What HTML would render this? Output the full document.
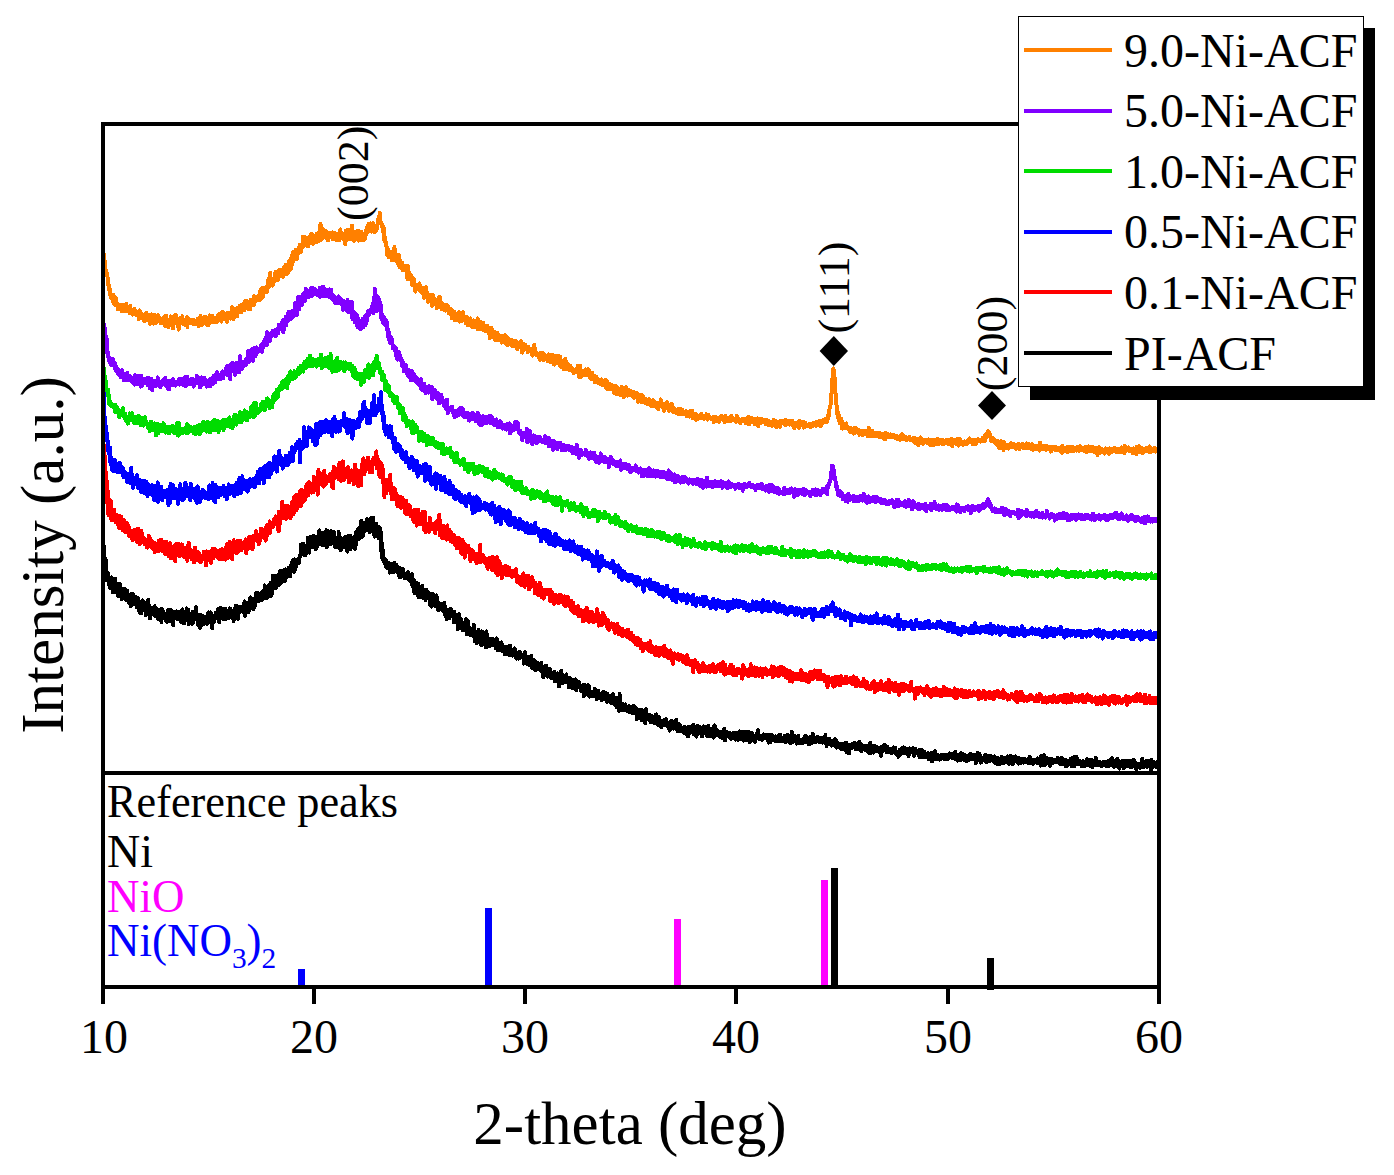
<!DOCTYPE html>
<html><head><meta charset="utf-8"><style>
html,body{margin:0;padding:0;background:#fff;}
svg{display:block;}
text{font-family:"Liberation Serif", serif;}
</style></head><body>
<svg width="1394" height="1175" viewBox="0 0 1394 1175">
<rect x="0" y="0" width="1394" height="1175" fill="#fff"/>
<g clip-path="url(#clip)">
<polyline fill="none" stroke="#FF8000" stroke-width="4.0" stroke-linejoin="round" shape-rendering="crispEdges" points="103.00,250.5 103.42,253.4 103.84,255.0 104.26,260.4 104.68,260.8 105.10,264.2 105.52,268.8 105.94,271.3 106.36,272.9 106.78,272.9 107.20,274.8 107.62,277.3 108.04,281.6 108.46,285.4 108.88,285.5 109.30,287.7 109.72,294.2 110.14,289.4 110.56,295.4 110.98,298.0 111.40,294.7 111.82,295.0 112.24,296.7 112.66,301.3 113.08,299.6 113.50,295.1 113.92,299.7 114.34,304.3 114.76,304.7 115.18,304.2 115.60,302.1 116.02,298.0 116.44,304.2 116.86,303.6 117.28,304.8 117.70,309.4 118.12,305.9 118.54,306.5 118.96,307.8 119.38,305.7 119.80,304.8 120.22,304.9 120.64,309.5 121.06,309.1 121.48,306.5 121.90,311.4 122.32,308.9 122.74,304.7 123.16,310.5 123.58,308.6 124.00,305.4 124.42,310.8 124.84,308.5 125.26,308.5 125.68,311.5 126.10,303.8 126.52,306.5 126.94,309.1 127.36,311.1 127.78,308.7 128.20,307.9 128.62,307.9 129.04,310.7 129.46,313.1 129.88,307.3 130.30,305.7 130.72,310.8 131.14,310.8 131.56,309.4 131.98,313.9 132.40,314.6 132.82,310.9 133.24,311.6 133.66,314.3 134.08,311.7 134.50,309.1 134.92,313.0 135.34,310.8 135.76,314.4 136.18,312.2 136.60,313.2 137.02,315.4 137.44,313.7 137.86,312.4 138.28,311.5 138.70,319.3 139.12,317.7 139.54,310.5 139.96,311.9 140.38,316.6 140.80,313.5 141.22,315.3 141.64,317.7 142.06,315.9 142.48,315.3 142.90,314.5 143.32,315.7 143.74,317.2 144.16,321.1 144.58,319.3 145.00,316.0 145.42,319.2 145.84,317.1 146.26,312.8 146.68,316.8 147.10,320.0 147.52,315.7 147.94,320.1 148.36,316.8 148.78,317.8 149.20,314.6 149.62,323.8 150.04,319.4 150.46,321.1 150.88,317.2 151.30,314.5 151.72,322.0 152.14,316.8 152.56,323.5 152.98,318.6 153.40,323.7 153.82,317.3 154.24,314.6 154.66,321.5 155.08,319.5 155.50,319.8 155.92,322.8 156.34,317.6 156.76,316.5 157.18,317.0 157.60,315.7 158.02,315.4 158.44,317.0 158.86,318.0 159.28,319.5 159.70,317.5 160.12,320.6 160.54,323.1 160.96,320.5 161.38,322.4 161.80,318.8 162.22,322.2 162.64,322.8 163.06,319.8 163.48,317.4 163.90,321.2 164.32,321.8 164.74,325.8 165.16,320.8 165.58,326.5 166.00,315.5 166.42,321.3 166.84,320.9 167.26,321.2 167.68,320.9 168.10,322.3 168.52,326.9 168.94,322.1 169.36,325.8 169.78,322.4 170.20,323.0 170.62,316.3 171.04,323.0 171.46,324.4 171.88,319.7 172.30,321.1 172.72,320.4 173.14,328.5 173.56,320.1 173.98,320.7 174.40,315.3 174.82,318.4 175.24,323.1 175.66,319.1 176.08,315.0 176.50,321.7 176.92,322.7 177.34,323.0 177.76,323.3 178.18,320.6 178.60,329.7 179.02,320.6 179.44,323.2 179.86,318.5 180.28,320.2 180.70,317.7 181.12,322.4 181.54,320.6 181.96,319.0 182.38,316.2 182.80,323.1 183.22,323.7 183.64,323.8 184.06,321.2 184.48,323.3 184.90,323.9 185.32,322.8 185.74,325.3 186.16,320.9 186.58,321.9 187.00,317.3 187.42,327.1 187.84,319.4 188.26,322.3 188.68,323.2 189.10,319.3 189.52,321.4 189.94,323.4 190.36,321.2 190.78,320.7 191.20,320.7 191.62,319.6 192.04,321.1 192.46,322.5 192.88,322.8 193.30,324.5 193.72,321.7 194.14,320.2 194.56,323.9 194.98,322.5 195.40,324.3 195.82,322.1 196.24,323.1 196.66,322.7 197.08,323.6 197.50,319.0 197.92,321.3 198.34,322.1 198.76,326.3 199.18,321.4 199.60,322.9 200.02,321.2 200.44,316.0 200.86,325.0 201.28,323.5 201.70,325.0 202.12,317.9 202.54,322.4 202.96,322.1 203.38,317.3 203.80,322.8 204.22,319.9 204.64,322.8 205.06,316.9 205.48,319.0 205.90,319.4 206.32,317.2 206.74,321.4 207.16,324.7 207.58,321.1 208.00,322.8 208.42,325.0 208.84,322.4 209.26,319.8 209.68,315.5 210.10,321.6 210.52,319.7 210.94,319.3 211.36,322.4 211.78,321.8 212.20,316.0 212.62,320.8 213.04,319.2 213.46,322.3 213.88,319.8 214.30,322.3 214.72,317.9 215.14,318.5 215.56,318.0 215.98,318.9 216.40,318.7 216.82,322.5 217.24,316.4 217.66,319.2 218.08,315.6 218.50,314.7 218.92,316.9 219.34,314.2 219.76,318.6 220.18,316.0 220.60,316.3 221.02,318.8 221.44,321.7 221.86,315.7 222.28,311.6 222.70,315.7 223.12,316.5 223.54,319.5 223.96,316.0 224.38,313.5 224.80,318.3 225.22,318.5 225.64,314.8 226.06,315.9 226.48,315.9 226.90,321.8 227.32,312.8 227.74,313.1 228.16,313.8 228.58,315.8 229.00,312.8 229.42,314.9 229.84,315.7 230.26,318.6 230.68,312.4 231.10,311.8 231.52,311.6 231.94,307.2 232.36,308.9 232.78,312.4 233.20,312.2 233.62,318.9 234.04,314.9 234.46,313.4 234.88,315.2 235.30,309.1 235.72,309.2 236.14,308.5 236.56,310.0 236.98,316.3 237.40,309.3 237.82,308.1 238.24,309.8 238.66,311.9 239.08,310.7 239.50,311.6 239.92,305.6 240.34,306.3 240.76,307.9 241.18,308.7 241.60,312.1 242.02,304.4 242.44,309.6 242.86,307.0 243.28,309.1 243.70,305.3 244.12,303.0 244.54,310.1 244.96,307.3 245.38,300.8 245.80,308.0 246.22,302.9 246.64,305.3 247.06,305.3 247.48,301.2 247.90,308.0 248.32,303.1 248.74,308.9 249.16,305.4 249.58,305.2 250.00,304.3 250.42,308.9 250.84,300.0 251.26,300.4 251.68,300.5 252.10,305.4 252.52,304.8 252.94,301.8 253.36,302.0 253.78,296.2 254.20,304.9 254.62,299.7 255.04,300.3 255.46,298.8 255.88,301.2 256.30,298.4 256.72,299.0 257.14,298.6 257.56,296.5 257.98,295.9 258.40,298.4 258.82,298.0 259.24,298.7 259.66,300.4 260.08,292.2 260.50,290.0 260.92,293.7 261.34,298.2 261.76,293.9 262.18,288.2 262.60,297.7 263.02,294.0 263.44,287.6 263.86,289.1 264.28,291.3 264.70,288.8 265.12,289.5 265.54,290.9 265.96,288.8 266.38,292.4 266.80,287.1 267.22,291.6 267.64,284.9 268.06,282.5 268.48,279.2 268.90,282.3 269.32,284.7 269.74,286.7 270.16,273.0 270.58,282.6 271.00,279.3 271.42,283.8 271.84,279.6 272.26,281.6 272.68,285.7 273.10,280.1 273.52,278.8 273.94,281.8 274.36,279.2 274.78,277.3 275.20,272.5 275.62,275.9 276.04,271.4 276.46,276.7 276.88,277.4 277.30,275.4 277.72,280.4 278.14,270.9 278.56,275.2 278.98,273.7 279.40,269.6 279.82,274.4 280.24,275.1 280.66,275.7 281.08,271.5 281.50,273.7 281.92,269.5 282.34,275.9 282.76,276.7 283.18,271.4 283.60,271.4 284.02,267.2 284.44,270.3 284.86,268.9 285.28,270.4 285.70,265.1 286.12,274.6 286.54,269.4 286.96,271.7 287.38,269.4 287.80,266.5 288.22,272.8 288.64,269.7 289.06,260.9 289.48,264.8 289.90,263.5 290.32,261.0 290.74,269.6 291.16,258.2 291.58,266.2 292.00,255.3 292.42,264.3 292.84,257.7 293.26,251.6 293.68,258.9 294.10,259.0 294.52,253.9 294.94,259.6 295.36,250.1 295.78,258.4 296.20,256.0 296.62,259.2 297.04,251.6 297.46,255.0 297.88,249.7 298.30,253.6 298.72,251.2 299.14,252.4 299.56,245.1 299.98,250.3 300.40,249.3 300.82,252.4 301.24,245.8 301.66,245.8 302.08,247.9 302.50,247.0 302.92,236.5 303.34,243.3 303.76,246.6 304.18,242.2 304.60,236.8 305.02,241.4 305.44,242.1 305.86,238.7 306.28,241.9 306.70,237.8 307.12,240.5 307.54,241.1 307.96,246.5 308.38,241.6 308.80,244.4 309.22,240.8 309.64,236.1 310.06,235.9 310.48,242.1 310.90,234.1 311.32,233.9 311.74,241.9 312.16,236.1 312.58,234.8 313.00,243.9 313.42,235.4 313.84,240.1 314.26,237.8 314.68,238.2 315.10,237.8 315.52,240.8 315.94,242.2 316.36,234.1 316.78,242.1 317.20,236.1 317.62,236.1 318.04,238.7 318.46,234.5 318.88,233.0 319.30,240.8 319.72,233.6 320.14,228.2 320.56,223.9 320.98,235.6 321.40,233.7 321.82,239.6 322.24,229.7 322.66,229.2 323.08,233.1 323.50,237.3 323.92,237.4 324.34,232.7 324.76,230.4 325.18,233.1 325.60,237.7 326.02,232.5 326.44,231.5 326.86,234.6 327.28,234.0 327.70,233.9 328.12,240.6 328.54,236.2 328.96,234.6 329.38,233.3 329.80,233.7 330.22,236.5 330.64,237.4 331.06,233.0 331.48,233.5 331.90,234.5 332.32,232.4 332.74,239.2 333.16,232.7 333.58,236.3 334.00,239.2 334.42,232.8 334.84,233.3 335.26,235.8 335.68,238.0 336.10,237.0 336.52,236.6 336.94,240.6 337.36,234.6 337.78,234.2 338.20,238.6 338.62,236.8 339.04,239.5 339.46,239.9 339.88,232.7 340.30,229.4 340.72,238.0 341.14,236.0 341.56,237.0 341.98,233.0 342.40,238.6 342.82,235.1 343.24,237.6 343.66,238.8 344.08,236.1 344.50,235.3 344.92,233.3 345.34,244.4 345.76,230.8 346.18,237.6 346.60,230.2 347.02,232.3 347.44,239.6 347.86,232.4 348.28,238.3 348.70,233.4 349.12,237.5 349.54,229.9 349.96,230.8 350.38,239.4 350.80,235.7 351.22,231.3 351.64,233.2 352.06,225.8 352.48,234.2 352.90,231.1 353.32,232.5 353.74,240.9 354.16,234.3 354.58,234.3 355.00,232.9 355.42,238.9 355.84,238.7 356.26,234.1 356.68,231.4 357.10,236.2 357.52,237.3 357.94,230.4 358.36,240.7 358.78,233.9 359.20,237.2 359.62,234.3 360.04,234.4 360.46,239.9 360.88,237.2 361.30,231.9 361.72,238.0 362.14,239.6 362.56,236.3 362.98,240.4 363.40,233.7 363.82,239.5 364.24,236.5 364.66,235.6 365.08,238.7 365.50,235.5 365.92,231.0 366.34,232.7 366.76,227.7 367.18,230.6 367.60,232.4 368.02,231.3 368.44,224.1 368.86,225.3 369.28,228.0 369.70,227.8 370.12,223.4 370.54,226.8 370.96,227.6 371.38,231.7 371.80,227.7 372.22,226.9 372.64,223.9 373.06,223.2 373.48,231.3 373.90,228.7 374.32,227.2 374.74,232.1 375.16,230.5 375.58,228.6 376.00,231.1 376.42,226.7 376.84,229.5 377.26,227.1 377.68,222.8 378.10,221.2 378.52,218.0 378.94,221.4 379.36,215.9 379.78,212.6 380.20,220.4 380.62,221.7 381.04,222.0 381.46,224.4 381.88,223.9 382.30,224.6 382.72,231.3 383.14,226.8 383.56,227.9 383.98,231.1 384.40,240.9 384.82,237.0 385.24,241.8 385.66,242.2 386.08,242.6 386.50,246.5 386.92,247.6 387.34,255.1 387.76,248.5 388.18,251.1 388.60,257.4 389.02,256.1 389.44,254.1 389.86,255.5 390.28,253.0 390.70,256.2 391.12,254.9 391.54,251.8 391.96,260.4 392.38,255.3 392.80,257.5 393.22,254.5 393.64,252.7 394.06,251.4 394.48,247.0 394.90,259.8 395.32,252.9 395.74,257.3 396.16,259.5 396.58,255.4 397.00,259.0 397.42,262.4 397.84,261.1 398.26,264.2 398.68,254.7 399.10,265.4 399.52,266.8 399.94,260.5 400.36,267.6 400.78,264.5 401.20,265.4 401.62,268.3 402.04,262.4 402.46,270.0 402.88,265.5 403.30,270.5 403.72,268.2 404.14,269.6 404.56,266.5 404.98,269.3 405.40,266.1 405.82,267.9 406.24,266.1 406.66,270.6 407.08,268.2 407.50,279.0 407.92,269.6 408.34,266.2 408.76,277.0 409.18,273.3 409.60,276.8 410.02,276.4 410.44,274.8 410.86,276.4 411.28,275.9 411.70,284.4 412.12,283.0 412.54,277.9 412.96,285.6 413.38,285.1 413.80,279.0 414.22,281.9 414.64,286.0 415.06,286.0 415.48,291.7 415.90,285.9 416.32,289.0 416.74,285.0 417.16,286.4 417.58,287.1 418.00,287.1 418.42,288.2 418.84,288.1 419.26,283.4 419.68,290.6 420.10,285.5 420.52,291.7 420.94,291.6 421.36,292.2 421.78,288.8 422.20,291.9 422.62,293.6 423.04,290.4 423.46,288.1 423.88,297.9 424.30,292.6 424.72,292.3 425.14,291.3 425.56,291.0 425.98,287.1 426.40,292.1 426.82,292.4 427.24,293.3 427.66,301.8 428.08,296.0 428.50,295.4 428.92,297.0 429.34,294.7 429.76,301.0 430.18,301.0 430.60,295.4 431.02,300.7 431.44,300.2 431.86,305.9 432.28,302.0 432.70,294.5 433.12,297.6 433.54,301.3 433.96,300.9 434.38,303.1 434.80,299.3 435.22,300.7 435.64,304.5 436.06,302.2 436.48,300.7 436.90,308.0 437.32,301.1 437.74,302.1 438.16,299.5 438.58,303.1 439.00,297.6 439.42,307.4 439.84,296.9 440.26,306.1 440.68,301.5 441.10,305.3 441.52,308.9 441.94,304.9 442.36,306.7 442.78,303.7 443.20,305.0 443.62,309.7 444.04,304.5 444.46,309.4 444.88,307.8 445.30,306.5 445.72,310.7 446.14,305.6 446.56,309.6 446.98,305.2 447.40,308.5 447.82,305.9 448.24,310.4 448.66,312.8 449.08,313.4 449.50,312.0 449.92,311.8 450.34,310.2 450.76,310.7 451.18,309.4 451.60,318.2 452.02,312.5 452.44,312.7 452.86,313.8 453.28,311.4 453.70,318.6 454.12,313.1 454.54,312.0 454.96,320.0 455.38,318.7 455.80,317.5 456.22,314.7 456.64,320.4 457.06,316.7 457.48,317.7 457.90,320.4 458.32,318.0 458.74,316.5 459.16,312.1 459.58,321.5 460.00,312.4 460.42,316.7 460.84,316.5 461.26,317.7 461.68,318.3 462.10,320.9 462.52,318.8 462.94,312.2 463.36,320.0 463.78,316.9 464.20,319.2 464.62,317.0 465.04,320.3 465.46,320.0 465.88,323.1 466.30,322.3 466.72,323.8 467.14,317.3 467.56,325.2 467.98,320.2 468.40,322.9 468.82,323.7 469.24,324.0 469.66,321.7 470.08,318.4 470.50,324.6 470.92,326.0 471.34,325.9 471.76,325.9 472.18,327.3 472.60,325.6 473.02,322.1 473.44,325.3 473.86,320.4 474.28,323.4 474.70,323.9 475.12,326.8 475.54,323.1 475.96,323.4 476.38,322.7 476.80,325.6 477.22,319.8 477.64,318.5 478.06,329.3 478.48,328.2 478.90,326.8 479.32,326.2 479.74,323.8 480.16,321.6 480.58,327.0 481.00,323.0 481.42,328.8 481.84,327.2 482.26,322.9 482.68,327.6 483.10,322.5 483.52,325.5 483.94,330.2 484.36,326.0 484.78,327.4 485.20,326.7 485.62,327.2 486.04,331.5 486.46,330.4 486.88,330.8 487.30,325.6 487.72,329.3 488.14,328.3 488.56,330.9 488.98,328.1 489.40,333.7 489.82,338.5 490.24,332.0 490.66,330.4 491.08,334.2 491.50,328.1 491.92,331.2 492.34,335.2 492.76,332.1 493.18,333.3 493.60,337.2 494.02,334.5 494.44,335.6 494.86,331.8 495.28,340.2 495.70,333.9 496.12,336.3 496.54,335.6 496.96,335.5 497.38,332.7 497.80,335.5 498.22,336.7 498.64,340.3 499.06,337.4 499.48,336.1 499.90,338.0 500.32,338.2 500.74,337.7 501.16,338.9 501.58,342.7 502.00,338.7 502.42,335.6 502.84,337.8 503.26,338.6 503.68,337.8 504.10,340.2 504.52,342.5 504.94,335.2 505.36,337.6 505.78,339.4 506.20,342.4 506.62,336.3 507.04,343.6 507.46,345.1 507.88,344.4 508.30,342.2 508.72,338.4 509.14,340.5 509.56,340.3 509.98,342.3 510.40,344.5 510.82,343.8 511.24,340.2 511.66,345.0 512.08,345.7 512.50,340.3 512.92,340.4 513.34,341.8 513.76,344.0 514.18,340.7 514.60,346.3 515.02,343.9 515.44,345.6 515.86,342.2 516.28,341.5 516.70,344.9 517.12,349.2 517.54,346.2 517.96,347.8 518.38,343.4 518.80,343.1 519.22,344.7 519.64,346.4 520.06,345.1 520.48,342.1 520.90,341.3 521.32,346.1 521.74,345.2 522.16,352.6 522.58,344.5 523.00,343.7 523.42,348.1 523.84,345.7 524.26,346.8 524.68,349.5 525.10,344.7 525.52,346.3 525.94,346.0 526.36,346.2 526.78,346.5 527.20,347.7 527.62,352.1 528.04,348.6 528.46,346.8 528.88,349.2 529.30,348.1 529.72,350.3 530.14,350.3 530.56,348.7 530.98,350.2 531.40,352.7 531.82,354.8 532.24,351.6 532.66,355.5 533.08,354.9 533.50,349.3 533.92,351.5 534.34,345.0 534.76,350.6 535.18,352.8 535.60,351.4 536.02,353.9 536.44,353.1 536.86,355.0 537.28,353.1 537.70,355.5 538.12,355.0 538.54,355.4 538.96,357.3 539.38,353.3 539.80,359.8 540.22,355.6 540.64,356.6 541.06,355.5 541.48,355.1 541.90,352.9 542.32,355.2 542.74,353.0 543.16,353.5 543.58,360.5 544.00,356.9 544.42,356.3 544.84,354.7 545.26,357.2 545.68,357.4 546.10,359.0 546.52,357.3 546.94,358.2 547.36,360.8 547.78,359.3 548.20,360.8 548.62,354.3 549.04,357.8 549.46,361.5 549.88,359.2 550.30,362.4 550.72,358.4 551.14,362.1 551.56,354.9 551.98,357.7 552.40,360.1 552.82,357.0 553.24,355.1 553.66,362.2 554.08,364.6 554.50,361.2 554.92,357.4 555.34,360.7 555.76,357.7 556.18,356.0 556.60,362.6 557.02,362.7 557.44,361.7 557.86,358.5 558.28,355.6 558.70,363.4 559.12,361.9 559.54,364.8 559.96,358.5 560.38,356.8 560.80,365.0 561.22,366.7 561.64,365.6 562.06,364.8 562.48,363.8 562.90,365.2 563.32,362.3 563.74,369.2 564.16,368.0 564.58,360.0 565.00,367.5 565.42,359.1 565.84,365.6 566.26,364.3 566.68,368.9 567.10,365.8 567.52,365.3 567.94,369.0 568.36,364.4 568.78,364.6 569.20,370.1 569.62,368.2 570.04,367.6 570.46,366.1 570.88,367.5 571.30,367.1 571.72,369.1 572.14,369.0 572.56,368.5 572.98,368.9 573.40,372.9 573.82,371.1 574.24,370.8 574.66,369.8 575.08,371.0 575.50,370.5 575.92,371.3 576.34,372.0 576.76,369.7 577.18,369.8 577.60,365.9 578.02,369.1 578.44,372.2 578.86,377.0 579.28,377.3 579.70,372.0 580.12,365.7 580.54,373.5 580.96,373.9 581.38,376.6 581.80,371.5 582.22,372.8 582.64,373.1 583.06,373.9 583.48,371.1 583.90,375.0 584.32,372.6 584.74,374.6 585.16,374.3 585.58,369.4 586.00,375.2 586.42,372.0 586.84,372.5 587.26,372.8 587.68,372.0 588.10,374.7 588.52,369.2 588.94,374.0 589.36,376.0 589.78,376.7 590.20,378.5 590.62,378.7 591.04,378.7 591.46,376.1 591.88,374.9 592.30,372.9 592.72,375.7 593.14,377.4 593.56,376.5 593.98,375.5 594.40,379.9 594.82,382.4 595.24,377.7 595.66,381.7 596.08,380.2 596.50,377.0 596.92,379.7 597.34,378.3 597.76,382.8 598.18,383.1 598.60,381.7 599.02,380.1 599.44,382.2 599.86,382.1 600.28,384.4 600.70,384.4 601.12,383.8 601.54,379.4 601.96,383.9 602.38,385.1 602.80,382.0 603.22,381.0 603.64,385.0 604.06,380.8 604.48,382.5 604.90,383.2 605.32,381.9 605.74,379.9 606.16,388.4 606.58,383.9 607.00,381.8 607.42,389.0 607.84,385.7 608.26,388.6 608.68,389.2 609.10,383.9 609.52,387.7 609.94,388.0 610.36,384.6 610.78,384.6 611.20,389.3 611.62,387.5 612.04,384.8 612.46,385.6 612.88,387.5 613.30,386.1 613.72,392.1 614.14,392.9 614.56,390.1 614.98,387.4 615.40,386.1 615.82,387.5 616.24,394.2 616.66,392.2 617.08,387.4 617.50,388.6 617.92,391.9 618.34,388.9 618.76,389.0 619.18,391.1 619.60,392.0 620.02,390.4 620.44,395.3 620.86,390.8 621.28,390.0 621.70,386.7 622.12,388.4 622.54,390.6 622.96,390.5 623.38,388.1 623.80,397.2 624.22,392.5 624.64,392.1 625.06,391.2 625.48,391.2 625.90,387.3 626.32,392.0 626.74,389.7 627.16,389.2 627.58,395.8 628.00,392.5 628.42,393.3 628.84,392.5 629.26,391.8 629.68,390.4 630.10,394.9 630.52,391.2 630.94,391.0 631.36,391.2 631.78,394.8 632.20,395.2 632.62,395.9 633.04,394.3 633.46,394.5 633.88,397.9 634.30,392.2 634.72,396.9 635.14,396.1 635.56,394.9 635.98,394.3 636.40,393.1 636.82,393.5 637.24,394.4 637.66,396.3 638.08,401.7 638.50,396.1 638.92,397.4 639.34,397.0 639.76,395.2 640.18,396.4 640.60,401.8 641.02,398.9 641.44,395.9 641.86,394.9 642.28,402.2 642.70,398.9 643.12,396.9 643.54,401.5 643.96,399.5 644.38,398.8 644.80,400.2 645.22,403.3 645.64,398.6 646.06,402.3 646.48,401.1 646.90,399.9 647.32,404.3 647.74,400.5 648.16,401.7 648.58,400.5 649.00,398.9 649.42,402.4 649.84,399.6 650.26,405.6 650.68,405.3 651.10,401.0 651.52,401.1 651.94,400.7 652.36,406.1 652.78,400.2 653.20,400.4 653.62,400.9 654.04,401.1 654.46,406.1 654.88,402.4 655.30,403.7 655.72,403.1 656.14,403.2 656.56,407.8 656.98,407.5 657.40,405.0 657.82,402.7 658.24,409.0 658.66,404.6 659.08,402.6 659.50,403.0 659.92,404.9 660.34,406.4 660.76,399.4 661.18,406.0 661.60,405.2 662.02,406.6 662.44,403.9 662.86,407.8 663.28,405.0 663.70,408.4 664.12,411.0 664.54,407.0 664.96,407.3 665.38,407.4 665.80,403.5 666.22,408.0 666.64,404.2 667.06,402.3 667.48,407.4 667.90,409.0 668.32,406.1 668.74,404.6 669.16,410.8 669.58,405.0 670.00,410.5 670.42,408.0 670.84,406.4 671.26,409.4 671.68,404.0 672.10,407.6 672.52,409.1 672.94,409.2 673.36,412.2 673.78,407.5 674.20,410.8 674.62,409.5 675.04,411.5 675.46,410.9 675.88,412.5 676.30,410.2 676.72,413.3 677.14,410.7 677.56,409.4 677.98,411.1 678.40,411.4 678.82,414.2 679.24,409.1 679.66,411.5 680.08,409.1 680.50,413.6 680.92,413.6 681.34,413.3 681.76,409.4 682.18,410.1 682.60,412.2 683.02,413.2 683.44,414.0 683.86,411.8 684.28,413.1 684.70,412.2 685.12,412.1 685.54,412.5 685.96,411.2 686.38,415.2 686.80,416.2 687.22,414.7 687.64,412.8 688.06,416.6 688.48,412.0 688.90,416.2 689.32,415.9 689.74,416.5 690.16,410.9 690.58,415.0 691.00,413.5 691.42,416.0 691.84,415.0 692.26,410.6 692.68,416.1 693.10,418.4 693.52,415.9 693.94,416.5 694.36,415.5 694.78,416.3 695.20,414.3 695.62,418.6 696.04,420.0 696.46,414.3 696.88,416.7 697.30,415.1 697.72,419.0 698.14,416.5 698.56,417.7 698.98,415.8 699.40,418.4 699.82,417.9 700.24,417.1 700.66,417.6 701.08,413.8 701.50,418.3 701.92,414.8 702.34,415.7 702.76,417.0 703.18,418.3 703.60,418.7 704.02,417.6 704.44,417.6 704.86,418.6 705.28,415.7 705.70,417.5 706.12,416.2 706.54,414.2 706.96,415.4 707.38,419.7 707.80,416.6 708.22,414.6 708.64,417.9 709.06,416.7 709.48,417.0 709.90,417.3 710.32,418.6 710.74,418.5 711.16,417.9 711.58,418.6 712.00,418.1 712.42,419.0 712.84,419.7 713.26,418.3 713.68,422.2 714.10,416.7 714.52,417.7 714.94,418.3 715.36,421.2 715.78,420.6 716.20,419.5 716.62,417.4 717.04,419.7 717.46,418.9 717.88,418.4 718.30,421.3 718.72,421.9 719.14,419.7 719.56,417.9 719.98,419.6 720.40,417.3 720.82,416.3 721.24,415.7 721.66,418.6 722.08,418.4 722.50,417.6 722.92,418.0 723.34,418.4 723.76,417.0 724.18,419.7 724.60,421.9 725.02,418.6 725.44,415.8 725.86,418.9 726.28,419.4 726.70,420.2 727.12,421.1 727.54,420.6 727.96,421.2 728.38,419.1 728.80,419.9 729.22,418.0 729.64,418.4 730.06,420.7 730.48,418.9 730.90,416.6 731.32,415.7 731.74,420.7 732.16,418.7 732.58,418.4 733.00,417.9 733.42,420.1 733.84,419.2 734.26,418.9 734.68,418.9 735.10,419.1 735.52,421.1 735.94,419.8 736.36,421.9 736.78,416.0 737.20,418.2 737.62,421.1 738.04,418.2 738.46,419.3 738.88,418.9 739.30,419.8 739.72,420.2 740.14,423.3 740.56,421.5 740.98,420.1 741.40,420.7 741.82,420.7 742.24,419.8 742.66,418.7 743.08,420.7 743.50,421.1 743.92,418.7 744.34,419.7 744.76,420.7 745.18,420.7 745.60,423.1 746.02,419.6 746.44,418.8 746.86,421.0 747.28,418.3 747.70,419.8 748.12,416.8 748.54,421.1 748.96,424.5 749.38,419.6 749.80,419.8 750.22,421.5 750.64,422.3 751.06,417.6 751.48,420.1 751.90,420.8 752.32,420.7 752.74,421.2 753.16,420.4 753.58,420.3 754.00,418.8 754.42,424.0 754.84,421.0 755.26,423.1 755.68,420.9 756.10,421.3 756.52,420.9 756.94,422.2 757.36,421.3 757.78,418.5 758.20,426.1 758.62,421.8 759.04,420.1 759.46,418.7 759.88,420.1 760.30,421.1 760.72,419.9 761.14,422.7 761.56,419.0 761.98,422.0 762.40,422.3 762.82,420.0 763.24,420.0 763.66,420.4 764.08,422.2 764.50,421.4 764.92,421.4 765.34,422.6 765.76,424.3 766.18,421.2 766.60,420.2 767.02,422.1 767.44,422.2 767.86,424.7 768.28,424.1 768.70,422.9 769.12,421.4 769.54,425.1 769.96,421.8 770.38,423.7 770.80,423.9 771.22,424.7 771.64,421.9 772.06,426.0 772.48,425.0 772.90,422.7 773.32,422.9 773.74,419.9 774.16,423.7 774.58,424.2 775.00,421.6 775.42,423.1 775.84,421.1 776.26,427.5 776.68,421.9 777.10,423.0 777.52,423.7 777.94,422.1 778.36,423.5 778.78,424.3 779.20,426.3 779.62,424.7 780.04,426.7 780.46,420.6 780.88,421.3 781.30,420.7 781.72,422.6 782.14,421.8 782.56,421.9 782.98,422.9 783.40,423.3 783.82,421.3 784.24,423.1 784.66,422.9 785.08,422.7 785.50,425.3 785.92,420.0 786.34,422.3 786.76,422.3 787.18,422.5 787.60,422.6 788.02,422.1 788.44,422.5 788.86,424.6 789.28,424.6 789.70,421.5 790.12,420.5 790.54,422.7 790.96,420.9 791.38,424.4 791.80,424.5 792.22,420.8 792.64,425.1 793.06,424.0 793.48,422.3 793.90,426.2 794.32,428.3 794.74,424.2 795.16,424.9 795.58,422.7 796.00,425.4 796.42,423.9 796.84,425.8 797.26,424.4 797.68,425.3 798.10,423.8 798.52,422.2 798.94,425.5 799.36,427.9 799.78,420.6 800.20,425.3 800.62,423.1 801.04,422.4 801.46,425.3 801.88,424.7 802.30,425.2 802.72,425.6 803.14,421.6 803.56,427.6 803.98,427.3 804.40,423.8 804.82,424.9 805.24,422.7 805.66,425.3 806.08,425.0 806.50,425.3 806.92,424.5 807.34,425.8 807.76,425.0 808.18,424.5 808.60,425.3 809.02,425.9 809.44,426.0 809.86,425.5 810.28,427.2 810.70,424.1 811.12,427.0 811.54,423.9 811.96,424.0 812.38,423.9 812.80,426.1 813.22,423.7 813.64,422.6 814.06,425.1 814.48,422.9 814.90,423.8 815.32,424.1 815.74,424.2 816.16,425.8 816.58,423.6 817.00,421.5 817.42,425.1 817.84,422.2 818.26,421.5 818.68,422.7 819.10,424.6 819.52,420.8 819.94,421.7 820.36,424.7 820.78,425.9 821.20,422.8 821.62,424.1 822.04,422.8 822.46,422.2 822.88,420.3 823.30,422.1 823.72,420.7 824.14,421.0 824.56,421.3 824.98,421.4 825.40,418.9 825.82,419.2 826.24,421.0 826.66,422.2 827.08,418.8 827.50,419.3 827.92,418.4 828.34,415.1 828.76,416.1 829.18,411.7 829.60,408.5 830.02,407.5 830.44,406.3 830.86,400.0 831.28,398.5 831.70,389.5 832.12,385.6 832.54,377.3 832.96,375.1 833.38,368.4 833.80,369.9 834.22,374.2 834.64,378.7 835.06,388.7 835.48,392.4 835.90,398.0 836.32,403.6 836.74,407.2 837.16,413.6 837.58,412.5 838.00,417.8 838.42,412.8 838.84,419.5 839.26,419.0 839.68,423.5 840.10,419.1 840.52,421.7 840.94,422.5 841.36,418.6 841.78,423.1 842.20,428.6 842.62,424.2 843.04,425.9 843.46,424.6 843.88,427.7 844.30,424.1 844.72,424.0 845.14,427.3 845.56,424.1 845.98,426.7 846.40,423.5 846.82,428.3 847.24,426.8 847.66,428.1 848.08,428.5 848.50,429.1 848.92,428.3 849.34,428.4 849.76,431.1 850.18,432.0 850.60,427.7 851.02,429.3 851.44,430.0 851.86,429.8 852.28,432.7 852.70,431.1 853.12,430.7 853.54,431.9 853.96,433.6 854.38,428.1 854.80,432.4 855.22,431.3 855.64,431.1 856.06,431.6 856.48,428.5 856.90,431.7 857.32,432.5 857.74,431.3 858.16,429.9 858.58,430.9 859.00,433.4 859.42,434.9 859.84,432.2 860.26,433.4 860.68,434.4 861.10,432.9 861.52,430.9 861.94,432.9 862.36,435.3 862.78,431.4 863.20,431.8 863.62,430.6 864.04,432.8 864.46,431.0 864.88,434.0 865.30,434.1 865.72,431.8 866.14,432.3 866.56,432.9 866.98,431.1 867.40,432.0 867.82,436.0 868.24,433.1 868.66,427.9 869.08,435.4 869.50,433.3 869.92,433.3 870.34,435.8 870.76,435.7 871.18,435.4 871.60,435.8 872.02,430.8 872.44,435.2 872.86,432.7 873.28,433.7 873.70,435.7 874.12,435.6 874.54,434.7 874.96,433.3 875.38,436.1 875.80,433.7 876.22,434.7 876.64,434.9 877.06,435.3 877.48,433.0 877.90,435.8 878.32,435.6 878.74,433.9 879.16,435.5 879.58,437.0 880.00,433.0 880.42,434.8 880.84,433.7 881.26,434.3 881.68,436.6 882.10,434.7 882.52,434.2 882.94,437.2 883.36,436.2 883.78,436.8 884.20,439.3 884.62,435.1 885.04,432.8 885.46,439.0 885.88,435.7 886.30,436.1 886.72,437.1 887.14,436.8 887.56,433.9 887.98,434.3 888.40,434.3 888.82,434.8 889.24,436.1 889.66,437.0 890.08,437.1 890.50,434.5 890.92,436.0 891.34,435.0 891.76,435.5 892.18,437.4 892.60,436.5 893.02,434.8 893.44,437.2 893.86,437.2 894.28,437.2 894.70,436.5 895.12,436.7 895.54,438.3 895.96,436.3 896.38,437.4 896.80,435.8 897.22,438.1 897.64,439.2 898.06,436.8 898.48,437.4 898.90,437.5 899.32,437.0 899.74,439.8 900.16,437.6 900.58,435.4 901.00,439.0 901.42,436.6 901.84,439.1 902.26,434.3 902.68,439.5 903.10,436.2 903.52,437.3 903.94,438.2 904.36,438.8 904.78,436.3 905.20,439.1 905.62,439.4 906.04,438.2 906.46,438.4 906.88,440.2 907.30,437.6 907.72,439.4 908.14,438.9 908.56,438.6 908.98,437.7 909.40,437.0 909.82,439.7 910.24,439.9 910.66,440.3 911.08,438.9 911.50,439.5 911.92,439.4 912.34,440.0 912.76,439.2 913.18,441.5 913.60,438.9 914.02,437.7 914.44,439.7 914.86,439.4 915.28,443.1 915.70,439.2 916.12,438.6 916.54,442.1 916.96,443.3 917.38,443.8 917.80,439.6 918.22,439.4 918.64,445.0 919.06,440.5 919.48,439.0 919.90,442.0 920.32,437.5 920.74,438.0 921.16,440.6 921.58,442.0 922.00,441.1 922.42,441.8 922.84,443.0 923.26,443.9 923.68,440.1 924.10,440.3 924.52,441.9 924.94,440.7 925.36,440.2 925.78,441.1 926.20,439.7 926.62,441.6 927.04,442.6 927.46,441.2 927.88,440.5 928.30,439.4 928.72,440.1 929.14,440.0 929.56,443.9 929.98,444.6 930.40,440.9 930.82,441.9 931.24,444.8 931.66,440.1 932.08,444.9 932.50,440.8 932.92,440.2 933.34,445.0 933.76,440.8 934.18,442.1 934.60,443.0 935.02,441.6 935.44,440.0 935.86,440.9 936.28,442.8 936.70,443.9 937.12,442.6 937.54,439.1 937.96,442.4 938.38,440.7 938.80,443.7 939.22,443.0 939.64,440.7 940.06,440.0 940.48,440.6 940.90,441.8 941.32,442.6 941.74,440.2 942.16,441.5 942.58,443.9 943.00,443.8 943.42,440.5 943.84,444.2 944.26,443.4 944.68,442.2 945.10,443.0 945.52,440.3 945.94,442.0 946.36,442.3 946.78,442.7 947.20,440.3 947.62,443.6 948.04,441.8 948.46,440.1 948.88,444.4 949.30,444.0 949.72,441.9 950.14,440.9 950.56,442.4 950.98,440.0 951.40,438.7 951.82,444.8 952.24,446.3 952.66,443.0 953.08,442.5 953.50,440.9 953.92,440.1 954.34,440.4 954.76,443.2 955.18,442.0 955.60,442.1 956.02,443.5 956.44,441.9 956.86,444.0 957.28,438.5 957.70,442.5 958.12,444.3 958.54,445.6 958.96,443.9 959.38,444.4 959.80,439.0 960.22,443.7 960.64,443.0 961.06,441.2 961.48,442.9 961.90,442.9 962.32,442.2 962.74,443.7 963.16,445.0 963.58,443.8 964.00,443.7 964.42,441.3 964.84,443.3 965.26,442.9 965.68,443.2 966.10,444.3 966.52,442.8 966.94,441.0 967.36,443.5 967.78,441.4 968.20,441.9 968.62,441.8 969.04,442.2 969.46,438.3 969.88,440.7 970.30,442.0 970.72,442.0 971.14,441.6 971.56,442.1 971.98,442.4 972.40,440.3 972.82,444.1 973.24,441.5 973.66,441.9 974.08,441.4 974.50,439.6 974.92,439.6 975.34,441.3 975.76,444.0 976.18,439.9 976.60,441.9 977.02,439.7 977.44,441.5 977.86,439.7 978.28,439.3 978.70,439.4 979.12,439.9 979.54,440.9 979.96,440.4 980.38,439.6 980.80,441.6 981.22,441.4 981.64,440.3 982.06,441.4 982.48,440.0 982.90,438.0 983.32,441.4 983.74,438.7 984.16,438.1 984.58,441.5 985.00,435.2 985.42,435.4 985.84,434.8 986.26,437.1 986.68,435.8 987.10,434.9 987.52,432.0 987.94,431.9 988.36,431.3 988.78,435.0 989.20,432.9 989.62,434.4 990.04,433.8 990.46,438.1 990.88,437.6 991.30,441.4 991.72,440.4 992.14,438.7 992.56,438.0 992.98,438.8 993.40,441.5 993.82,441.1 994.24,441.3 994.66,442.5 995.08,440.1 995.50,440.4 995.92,441.9 996.34,442.2 996.76,441.0 997.18,445.4 997.60,442.9 998.02,441.1 998.44,444.2 998.86,445.4 999.28,448.0 999.70,443.6 1000.12,444.7 1000.54,443.0 1000.96,443.3 1001.38,441.1 1001.80,444.3 1002.22,445.3 1002.64,442.5 1003.06,446.5 1003.48,450.0 1003.90,442.2 1004.32,445.6 1004.74,444.6 1005.16,445.3 1005.58,445.2 1006.00,448.3 1006.42,446.2 1006.84,446.3 1007.26,448.2 1007.68,445.6 1008.10,448.6 1008.52,444.6 1008.94,444.8 1009.36,446.4 1009.78,445.7 1010.20,445.9 1010.62,445.5 1011.04,443.2 1011.46,447.0 1011.88,445.6 1012.30,446.6 1012.72,445.6 1013.14,446.6 1013.56,443.6 1013.98,445.2 1014.40,445.4 1014.82,446.2 1015.24,448.0 1015.66,447.2 1016.08,448.8 1016.50,448.8 1016.92,446.2 1017.34,448.3 1017.76,447.4 1018.18,443.7 1018.60,446.2 1019.02,448.8 1019.44,449.4 1019.86,446.2 1020.28,445.5 1020.70,447.4 1021.12,446.6 1021.54,446.2 1021.96,447.1 1022.38,444.1 1022.80,447.7 1023.22,448.4 1023.64,446.5 1024.06,445.4 1024.48,447.1 1024.90,447.7 1025.32,446.2 1025.74,447.3 1026.16,445.0 1026.58,443.5 1027.00,447.9 1027.42,447.1 1027.84,447.4 1028.26,443.6 1028.68,445.9 1029.10,447.9 1029.52,444.5 1029.94,446.0 1030.36,444.7 1030.78,448.0 1031.20,447.3 1031.62,448.8 1032.04,444.1 1032.46,446.7 1032.88,445.8 1033.30,449.9 1033.72,447.3 1034.14,446.9 1034.56,446.6 1034.98,445.7 1035.40,445.6 1035.82,446.5 1036.24,447.7 1036.66,445.8 1037.08,449.4 1037.50,447.7 1037.92,447.4 1038.34,448.6 1038.76,447.4 1039.18,445.7 1039.60,450.8 1040.02,442.8 1040.44,447.4 1040.86,448.5 1041.28,447.9 1041.70,445.8 1042.12,446.8 1042.54,446.7 1042.96,447.3 1043.38,447.1 1043.80,448.9 1044.22,447.2 1044.64,446.2 1045.06,448.5 1045.48,448.7 1045.90,450.0 1046.32,445.8 1046.74,447.1 1047.16,446.3 1047.58,447.9 1048.00,446.8 1048.42,449.3 1048.84,448.0 1049.26,447.2 1049.68,449.0 1050.10,448.2 1050.52,449.1 1050.94,451.6 1051.36,447.1 1051.78,447.3 1052.20,446.6 1052.62,449.4 1053.04,449.0 1053.46,448.5 1053.88,449.1 1054.30,447.0 1054.72,449.7 1055.14,448.0 1055.56,449.5 1055.98,447.6 1056.40,448.8 1056.82,447.4 1057.24,449.7 1057.66,449.3 1058.08,448.6 1058.50,449.2 1058.92,448.1 1059.34,447.6 1059.76,450.8 1060.18,450.2 1060.60,450.0 1061.02,449.0 1061.44,450.0 1061.86,452.8 1062.28,445.5 1062.70,449.8 1063.12,450.4 1063.54,448.1 1063.96,448.9 1064.38,449.1 1064.80,451.3 1065.22,448.3 1065.64,448.7 1066.06,451.0 1066.48,449.3 1066.90,447.6 1067.32,447.1 1067.74,452.1 1068.16,449.6 1068.58,450.2 1069.00,449.0 1069.42,449.3 1069.84,446.8 1070.26,450.9 1070.68,447.0 1071.10,447.0 1071.52,447.5 1071.94,450.0 1072.36,448.4 1072.78,451.4 1073.20,447.1 1073.62,450.8 1074.04,448.7 1074.46,447.8 1074.88,449.1 1075.30,450.0 1075.72,448.4 1076.14,450.6 1076.56,449.5 1076.98,449.5 1077.40,447.2 1077.82,448.1 1078.24,447.0 1078.66,448.4 1079.08,450.0 1079.50,450.8 1079.92,446.9 1080.34,446.2 1080.76,449.5 1081.18,448.6 1081.60,447.3 1082.02,450.2 1082.44,447.9 1082.86,447.9 1083.28,448.5 1083.70,448.6 1084.12,451.2 1084.54,449.2 1084.96,450.0 1085.38,448.0 1085.80,446.9 1086.22,451.4 1086.64,451.9 1087.06,448.3 1087.48,447.0 1087.90,446.7 1088.32,448.0 1088.74,446.3 1089.16,451.5 1089.58,446.6 1090.00,450.1 1090.42,449.0 1090.84,447.2 1091.26,448.8 1091.68,450.8 1092.10,448.1 1092.52,449.9 1092.94,447.2 1093.36,448.7 1093.78,448.8 1094.20,449.2 1094.62,452.2 1095.04,448.6 1095.46,448.5 1095.88,449.1 1096.30,448.4 1096.72,450.2 1097.14,452.0 1097.56,455.1 1097.98,451.5 1098.40,449.0 1098.82,452.6 1099.24,447.2 1099.66,453.5 1100.08,448.6 1100.50,449.3 1100.92,449.0 1101.34,451.0 1101.76,448.9 1102.18,450.6 1102.60,450.9 1103.02,449.8 1103.44,450.7 1103.86,449.7 1104.28,453.6 1104.70,451.8 1105.12,450.9 1105.54,448.3 1105.96,451.0 1106.38,448.7 1106.80,449.2 1107.22,452.6 1107.64,450.5 1108.06,448.7 1108.48,452.1 1108.90,453.8 1109.32,448.3 1109.74,449.7 1110.16,450.2 1110.58,451.4 1111.00,449.8 1111.42,449.5 1111.84,449.3 1112.26,451.8 1112.68,449.5 1113.10,451.4 1113.52,449.0 1113.94,450.4 1114.36,448.1 1114.78,449.0 1115.20,450.5 1115.62,450.4 1116.04,449.7 1116.46,452.4 1116.88,452.5 1117.30,450.1 1117.72,448.6 1118.14,449.0 1118.56,449.3 1118.98,450.3 1119.40,450.9 1119.82,451.9 1120.24,451.2 1120.66,452.4 1121.08,449.8 1121.50,447.5 1121.92,449.3 1122.34,450.9 1122.76,452.3 1123.18,450.0 1123.60,451.4 1124.02,450.4 1124.44,453.1 1124.86,445.7 1125.28,448.6 1125.70,449.4 1126.12,450.9 1126.54,449.6 1126.96,448.7 1127.38,449.5 1127.80,450.2 1128.22,449.2 1128.64,447.4 1129.06,448.8 1129.48,448.3 1129.90,451.0 1130.32,448.6 1130.74,450.1 1131.16,450.1 1131.58,449.0 1132.00,450.2 1132.42,450.3 1132.84,453.2 1133.26,448.4 1133.68,449.7 1134.10,451.0 1134.52,449.0 1134.94,448.8 1135.36,449.3 1135.78,451.3 1136.20,454.3 1136.62,448.4 1137.04,446.6 1137.46,450.4 1137.88,448.1 1138.30,447.4 1138.72,447.9 1139.14,446.4 1139.56,452.4 1139.98,452.2 1140.40,451.6 1140.82,451.2 1141.24,450.2 1141.66,448.8 1142.08,447.9 1142.50,450.4 1142.92,453.1 1143.34,452.7 1143.76,449.5 1144.18,451.4 1144.60,449.5 1145.02,451.5 1145.44,449.5 1145.86,448.2 1146.28,447.6 1146.70,450.4 1147.12,450.8 1147.54,449.7 1147.96,447.9 1148.38,447.9 1148.80,448.3 1149.22,452.2 1149.64,446.5 1150.06,449.4 1150.48,449.3 1150.90,449.9 1151.32,448.5 1151.74,451.6 1152.16,450.4 1152.58,449.6 1153.00,450.1 1153.42,450.1 1153.84,450.6 1154.26,449.3 1154.68,447.9 1155.10,449.5 1155.52,451.5 1155.94,449.9 1156.36,449.2 1156.78,452.7"/>
<polyline fill="none" stroke="#8000FF" stroke-width="4.0" stroke-linejoin="round" shape-rendering="crispEdges" points="103.00,320.1 103.42,326.4 103.84,328.2 104.26,325.0 104.68,328.1 105.10,329.9 105.52,336.0 105.94,336.8 106.36,342.6 106.78,338.4 107.20,352.7 107.62,351.3 108.04,356.8 108.46,356.7 108.88,357.3 109.30,360.9 109.72,362.8 110.14,360.6 110.56,361.5 110.98,364.6 111.40,360.6 111.82,359.2 112.24,365.3 112.66,362.6 113.08,359.4 113.50,363.1 113.92,364.6 114.34,363.0 114.76,362.7 115.18,367.7 115.60,370.7 116.02,368.0 116.44,367.0 116.86,370.8 117.28,372.3 117.70,369.9 118.12,372.8 118.54,374.7 118.96,371.6 119.38,370.3 119.80,374.1 120.22,374.2 120.64,377.0 121.06,370.5 121.48,372.7 121.90,372.4 122.32,370.2 122.74,375.8 123.16,377.2 123.58,373.8 124.00,380.1 124.42,378.7 124.84,378.4 125.26,378.0 125.68,379.8 126.10,373.5 126.52,379.2 126.94,379.3 127.36,372.8 127.78,378.9 128.20,377.4 128.62,380.4 129.04,377.1 129.46,378.4 129.88,379.6 130.30,376.2 130.72,380.5 131.14,378.6 131.56,380.4 131.98,377.6 132.40,382.3 132.82,381.0 133.24,378.9 133.66,381.3 134.08,383.1 134.50,384.7 134.92,375.3 135.34,382.3 135.76,381.2 136.18,379.7 136.60,377.2 137.02,383.7 137.44,376.7 137.86,381.9 138.28,384.0 138.70,375.9 139.12,379.6 139.54,376.9 139.96,381.3 140.38,385.0 140.80,386.5 141.22,375.8 141.64,379.3 142.06,383.0 142.48,385.5 142.90,382.3 143.32,379.1 143.74,382.1 144.16,381.3 144.58,380.8 145.00,379.4 145.42,382.7 145.84,382.5 146.26,381.5 146.68,381.2 147.10,378.3 147.52,380.6 147.94,385.5 148.36,381.6 148.78,378.2 149.20,386.1 149.62,383.9 150.04,388.4 150.46,382.8 150.88,381.4 151.30,378.7 151.72,386.5 152.14,390.1 152.56,380.6 152.98,381.2 153.40,384.7 153.82,380.8 154.24,382.4 154.66,382.2 155.08,383.8 155.50,386.4 155.92,383.4 156.34,385.9 156.76,382.2 157.18,384.3 157.60,377.4 158.02,379.3 158.44,385.6 158.86,381.7 159.28,385.0 159.70,384.9 160.12,387.1 160.54,385.7 160.96,386.2 161.38,383.1 161.80,381.4 162.22,381.4 162.64,382.0 163.06,380.2 163.48,381.9 163.90,383.1 164.32,384.1 164.74,382.5 165.16,378.0 165.58,383.2 166.00,384.0 166.42,386.4 166.84,385.0 167.26,381.6 167.68,381.4 168.10,389.0 168.52,385.5 168.94,388.5 169.36,389.4 169.78,381.1 170.20,384.5 170.62,384.7 171.04,385.0 171.46,384.9 171.88,384.0 172.30,383.9 172.72,379.2 173.14,382.9 173.56,381.3 173.98,383.7 174.40,382.0 174.82,385.0 175.24,385.5 175.66,384.0 176.08,383.9 176.50,383.2 176.92,381.6 177.34,382.3 177.76,381.3 178.18,383.7 178.60,382.6 179.02,384.0 179.44,378.6 179.86,384.7 180.28,380.0 180.70,380.0 181.12,381.4 181.54,380.3 181.96,382.6 182.38,380.1 182.80,378.6 183.22,379.2 183.64,385.2 184.06,381.5 184.48,378.1 184.90,381.3 185.32,376.9 185.74,386.3 186.16,376.9 186.58,382.5 187.00,382.7 187.42,377.1 187.84,382.1 188.26,384.0 188.68,382.6 189.10,382.0 189.52,384.0 189.94,381.8 190.36,382.4 190.78,381.1 191.20,383.3 191.62,378.9 192.04,383.9 192.46,380.3 192.88,378.7 193.30,382.9 193.72,386.6 194.14,384.7 194.56,380.6 194.98,384.1 195.40,380.9 195.82,381.9 196.24,382.5 196.66,375.8 197.08,382.9 197.50,379.6 197.92,380.5 198.34,378.4 198.76,378.3 199.18,380.0 199.60,385.0 200.02,387.3 200.44,382.6 200.86,385.8 201.28,382.0 201.70,377.3 202.12,383.1 202.54,383.9 202.96,381.4 203.38,383.4 203.80,384.1 204.22,380.0 204.64,378.2 205.06,381.6 205.48,381.6 205.90,381.1 206.32,384.7 206.74,386.7 207.16,380.5 207.58,383.5 208.00,384.1 208.42,383.3 208.84,384.1 209.26,379.9 209.68,382.9 210.10,386.4 210.52,382.8 210.94,378.6 211.36,381.9 211.78,383.6 212.20,380.9 212.62,378.1 213.04,383.8 213.46,375.8 213.88,380.5 214.30,378.9 214.72,375.4 215.14,382.0 215.56,379.4 215.98,374.9 216.40,379.7 216.82,376.6 217.24,372.2 217.66,375.4 218.08,377.9 218.50,378.7 218.92,377.1 219.34,376.5 219.76,377.5 220.18,375.3 220.60,378.9 221.02,375.7 221.44,375.8 221.86,376.2 222.28,371.4 222.70,372.1 223.12,378.2 223.54,374.4 223.96,372.3 224.38,373.8 224.80,371.2 225.22,373.0 225.64,370.0 226.06,372.4 226.48,366.8 226.90,374.9 227.32,369.2 227.74,365.9 228.16,369.5 228.58,368.8 229.00,370.1 229.42,366.0 229.84,370.3 230.26,379.4 230.68,364.9 231.10,369.4 231.52,367.3 231.94,368.5 232.36,362.5 232.78,364.2 233.20,368.7 233.62,367.0 234.04,371.7 234.46,364.7 234.88,367.1 235.30,374.9 235.72,363.9 236.14,363.4 236.56,365.7 236.98,365.5 237.40,367.9 237.82,365.6 238.24,362.8 238.66,365.5 239.08,372.4 239.50,368.2 239.92,356.1 240.34,363.7 240.76,361.3 241.18,365.5 241.60,362.9 242.02,368.9 242.44,365.7 242.86,365.4 243.28,363.1 243.70,362.2 244.12,363.1 244.54,365.6 244.96,363.1 245.38,360.2 245.80,364.8 246.22,361.3 246.64,360.2 247.06,357.8 247.48,358.1 247.90,357.6 248.32,350.9 248.74,361.9 249.16,360.2 249.58,357.5 250.00,361.0 250.42,358.8 250.84,358.2 251.26,349.4 251.68,355.7 252.10,357.6 252.52,360.5 252.94,360.8 253.36,359.2 253.78,351.1 254.20,347.6 254.62,355.5 255.04,353.5 255.46,355.9 255.88,352.2 256.30,352.9 256.72,347.3 257.14,352.8 257.56,349.6 257.98,351.6 258.40,351.6 258.82,349.4 259.24,350.3 259.66,348.9 260.08,350.8 260.50,349.6 260.92,345.9 261.34,345.3 261.76,351.9 262.18,345.8 262.60,348.6 263.02,346.2 263.44,342.8 263.86,341.6 264.28,343.8 264.70,343.6 265.12,344.2 265.54,337.8 265.96,339.4 266.38,340.3 266.80,345.0 267.22,332.2 267.64,340.4 268.06,336.8 268.48,339.3 268.90,335.9 269.32,338.1 269.74,341.3 270.16,337.1 270.58,336.9 271.00,336.2 271.42,332.3 271.84,335.9 272.26,333.2 272.68,330.9 273.10,333.0 273.52,332.0 273.94,334.8 274.36,332.0 274.78,330.3 275.20,336.3 275.62,334.6 276.04,335.3 276.46,333.0 276.88,330.5 277.30,329.3 277.72,329.6 278.14,333.2 278.56,330.3 278.98,325.0 279.40,329.3 279.82,324.7 280.24,329.3 280.66,324.6 281.08,323.9 281.50,327.9 281.92,326.7 282.34,321.1 282.76,328.2 283.18,332.1 283.60,319.9 284.02,329.8 284.44,321.2 284.86,321.2 285.28,321.6 285.70,316.9 286.12,325.2 286.54,322.0 286.96,317.4 287.38,318.4 287.80,313.9 288.22,317.1 288.64,320.7 289.06,311.6 289.48,315.2 289.90,316.5 290.32,318.9 290.74,319.4 291.16,312.9 291.58,311.5 292.00,314.8 292.42,311.6 292.84,311.2 293.26,315.2 293.68,316.7 294.10,311.5 294.52,309.4 294.94,311.3 295.36,302.7 295.78,308.3 296.20,304.3 296.62,315.1 297.04,309.0 297.46,306.6 297.88,304.9 298.30,296.7 298.72,306.8 299.14,309.4 299.56,301.0 299.98,305.2 300.40,304.7 300.82,296.6 301.24,304.4 301.66,305.2 302.08,300.9 302.50,299.4 302.92,301.8 303.34,293.5 303.76,298.5 304.18,301.2 304.60,293.1 305.02,300.2 305.44,295.0 305.86,289.0 306.28,295.3 306.70,292.0 307.12,296.0 307.54,290.5 307.96,297.6 308.38,291.2 308.80,294.6 309.22,291.0 309.64,291.6 310.06,296.5 310.48,293.0 310.90,290.7 311.32,287.7 311.74,295.8 312.16,294.4 312.58,290.8 313.00,292.7 313.42,288.4 313.84,288.4 314.26,289.1 314.68,293.1 315.10,292.9 315.52,289.4 315.94,294.4 316.36,294.6 316.78,292.5 317.20,295.4 317.62,290.9 318.04,291.5 318.46,293.5 318.88,291.8 319.30,294.6 319.72,287.7 320.14,296.8 320.56,289.4 320.98,291.5 321.40,287.4 321.82,294.2 322.24,296.5 322.66,295.9 323.08,295.2 323.50,287.1 323.92,289.8 324.34,291.0 324.76,289.4 325.18,296.5 325.60,293.4 326.02,292.7 326.44,294.6 326.86,289.8 327.28,290.0 327.70,290.3 328.12,295.1 328.54,294.7 328.96,295.6 329.38,297.4 329.80,289.3 330.22,292.2 330.64,294.8 331.06,289.9 331.48,292.9 331.90,298.4 332.32,299.1 332.74,299.4 333.16,296.3 333.58,295.9 334.00,300.8 334.42,296.4 334.84,299.3 335.26,303.1 335.68,298.0 336.10,297.6 336.52,300.1 336.94,302.5 337.36,302.5 337.78,301.7 338.20,303.3 338.62,296.4 339.04,299.1 339.46,302.8 339.88,299.4 340.30,298.3 340.72,298.9 341.14,300.1 341.56,302.8 341.98,300.3 342.40,304.7 342.82,309.8 343.24,303.9 343.66,308.8 344.08,305.8 344.50,301.4 344.92,304.4 345.34,302.3 345.76,308.3 346.18,302.1 346.60,310.5 347.02,308.3 347.44,299.9 347.86,309.4 348.28,312.2 348.70,304.7 349.12,310.9 349.54,302.0 349.96,309.1 350.38,303.2 350.80,310.7 351.22,303.8 351.64,301.7 352.06,312.3 352.48,319.3 352.90,310.7 353.32,316.2 353.74,314.7 354.16,314.1 354.58,318.0 355.00,322.1 355.42,313.5 355.84,320.1 356.26,320.0 356.68,314.8 357.10,325.2 357.52,326.8 357.94,318.0 358.36,327.3 358.78,322.4 359.20,322.2 359.62,328.0 360.04,324.3 360.46,325.0 360.88,329.0 361.30,328.5 361.72,327.2 362.14,319.8 362.56,319.0 362.98,327.4 363.40,320.3 363.82,323.2 364.24,318.7 364.66,320.9 365.08,316.6 365.50,325.2 365.92,315.9 366.34,317.9 366.76,316.9 367.18,320.6 367.60,311.3 368.02,315.0 368.44,313.7 368.86,315.4 369.28,314.6 369.70,311.0 370.12,312.7 370.54,310.1 370.96,312.2 371.38,309.6 371.80,307.0 372.22,308.1 372.64,308.3 373.06,313.1 373.48,301.9 373.90,301.8 374.32,302.7 374.74,288.9 375.16,290.8 375.58,295.1 376.00,301.0 376.42,311.2 376.84,305.5 377.26,308.9 377.68,304.6 378.10,297.4 378.52,298.1 378.94,309.3 379.36,306.7 379.78,302.0 380.20,311.1 380.62,304.3 381.04,315.4 381.46,318.9 381.88,314.1 382.30,314.9 382.72,322.4 383.14,316.8 383.56,323.6 383.98,317.4 384.40,324.2 384.82,322.3 385.24,321.2 385.66,320.5 386.08,325.5 386.50,320.4 386.92,327.4 387.34,328.9 387.76,334.1 388.18,329.4 388.60,339.8 389.02,334.6 389.44,333.0 389.86,341.8 390.28,343.5 390.70,338.6 391.12,337.3 391.54,340.9 391.96,339.5 392.38,341.4 392.80,348.0 393.22,345.2 393.64,345.3 394.06,346.7 394.48,346.3 394.90,350.0 395.32,350.9 395.74,348.0 396.16,350.3 396.58,358.2 397.00,353.1 397.42,352.1 397.84,359.7 398.26,354.5 398.68,352.0 399.10,358.2 399.52,354.4 399.94,356.5 400.36,359.8 400.78,359.3 401.20,358.2 401.62,359.7 402.04,360.4 402.46,366.4 402.88,361.6 403.30,362.8 403.72,371.2 404.14,364.4 404.56,371.1 404.98,371.3 405.40,367.7 405.82,364.7 406.24,370.8 406.66,372.0 407.08,373.4 407.50,371.4 407.92,375.2 408.34,376.3 408.76,369.8 409.18,377.4 409.60,374.2 410.02,372.6 410.44,373.8 410.86,380.5 411.28,378.3 411.70,370.8 412.12,376.6 412.54,376.4 412.96,376.7 413.38,376.1 413.80,373.8 414.22,380.7 414.64,376.0 415.06,378.0 415.48,377.7 415.90,377.7 416.32,382.2 416.74,381.6 417.16,379.0 417.58,378.6 418.00,380.3 418.42,384.7 418.84,382.7 419.26,383.4 419.68,382.3 420.10,382.9 420.52,384.6 420.94,379.3 421.36,389.4 421.78,383.1 422.20,384.2 422.62,389.9 423.04,387.3 423.46,387.2 423.88,385.9 424.30,383.6 424.72,388.8 425.14,392.0 425.56,386.6 425.98,393.2 426.40,386.6 426.82,388.0 427.24,391.6 427.66,390.5 428.08,392.6 428.50,388.9 428.92,388.3 429.34,386.2 429.76,388.2 430.18,388.7 430.60,387.9 431.02,392.8 431.44,390.3 431.86,386.9 432.28,399.2 432.70,390.4 433.12,389.4 433.54,396.4 433.96,396.4 434.38,390.4 434.80,389.8 435.22,391.4 435.64,397.5 436.06,393.9 436.48,392.9 436.90,395.4 437.32,399.2 437.74,392.6 438.16,395.8 438.58,393.5 439.00,403.6 439.42,403.1 439.84,401.3 440.26,398.9 440.68,401.5 441.10,394.6 441.52,401.5 441.94,397.7 442.36,398.2 442.78,400.4 443.20,401.8 443.62,404.8 444.04,405.6 444.46,404.9 444.88,402.2 445.30,406.9 445.72,405.2 446.14,409.0 446.56,403.9 446.98,399.4 447.40,405.8 447.82,413.0 448.24,408.8 448.66,407.4 449.08,410.4 449.50,409.6 449.92,409.7 450.34,407.4 450.76,409.1 451.18,409.6 451.60,407.6 452.02,406.5 452.44,409.9 452.86,412.3 453.28,411.6 453.70,411.3 454.12,411.5 454.54,417.0 454.96,411.1 455.38,413.3 455.80,415.8 456.22,411.0 456.64,411.7 457.06,413.8 457.48,415.6 457.90,412.2 458.32,412.4 458.74,411.9 459.16,408.6 459.58,414.8 460.00,411.3 460.42,407.7 460.84,411.9 461.26,407.9 461.68,409.9 462.10,412.7 462.52,410.4 462.94,415.7 463.36,409.3 463.78,413.9 464.20,414.8 464.62,417.3 465.04,416.1 465.46,414.4 465.88,414.2 466.30,414.0 466.72,417.2 467.14,412.8 467.56,416.0 467.98,414.5 468.40,415.6 468.82,414.4 469.24,420.7 469.66,413.7 470.08,416.2 470.50,416.4 470.92,417.4 471.34,417.2 471.76,417.3 472.18,418.8 472.60,412.7 473.02,416.7 473.44,413.6 473.86,417.5 474.28,414.1 474.70,414.8 475.12,417.2 475.54,421.0 475.96,419.1 476.38,418.5 476.80,421.4 477.22,415.6 477.64,412.9 478.06,417.2 478.48,417.7 478.90,421.6 479.32,424.0 479.74,415.4 480.16,425.1 480.58,422.9 481.00,421.2 481.42,420.1 481.84,425.4 482.26,419.6 482.68,418.3 483.10,419.9 483.52,416.2 483.94,420.9 484.36,419.6 484.78,420.8 485.20,420.9 485.62,417.5 486.04,423.5 486.46,417.8 486.88,422.7 487.30,416.5 487.72,421.6 488.14,418.7 488.56,420.9 488.98,419.3 489.40,415.6 489.82,418.3 490.24,421.4 490.66,422.9 491.08,417.8 491.50,416.3 491.92,419.5 492.34,421.3 492.76,420.4 493.18,420.0 493.60,424.3 494.02,424.7 494.44,424.3 494.86,420.2 495.28,422.9 495.70,422.3 496.12,419.4 496.54,425.3 496.96,423.4 497.38,422.2 497.80,427.0 498.22,425.5 498.64,425.9 499.06,426.9 499.48,425.8 499.90,421.1 500.32,423.4 500.74,427.0 501.16,422.7 501.58,424.9 502.00,425.9 502.42,428.7 502.84,428.5 503.26,427.6 503.68,425.1 504.10,428.0 504.52,427.2 504.94,425.6 505.36,429.5 505.78,427.6 506.20,424.7 506.62,429.8 507.04,426.2 507.46,428.5 507.88,423.5 508.30,427.4 508.72,425.3 509.14,425.4 509.56,423.3 509.98,433.4 510.40,428.0 510.82,429.2 511.24,431.5 511.66,428.6 512.08,430.3 512.50,425.8 512.92,429.7 513.34,428.1 513.76,430.2 514.18,429.1 514.60,424.6 515.02,422.3 515.44,422.8 515.86,425.6 516.28,424.5 516.70,425.9 517.12,422.1 517.54,422.4 517.96,428.9 518.38,430.6 518.80,430.7 519.22,433.6 519.64,432.8 520.06,430.8 520.48,431.8 520.90,434.6 521.32,434.7 521.74,434.6 522.16,440.4 522.58,434.5 523.00,435.6 523.42,433.2 523.84,434.9 524.26,437.1 524.68,437.4 525.10,435.8 525.52,437.3 525.94,436.6 526.36,432.2 526.78,429.0 527.20,442.4 527.62,439.1 528.04,437.1 528.46,433.2 528.88,434.5 529.30,440.8 529.72,431.1 530.14,437.1 530.56,440.0 530.98,438.4 531.40,440.0 531.82,438.0 532.24,444.1 532.66,436.1 533.08,435.5 533.50,439.4 533.92,442.3 534.34,438.9 534.76,441.6 535.18,438.0 535.60,436.5 536.02,442.7 536.44,443.2 536.86,443.2 537.28,438.7 537.70,437.1 538.12,437.1 538.54,439.4 538.96,441.4 539.38,441.3 539.80,436.9 540.22,440.8 540.64,440.4 541.06,440.7 541.48,440.5 541.90,440.1 542.32,442.1 542.74,441.1 543.16,441.4 543.58,439.3 544.00,441.9 544.42,440.8 544.84,436.2 545.26,442.3 545.68,440.7 546.10,443.5 546.52,441.1 546.94,441.3 547.36,442.1 547.78,441.7 548.20,440.8 548.62,437.7 549.04,446.3 549.46,438.4 549.88,441.4 550.30,443.8 550.72,443.3 551.14,443.9 551.56,444.4 551.98,445.7 552.40,443.6 552.82,449.8 553.24,440.8 553.66,443.8 554.08,442.6 554.50,442.3 554.92,444.4 555.34,447.3 555.76,442.4 556.18,442.6 556.60,446.0 557.02,445.8 557.44,449.2 557.86,447.2 558.28,445.5 558.70,444.4 559.12,445.8 559.54,445.1 559.96,442.5 560.38,445.8 560.80,445.6 561.22,445.6 561.64,445.3 562.06,450.3 562.48,448.2 562.90,448.9 563.32,445.5 563.74,444.7 564.16,446.6 564.58,447.9 565.00,446.7 565.42,447.2 565.84,450.0 566.26,448.6 566.68,445.8 567.10,447.3 567.52,446.9 567.94,448.9 568.36,446.0 568.78,448.4 569.20,450.5 569.62,449.2 570.04,447.2 570.46,448.0 570.88,449.8 571.30,450.8 571.72,451.7 572.14,449.7 572.56,447.2 572.98,453.5 573.40,451.1 573.82,451.5 574.24,451.4 574.66,448.5 575.08,450.3 575.50,451.7 575.92,453.6 576.34,451.6 576.76,444.6 577.18,451.2 577.60,452.7 578.02,454.9 578.44,453.7 578.86,457.9 579.28,455.6 579.70,455.6 580.12,454.8 580.54,449.7 580.96,454.8 581.38,454.4 581.80,452.0 582.22,454.6 582.64,454.4 583.06,452.6 583.48,453.4 583.90,453.3 584.32,454.5 584.74,453.1 585.16,455.4 585.58,450.1 586.00,453.8 586.42,450.9 586.84,453.6 587.26,456.0 587.68,455.0 588.10,454.8 588.52,455.4 588.94,458.8 589.36,453.0 589.78,457.5 590.20,452.4 590.62,454.8 591.04,456.3 591.46,454.2 591.88,456.7 592.30,458.0 592.72,453.9 593.14,456.5 593.56,456.0 593.98,452.7 594.40,456.7 594.82,455.5 595.24,460.3 595.66,455.6 596.08,461.4 596.50,456.7 596.92,462.2 597.34,459.3 597.76,459.3 598.18,460.2 598.60,460.6 599.02,461.8 599.44,462.7 599.86,458.3 600.28,456.5 600.70,453.5 601.12,458.6 601.54,461.2 601.96,460.6 602.38,460.1 602.80,459.2 603.22,458.7 603.64,459.6 604.06,461.2 604.48,456.7 604.90,462.2 605.32,457.6 605.74,460.6 606.16,459.7 606.58,460.4 607.00,459.0 607.42,458.9 607.84,461.0 608.26,459.3 608.68,467.0 609.10,461.0 609.52,460.6 609.94,461.0 610.36,460.0 610.78,457.1 611.20,462.0 611.62,463.3 612.04,459.5 612.46,462.9 612.88,460.4 613.30,463.0 613.72,464.0 614.14,464.4 614.56,464.4 614.98,462.1 615.40,465.6 615.82,462.9 616.24,464.7 616.66,465.6 617.08,463.6 617.50,461.7 617.92,465.8 618.34,462.3 618.76,462.9 619.18,462.5 619.60,466.8 620.02,464.8 620.44,460.5 620.86,466.9 621.28,469.9 621.70,469.4 622.12,464.6 622.54,466.0 622.96,467.1 623.38,468.0 623.80,466.3 624.22,464.1 624.64,468.1 625.06,467.9 625.48,464.0 625.90,466.1 626.32,467.6 626.74,467.1 627.16,468.4 627.58,469.0 628.00,468.6 628.42,467.4 628.84,464.9 629.26,469.2 629.68,470.9 630.10,472.3 630.52,468.2 630.94,468.3 631.36,471.5 631.78,471.6 632.20,469.5 632.62,470.4 633.04,467.5 633.46,470.4 633.88,467.6 634.30,469.1 634.72,469.3 635.14,468.7 635.56,465.5 635.98,468.3 636.40,470.8 636.82,470.1 637.24,469.5 637.66,471.4 638.08,472.0 638.50,472.5 638.92,469.2 639.34,471.0 639.76,470.4 640.18,469.4 640.60,468.3 641.02,471.2 641.44,469.8 641.86,476.1 642.28,471.6 642.70,471.4 643.12,471.2 643.54,475.9 643.96,470.3 644.38,472.0 644.80,470.8 645.22,472.2 645.64,472.5 646.06,474.9 646.48,469.9 646.90,472.8 647.32,476.2 647.74,472.0 648.16,472.8 648.58,471.4 649.00,468.0 649.42,473.2 649.84,475.9 650.26,472.6 650.68,469.9 651.10,474.3 651.52,474.0 651.94,475.9 652.36,475.8 652.78,473.5 653.20,474.9 653.62,470.5 654.04,476.5 654.46,474.7 654.88,476.6 655.30,476.6 655.72,474.0 656.14,474.3 656.56,473.0 656.98,470.6 657.40,474.6 657.82,475.3 658.24,472.8 658.66,476.5 659.08,475.4 659.50,476.1 659.92,473.7 660.34,471.8 660.76,477.0 661.18,476.7 661.60,475.3 662.02,474.8 662.44,475.1 662.86,475.4 663.28,474.8 663.70,471.8 664.12,477.5 664.54,473.0 664.96,475.3 665.38,475.5 665.80,476.7 666.22,473.0 666.64,478.7 667.06,477.6 667.48,477.9 667.90,479.0 668.32,474.9 668.74,470.3 669.16,477.3 669.58,479.3 670.00,479.1 670.42,475.8 670.84,476.7 671.26,477.6 671.68,473.5 672.10,475.8 672.52,476.0 672.94,480.5 673.36,476.1 673.78,480.6 674.20,477.6 674.62,474.3 675.04,482.2 675.46,476.0 675.88,479.2 676.30,481.5 676.72,477.2 677.14,475.9 677.56,480.5 677.98,478.7 678.40,476.2 678.82,476.7 679.24,478.1 679.66,480.9 680.08,478.6 680.50,480.5 680.92,482.6 681.34,482.0 681.76,482.4 682.18,482.1 682.60,476.7 683.02,482.3 683.44,480.7 683.86,479.9 684.28,478.1 684.70,477.2 685.12,478.3 685.54,480.5 685.96,478.3 686.38,479.1 686.80,479.6 687.22,482.2 687.64,480.4 688.06,480.7 688.48,483.7 688.90,480.6 689.32,482.4 689.74,479.3 690.16,482.1 690.58,481.7 691.00,481.9 691.42,480.7 691.84,479.7 692.26,481.2 692.68,481.0 693.10,484.0 693.52,483.8 693.94,479.7 694.36,483.4 694.78,481.3 695.20,483.2 695.62,481.4 696.04,479.5 696.46,484.4 696.88,483.4 697.30,480.2 697.72,479.0 698.14,481.6 698.56,480.4 698.98,482.1 699.40,484.0 699.82,485.7 700.24,482.2 700.66,485.6 701.08,485.2 701.50,482.2 701.92,479.8 702.34,484.7 702.76,484.3 703.18,487.7 703.60,485.9 704.02,484.7 704.44,486.4 704.86,481.2 705.28,483.6 705.70,482.7 706.12,486.6 706.54,484.4 706.96,477.4 707.38,486.0 707.80,481.6 708.22,484.9 708.64,482.4 709.06,483.9 709.48,484.6 709.90,483.8 710.32,481.6 710.74,486.2 711.16,484.2 711.58,483.5 712.00,484.9 712.42,482.5 712.84,487.2 713.26,484.0 713.68,484.3 714.10,484.3 714.52,481.9 714.94,481.4 715.36,484.1 715.78,484.4 716.20,486.3 716.62,484.7 717.04,481.7 717.46,484.9 717.88,485.5 718.30,485.9 718.72,484.6 719.14,481.7 719.56,486.3 719.98,482.7 720.40,485.3 720.82,481.2 721.24,485.7 721.66,482.8 722.08,486.4 722.50,487.8 722.92,486.7 723.34,482.3 723.76,482.8 724.18,482.9 724.60,485.9 725.02,485.4 725.44,485.1 725.86,485.4 726.28,486.0 726.70,486.1 727.12,488.2 727.54,484.9 727.96,485.4 728.38,481.5 728.80,482.6 729.22,483.8 729.64,482.9 730.06,485.6 730.48,487.2 730.90,484.4 731.32,484.3 731.74,484.3 732.16,485.6 732.58,484.3 733.00,486.2 733.42,485.9 733.84,486.0 734.26,486.9 734.68,485.5 735.10,485.7 735.52,488.8 735.94,485.4 736.36,487.0 736.78,485.6 737.20,484.6 737.62,484.7 738.04,484.0 738.46,485.6 738.88,484.4 739.30,484.8 739.72,487.9 740.14,485.4 740.56,487.8 740.98,486.2 741.40,487.3 741.82,484.5 742.24,486.0 742.66,490.8 743.08,487.4 743.50,487.7 743.92,486.3 744.34,487.5 744.76,483.7 745.18,484.3 745.60,486.7 746.02,487.5 746.44,485.2 746.86,485.7 747.28,485.4 747.70,485.7 748.12,483.8 748.54,483.4 748.96,486.0 749.38,482.9 749.80,484.4 750.22,485.1 750.64,484.4 751.06,486.8 751.48,485.6 751.90,486.3 752.32,484.6 752.74,485.1 753.16,487.6 753.58,487.3 754.00,485.8 754.42,487.4 754.84,487.1 755.26,487.1 755.68,489.9 756.10,486.1 756.52,487.7 756.94,487.8 757.36,486.6 757.78,484.9 758.20,488.4 758.62,487.6 759.04,487.3 759.46,487.3 759.88,487.3 760.30,485.6 760.72,487.9 761.14,484.0 761.56,487.4 761.98,484.6 762.40,486.8 762.82,488.9 763.24,487.0 763.66,486.7 764.08,488.6 764.50,487.1 764.92,486.9 765.34,487.0 765.76,490.6 766.18,489.0 766.60,488.7 767.02,485.6 767.44,489.0 767.86,485.5 768.28,488.8 768.70,485.9 769.12,491.7 769.54,484.9 769.96,490.4 770.38,489.7 770.80,484.9 771.22,487.8 771.64,491.0 772.06,490.5 772.48,485.3 772.90,487.5 773.32,486.4 773.74,486.7 774.16,487.6 774.58,492.3 775.00,489.3 775.42,488.8 775.84,488.8 776.26,490.8 776.68,491.1 777.10,488.3 777.52,492.9 777.94,488.3 778.36,490.0 778.78,491.5 779.20,493.9 779.62,490.2 780.04,491.4 780.46,493.4 780.88,492.1 781.30,493.1 781.72,493.0 782.14,491.6 782.56,492.3 782.98,492.8 783.40,491.1 783.82,494.1 784.24,487.5 784.66,489.5 785.08,493.9 785.50,492.0 785.92,490.1 786.34,492.0 786.76,493.3 787.18,490.3 787.60,492.7 788.02,491.1 788.44,491.1 788.86,491.2 789.28,493.4 789.70,489.3 790.12,490.7 790.54,492.6 790.96,489.2 791.38,488.5 791.80,492.5 792.22,491.4 792.64,491.2 793.06,491.7 793.48,489.7 793.90,496.9 794.32,489.7 794.74,490.8 795.16,489.0 795.58,490.9 796.00,494.5 796.42,491.7 796.84,492.8 797.26,490.9 797.68,495.2 798.10,492.2 798.52,489.7 798.94,493.4 799.36,491.4 799.78,493.2 800.20,492.4 800.62,492.7 801.04,492.5 801.46,490.7 801.88,489.6 802.30,494.2 802.72,492.2 803.14,493.1 803.56,491.7 803.98,488.9 804.40,490.3 804.82,495.3 805.24,491.3 805.66,492.1 806.08,490.1 806.50,491.9 806.92,492.2 807.34,492.5 807.76,492.7 808.18,491.7 808.60,491.8 809.02,492.8 809.44,493.4 809.86,492.6 810.28,496.0 810.70,493.1 811.12,493.0 811.54,491.5 811.96,494.5 812.38,490.8 812.80,489.6 813.22,490.8 813.64,493.6 814.06,490.3 814.48,494.7 814.90,492.3 815.32,489.5 815.74,491.8 816.16,495.4 816.58,490.5 817.00,489.6 817.42,492.9 817.84,494.2 818.26,493.6 818.68,491.1 819.10,491.9 819.52,492.1 819.94,493.6 820.36,495.3 820.78,491.0 821.20,493.5 821.62,490.4 822.04,492.0 822.46,489.0 822.88,489.2 823.30,491.3 823.72,488.7 824.14,491.8 824.56,489.0 824.98,489.9 825.40,489.4 825.82,488.7 826.24,489.3 826.66,490.7 827.08,494.1 827.50,485.6 827.92,487.7 828.34,486.1 828.76,483.7 829.18,484.8 829.60,481.1 830.02,480.8 830.44,481.2 830.86,472.1 831.28,473.7 831.70,471.1 832.12,465.6 832.54,467.2 832.96,466.8 833.38,466.8 833.80,472.7 834.22,470.7 834.64,478.0 835.06,479.2 835.48,480.3 835.90,484.2 836.32,485.8 836.74,489.6 837.16,486.6 837.58,490.1 838.00,490.6 838.42,495.2 838.84,491.0 839.26,495.6 839.68,491.0 840.10,495.3 840.52,494.9 840.94,496.2 841.36,494.7 841.78,492.8 842.20,493.8 842.62,499.1 843.04,497.4 843.46,495.7 843.88,499.0 844.30,496.2 844.72,496.3 845.14,495.6 845.56,499.9 845.98,501.3 846.40,496.2 846.82,498.5 847.24,499.7 847.66,501.8 848.08,493.8 848.50,498.4 848.92,499.3 849.34,495.6 849.76,498.9 850.18,498.6 850.60,499.5 851.02,497.3 851.44,499.1 851.86,497.3 852.28,499.4 852.70,498.7 853.12,497.7 853.54,495.9 853.96,501.3 854.38,500.4 854.80,500.0 855.22,497.3 855.64,497.9 856.06,501.4 856.48,499.8 856.90,497.0 857.32,498.6 857.74,498.8 858.16,498.2 858.58,496.9 859.00,500.8 859.42,499.6 859.84,498.2 860.26,495.8 860.68,497.6 861.10,498.6 861.52,500.1 861.94,498.0 862.36,500.6 862.78,498.9 863.20,497.3 863.62,493.7 864.04,496.6 864.46,496.0 864.88,498.4 865.30,499.3 865.72,501.1 866.14,498.7 866.56,496.7 866.98,502.8 867.40,499.3 867.82,498.3 868.24,498.3 868.66,496.4 869.08,500.0 869.50,499.5 869.92,501.7 870.34,500.9 870.76,500.6 871.18,501.3 871.60,498.7 872.02,498.5 872.44,499.2 872.86,497.2 873.28,499.2 873.70,499.0 874.12,500.8 874.54,499.7 874.96,496.5 875.38,500.0 875.80,502.5 876.22,496.9 876.64,498.9 877.06,500.3 877.48,498.1 877.90,499.5 878.32,500.6 878.74,498.3 879.16,501.2 879.58,501.5 880.00,498.6 880.42,501.0 880.84,502.8 881.26,500.7 881.68,501.8 882.10,502.2 882.52,500.8 882.94,502.9 883.36,502.0 883.78,499.6 884.20,502.3 884.62,502.9 885.04,502.9 885.46,500.4 885.88,502.4 886.30,504.0 886.72,502.0 887.14,503.7 887.56,504.0 887.98,501.7 888.40,503.0 888.82,501.4 889.24,503.7 889.66,501.8 890.08,501.0 890.50,502.0 890.92,501.9 891.34,502.8 891.76,503.0 892.18,500.2 892.60,501.1 893.02,502.9 893.44,503.2 893.86,502.5 894.28,507.0 894.70,504.4 895.12,502.4 895.54,503.8 895.96,504.9 896.38,503.3 896.80,499.8 897.22,503.0 897.64,503.0 898.06,506.6 898.48,499.9 898.90,505.7 899.32,502.9 899.74,504.8 900.16,502.8 900.58,503.6 901.00,505.3 901.42,503.6 901.84,505.3 902.26,503.5 902.68,503.0 903.10,503.4 903.52,502.9 903.94,503.7 904.36,506.2 904.78,502.0 905.20,501.2 905.62,504.1 906.04,507.1 906.46,506.0 906.88,506.6 907.30,506.5 907.72,503.2 908.14,504.7 908.56,500.1 908.98,503.6 909.40,505.7 909.82,502.1 910.24,501.3 910.66,502.7 911.08,505.3 911.50,506.9 911.92,509.4 912.34,507.5 912.76,502.6 913.18,501.3 913.60,505.5 914.02,507.1 914.44,502.6 914.86,504.5 915.28,504.7 915.70,505.5 916.12,505.2 916.54,506.5 916.96,507.4 917.38,505.8 917.80,507.0 918.22,509.1 918.64,504.1 919.06,504.1 919.48,506.8 919.90,509.1 920.32,506.3 920.74,507.9 921.16,505.6 921.58,507.7 922.00,505.1 922.42,507.3 922.84,506.9 923.26,506.9 923.68,508.6 924.10,508.1 924.52,505.4 924.94,507.9 925.36,503.6 925.78,508.1 926.20,511.1 926.62,507.4 927.04,507.4 927.46,506.7 927.88,508.0 928.30,505.9 928.72,507.8 929.14,506.2 929.56,506.0 929.98,506.9 930.40,506.6 930.82,503.9 931.24,510.2 931.66,507.0 932.08,504.0 932.50,508.6 932.92,506.8 933.34,507.2 933.76,508.1 934.18,505.4 934.60,502.0 935.02,506.8 935.44,507.4 935.86,508.7 936.28,505.7 936.70,506.6 937.12,507.7 937.54,506.5 937.96,506.7 938.38,507.5 938.80,505.5 939.22,509.8 939.64,505.7 940.06,507.3 940.48,506.7 940.90,506.1 941.32,508.2 941.74,509.0 942.16,509.8 942.58,508.4 943.00,506.7 943.42,508.9 943.84,505.1 944.26,507.6 944.68,508.4 945.10,508.5 945.52,505.7 945.94,505.2 946.36,510.5 946.78,506.9 947.20,505.1 947.62,505.8 948.04,507.9 948.46,509.9 948.88,507.9 949.30,510.0 949.72,508.4 950.14,508.9 950.56,509.7 950.98,507.6 951.40,508.7 951.82,507.6 952.24,507.3 952.66,509.4 953.08,507.1 953.50,508.6 953.92,507.2 954.34,508.4 954.76,507.8 955.18,510.5 955.60,509.0 956.02,509.0 956.44,511.7 956.86,504.4 957.28,507.4 957.70,504.8 958.12,509.3 958.54,510.1 958.96,510.5 959.38,509.9 959.80,508.1 960.22,512.3 960.64,510.0 961.06,509.0 961.48,507.6 961.90,510.1 962.32,508.6 962.74,508.6 963.16,509.7 963.58,509.7 964.00,508.0 964.42,511.3 964.84,507.6 965.26,507.4 965.68,509.7 966.10,509.3 966.52,509.2 966.94,508.4 967.36,509.1 967.78,508.1 968.20,506.3 968.62,510.1 969.04,507.2 969.46,508.5 969.88,510.0 970.30,508.8 970.72,513.2 971.14,506.4 971.56,507.4 971.98,508.8 972.40,510.8 972.82,508.1 973.24,506.2 973.66,510.4 974.08,506.9 974.50,508.1 974.92,509.8 975.34,507.3 975.76,507.6 976.18,509.1 976.60,507.9 977.02,508.7 977.44,506.7 977.86,508.0 978.28,506.4 978.70,505.6 979.12,511.0 979.54,508.8 979.96,509.5 980.38,506.4 980.80,507.8 981.22,507.4 981.64,505.3 982.06,508.4 982.48,506.1 982.90,506.8 983.32,504.3 983.74,508.2 984.16,507.4 984.58,506.3 985.00,503.6 985.42,503.6 985.84,505.9 986.26,502.7 986.68,503.0 987.10,502.4 987.52,500.1 987.94,504.8 988.36,499.2 988.78,503.6 989.20,503.8 989.62,502.0 990.04,506.0 990.46,507.0 990.88,506.8 991.30,505.8 991.72,508.4 992.14,509.8 992.56,508.7 992.98,511.5 993.40,510.3 993.82,510.4 994.24,511.6 994.66,508.4 995.08,508.8 995.50,510.6 995.92,510.7 996.34,512.5 996.76,512.0 997.18,510.5 997.60,510.7 998.02,510.0 998.44,509.9 998.86,509.8 999.28,512.1 999.70,510.0 1000.12,510.2 1000.54,511.1 1000.96,510.1 1001.38,510.6 1001.80,507.6 1002.22,511.7 1002.64,510.7 1003.06,511.6 1003.48,511.9 1003.90,508.4 1004.32,515.3 1004.74,511.8 1005.16,511.9 1005.58,508.8 1006.00,512.7 1006.42,512.4 1006.84,511.3 1007.26,512.3 1007.68,514.0 1008.10,511.5 1008.52,510.7 1008.94,514.3 1009.36,512.6 1009.78,512.0 1010.20,516.0 1010.62,512.6 1011.04,512.2 1011.46,512.9 1011.88,511.9 1012.30,512.9 1012.72,512.9 1013.14,511.6 1013.56,512.3 1013.98,513.3 1014.40,513.4 1014.82,513.8 1015.24,514.1 1015.66,513.3 1016.08,513.8 1016.50,512.4 1016.92,512.7 1017.34,514.8 1017.76,510.0 1018.18,513.8 1018.60,518.2 1019.02,510.3 1019.44,515.7 1019.86,510.6 1020.28,514.0 1020.70,516.0 1021.12,515.8 1021.54,512.1 1021.96,511.5 1022.38,511.3 1022.80,514.7 1023.22,513.0 1023.64,513.7 1024.06,514.1 1024.48,514.4 1024.90,514.7 1025.32,514.0 1025.74,511.4 1026.16,516.2 1026.58,509.7 1027.00,516.0 1027.42,513.1 1027.84,513.8 1028.26,513.3 1028.68,513.6 1029.10,514.2 1029.52,513.9 1029.94,512.6 1030.36,515.7 1030.78,513.5 1031.20,516.6 1031.62,514.3 1032.04,513.4 1032.46,515.3 1032.88,516.0 1033.30,513.2 1033.72,514.3 1034.14,517.0 1034.56,513.2 1034.98,513.5 1035.40,515.1 1035.82,513.0 1036.24,511.0 1036.66,512.3 1037.08,515.5 1037.50,516.0 1037.92,515.9 1038.34,515.6 1038.76,513.1 1039.18,516.1 1039.60,516.9 1040.02,514.1 1040.44,516.6 1040.86,514.6 1041.28,515.5 1041.70,515.8 1042.12,512.9 1042.54,517.6 1042.96,514.0 1043.38,515.2 1043.80,514.6 1044.22,516.1 1044.64,516.1 1045.06,515.4 1045.48,517.6 1045.90,515.9 1046.32,514.9 1046.74,511.0 1047.16,515.1 1047.58,515.1 1048.00,514.2 1048.42,514.2 1048.84,516.5 1049.26,517.2 1049.68,518.6 1050.10,517.4 1050.52,514.6 1050.94,516.1 1051.36,513.6 1051.78,516.9 1052.20,516.3 1052.62,514.8 1053.04,515.6 1053.46,515.4 1053.88,514.9 1054.30,517.9 1054.72,520.7 1055.14,517.2 1055.56,517.6 1055.98,516.2 1056.40,515.4 1056.82,519.4 1057.24,515.4 1057.66,516.6 1058.08,515.8 1058.50,517.0 1058.92,516.0 1059.34,517.0 1059.76,514.1 1060.18,516.0 1060.60,518.3 1061.02,514.6 1061.44,515.2 1061.86,518.3 1062.28,516.8 1062.70,517.9 1063.12,512.8 1063.54,516.5 1063.96,514.3 1064.38,514.2 1064.80,517.0 1065.22,518.2 1065.64,514.1 1066.06,514.7 1066.48,515.5 1066.90,516.2 1067.32,514.4 1067.74,520.0 1068.16,517.4 1068.58,516.0 1069.00,515.7 1069.42,520.2 1069.84,520.1 1070.26,515.9 1070.68,517.2 1071.10,518.6 1071.52,514.9 1071.94,515.8 1072.36,518.8 1072.78,515.7 1073.20,516.1 1073.62,514.8 1074.04,515.7 1074.46,518.0 1074.88,515.7 1075.30,514.9 1075.72,516.0 1076.14,519.7 1076.56,517.3 1076.98,516.2 1077.40,517.3 1077.82,517.8 1078.24,517.3 1078.66,514.3 1079.08,517.6 1079.50,516.8 1079.92,518.5 1080.34,515.1 1080.76,518.8 1081.18,516.4 1081.60,514.6 1082.02,519.3 1082.44,516.4 1082.86,517.8 1083.28,517.0 1083.70,518.9 1084.12,518.9 1084.54,518.9 1084.96,518.3 1085.38,514.7 1085.80,514.6 1086.22,517.5 1086.64,515.7 1087.06,517.9 1087.48,517.4 1087.90,515.0 1088.32,515.6 1088.74,515.4 1089.16,515.8 1089.58,516.9 1090.00,518.2 1090.42,519.3 1090.84,515.7 1091.26,516.3 1091.68,519.6 1092.10,518.6 1092.52,517.5 1092.94,513.6 1093.36,515.6 1093.78,517.4 1094.20,516.3 1094.62,520.3 1095.04,517.3 1095.46,517.6 1095.88,515.5 1096.30,515.6 1096.72,516.2 1097.14,516.2 1097.56,516.8 1097.98,517.8 1098.40,517.5 1098.82,518.7 1099.24,515.1 1099.66,517.5 1100.08,517.5 1100.50,519.6 1100.92,516.8 1101.34,517.6 1101.76,515.8 1102.18,517.7 1102.60,517.6 1103.02,516.0 1103.44,516.3 1103.86,516.9 1104.28,517.8 1104.70,515.1 1105.12,518.2 1105.54,516.3 1105.96,519.7 1106.38,519.0 1106.80,516.1 1107.22,515.7 1107.64,520.4 1108.06,517.6 1108.48,517.4 1108.90,515.9 1109.32,516.3 1109.74,517.7 1110.16,517.4 1110.58,515.2 1111.00,518.4 1111.42,516.9 1111.84,514.9 1112.26,517.9 1112.68,516.1 1113.10,517.6 1113.52,515.5 1113.94,517.0 1114.36,513.9 1114.78,517.0 1115.20,514.1 1115.62,516.7 1116.04,512.6 1116.46,516.4 1116.88,517.7 1117.30,517.4 1117.72,518.5 1118.14,515.0 1118.56,519.2 1118.98,519.3 1119.40,515.0 1119.82,515.6 1120.24,516.0 1120.66,516.9 1121.08,517.3 1121.50,513.3 1121.92,518.1 1122.34,516.8 1122.76,515.7 1123.18,518.8 1123.60,516.9 1124.02,519.2 1124.44,518.3 1124.86,517.1 1125.28,519.4 1125.70,518.9 1126.12,516.9 1126.54,515.3 1126.96,517.0 1127.38,518.8 1127.80,517.6 1128.22,520.7 1128.64,518.4 1129.06,518.4 1129.48,518.7 1129.90,516.8 1130.32,518.0 1130.74,517.2 1131.16,514.7 1131.58,515.6 1132.00,519.5 1132.42,517.8 1132.84,518.3 1133.26,516.3 1133.68,517.7 1134.10,519.9 1134.52,518.9 1134.94,518.0 1135.36,521.2 1135.78,518.8 1136.20,518.4 1136.62,520.7 1137.04,516.4 1137.46,519.9 1137.88,517.4 1138.30,518.0 1138.72,518.2 1139.14,519.5 1139.56,519.5 1139.98,519.8 1140.40,519.7 1140.82,521.5 1141.24,522.0 1141.66,520.5 1142.08,520.6 1142.50,518.9 1142.92,517.8 1143.34,520.4 1143.76,519.5 1144.18,520.8 1144.60,516.7 1145.02,523.5 1145.44,517.6 1145.86,519.5 1146.28,521.0 1146.70,517.4 1147.12,518.7 1147.54,516.4 1147.96,517.3 1148.38,516.6 1148.80,519.6 1149.22,519.9 1149.64,519.0 1150.06,521.4 1150.48,521.6 1150.90,519.5 1151.32,519.2 1151.74,519.1 1152.16,518.8 1152.58,521.5 1153.00,519.9 1153.42,519.0 1153.84,519.2 1154.26,520.3 1154.68,518.9 1155.10,520.0 1155.52,519.4 1155.94,521.5 1156.36,521.2 1156.78,517.4"/>
<polyline fill="none" stroke="#00DC00" stroke-width="4.0" stroke-linejoin="round" shape-rendering="crispEdges" points="103.00,358.0 103.42,366.5 103.84,370.3 104.26,374.7 104.68,381.6 105.10,376.2 105.52,381.2 105.94,381.6 106.36,387.8 106.78,393.4 107.20,392.0 107.62,395.4 108.04,389.4 108.46,397.2 108.88,395.1 109.30,404.5 109.72,402.9 110.14,404.1 110.56,402.1 110.98,405.1 111.40,406.1 111.82,403.9 112.24,404.2 112.66,406.1 113.08,405.3 113.50,405.9 113.92,407.4 114.34,406.5 114.76,411.5 115.18,404.7 115.60,412.3 116.02,408.3 116.44,408.8 116.86,406.7 117.28,410.5 117.70,410.5 118.12,412.0 118.54,410.0 118.96,412.1 119.38,417.5 119.80,413.5 120.22,410.8 120.64,415.6 121.06,412.5 121.48,414.9 121.90,415.3 122.32,412.5 122.74,408.2 123.16,413.2 123.58,416.1 124.00,413.6 124.42,416.3 124.84,418.2 125.26,413.9 125.68,419.5 126.10,420.9 126.52,419.5 126.94,420.0 127.36,420.1 127.78,423.7 128.20,417.8 128.62,417.5 129.04,419.4 129.46,415.2 129.88,413.4 130.30,415.6 130.72,419.5 131.14,419.9 131.56,414.2 131.98,413.3 132.40,418.1 132.82,418.6 133.24,419.2 133.66,421.5 134.08,423.2 134.50,420.4 134.92,421.7 135.34,416.8 135.76,416.7 136.18,421.0 136.60,422.4 137.02,422.7 137.44,422.4 137.86,423.1 138.28,423.3 138.70,416.0 139.12,419.1 139.54,422.7 139.96,423.3 140.38,417.2 140.80,425.2 141.22,420.6 141.64,421.4 142.06,423.0 142.48,424.6 142.90,418.3 143.32,425.6 143.74,423.1 144.16,420.7 144.58,422.4 145.00,417.0 145.42,421.6 145.84,424.2 146.26,421.8 146.68,423.1 147.10,423.9 147.52,424.6 147.94,427.7 148.36,424.8 148.78,424.3 149.20,426.9 149.62,431.5 150.04,424.7 150.46,427.4 150.88,421.5 151.30,430.2 151.72,428.4 152.14,430.5 152.56,426.7 152.98,424.0 153.40,429.8 153.82,429.5 154.24,425.0 154.66,423.4 155.08,429.1 155.50,427.4 155.92,435.6 156.34,426.4 156.76,426.8 157.18,428.1 157.60,423.7 158.02,426.0 158.44,433.3 158.86,428.3 159.28,427.0 159.70,425.1 160.12,430.5 160.54,430.8 160.96,429.7 161.38,427.9 161.80,430.0 162.22,430.2 162.64,427.2 163.06,431.0 163.48,423.2 163.90,425.6 164.32,428.5 164.74,429.1 165.16,426.1 165.58,430.5 166.00,432.6 166.42,430.9 166.84,430.3 167.26,432.1 167.68,430.9 168.10,426.5 168.52,429.2 168.94,433.5 169.36,426.6 169.78,430.0 170.20,428.7 170.62,427.3 171.04,427.0 171.46,430.2 171.88,430.8 172.30,430.8 172.72,425.7 173.14,429.1 173.56,430.9 173.98,432.6 174.40,431.8 174.82,432.2 175.24,433.0 175.66,432.2 176.08,427.5 176.50,430.0 176.92,427.7 177.34,422.9 177.76,424.9 178.18,435.7 178.60,426.5 179.02,423.2 179.44,428.0 179.86,434.0 180.28,429.5 180.70,430.7 181.12,428.8 181.54,429.3 181.96,433.1 182.38,431.7 182.80,429.2 183.22,432.0 183.64,432.5 184.06,428.7 184.48,430.1 184.90,430.0 185.32,427.4 185.74,432.6 186.16,428.8 186.58,427.4 187.00,424.4 187.42,425.5 187.84,433.5 188.26,425.9 188.68,430.4 189.10,428.0 189.52,430.6 189.94,430.8 190.36,426.8 190.78,428.2 191.20,429.3 191.62,429.3 192.04,428.9 192.46,428.1 192.88,430.8 193.30,432.7 193.72,430.5 194.14,426.8 194.56,430.0 194.98,429.0 195.40,430.2 195.82,434.1 196.24,428.2 196.66,428.8 197.08,426.2 197.50,427.9 197.92,427.1 198.34,433.3 198.76,429.6 199.18,427.0 199.60,434.2 200.02,424.8 200.44,431.0 200.86,431.5 201.28,430.2 201.70,427.7 202.12,428.0 202.54,427.4 202.96,430.6 203.38,421.5 203.80,426.7 204.22,428.5 204.64,426.3 205.06,422.6 205.48,427.1 205.90,425.5 206.32,429.9 206.74,431.5 207.16,427.5 207.58,421.6 208.00,426.5 208.42,424.3 208.84,428.8 209.26,431.6 209.68,427.5 210.10,432.3 210.52,430.7 210.94,428.2 211.36,423.5 211.78,426.5 212.20,421.9 212.62,429.0 213.04,426.2 213.46,429.8 213.88,426.5 214.30,420.0 214.72,427.4 215.14,428.2 215.56,430.2 215.98,422.5 216.40,422.5 216.82,425.3 217.24,422.0 217.66,421.0 218.08,421.7 218.50,432.4 218.92,422.9 219.34,421.7 219.76,423.3 220.18,424.5 220.60,428.2 221.02,427.2 221.44,426.7 221.86,424.4 222.28,424.7 222.70,422.3 223.12,419.8 223.54,430.0 223.96,422.7 224.38,426.9 224.80,423.0 225.22,423.6 225.64,423.3 226.06,419.7 226.48,423.4 226.90,424.7 227.32,425.9 227.74,424.9 228.16,426.4 228.58,424.2 229.00,423.2 229.42,417.4 229.84,421.5 230.26,427.5 230.68,423.2 231.10,425.1 231.52,422.0 231.94,420.5 232.36,428.4 232.78,423.3 233.20,426.5 233.62,423.5 234.04,421.0 234.46,415.1 234.88,421.8 235.30,416.8 235.72,414.7 236.14,424.7 236.56,423.0 236.98,422.6 237.40,420.6 237.82,420.2 238.24,421.4 238.66,420.4 239.08,420.0 239.50,421.7 239.92,412.1 240.34,421.8 240.76,417.1 241.18,421.3 241.60,422.0 242.02,415.9 242.44,420.5 242.86,420.3 243.28,415.6 243.70,415.9 244.12,417.6 244.54,410.5 244.96,415.5 245.38,417.2 245.80,415.1 246.22,411.5 246.64,414.8 247.06,420.3 247.48,419.5 247.90,415.0 248.32,412.8 248.74,414.9 249.16,414.8 249.58,412.5 250.00,413.3 250.42,415.9 250.84,416.6 251.26,406.3 251.68,416.3 252.10,413.5 252.52,416.3 252.94,412.6 253.36,413.7 253.78,417.1 254.20,403.0 254.62,416.4 255.04,412.0 255.46,405.7 255.88,402.9 256.30,411.6 256.72,407.3 257.14,413.2 257.56,410.6 257.98,409.3 258.40,412.4 258.82,409.7 259.24,411.1 259.66,411.1 260.08,409.3 260.50,410.5 260.92,410.3 261.34,403.5 261.76,406.6 262.18,406.8 262.60,405.7 263.02,401.8 263.44,404.7 263.86,407.2 264.28,406.5 264.70,410.3 265.12,403.6 265.54,403.8 265.96,403.1 266.38,403.6 266.80,402.5 267.22,398.4 267.64,404.8 268.06,406.5 268.48,406.6 268.90,399.6 269.32,402.0 269.74,407.9 270.16,401.6 270.58,402.7 271.00,400.8 271.42,404.0 271.84,403.5 272.26,407.3 272.68,401.3 273.10,400.7 273.52,395.1 273.94,397.2 274.36,395.7 274.78,396.3 275.20,392.6 275.62,399.7 276.04,391.9 276.46,395.3 276.88,389.7 277.30,393.9 277.72,397.3 278.14,388.8 278.56,391.7 278.98,389.7 279.40,390.1 279.82,390.0 280.24,386.1 280.66,387.0 281.08,385.2 281.50,384.0 281.92,382.2 282.34,388.7 282.76,382.9 283.18,386.9 283.60,386.1 284.02,380.8 284.44,386.9 284.86,380.4 285.28,384.7 285.70,387.0 286.12,379.7 286.54,378.6 286.96,378.2 287.38,388.2 287.80,379.3 288.22,376.1 288.64,382.4 289.06,378.9 289.48,379.0 289.90,375.6 290.32,371.3 290.74,375.8 291.16,374.5 291.58,372.3 292.00,373.7 292.42,373.8 292.84,379.1 293.26,378.5 293.68,377.5 294.10,373.8 294.52,371.2 294.94,375.9 295.36,376.1 295.78,377.5 296.20,373.9 296.62,373.2 297.04,374.3 297.46,369.9 297.88,370.0 298.30,374.3 298.72,367.7 299.14,371.2 299.56,373.5 299.98,371.2 300.40,371.3 300.82,365.6 301.24,368.2 301.66,367.1 302.08,369.3 302.50,368.0 302.92,366.1 303.34,371.7 303.76,366.6 304.18,363.4 304.60,361.9 305.02,363.4 305.44,361.4 305.86,368.5 306.28,364.8 306.70,361.7 307.12,360.4 307.54,358.9 307.96,361.4 308.38,366.5 308.80,364.8 309.22,361.7 309.64,362.3 310.06,355.5 310.48,364.2 310.90,360.8 311.32,366.1 311.74,360.8 312.16,359.8 312.58,362.0 313.00,359.1 313.42,365.6 313.84,362.1 314.26,362.3 314.68,362.1 315.10,359.8 315.52,362.5 315.94,361.5 316.36,366.7 316.78,361.0 317.20,362.0 317.62,359.3 318.04,359.5 318.46,359.8 318.88,365.1 319.30,361.1 319.72,364.1 320.14,360.1 320.56,359.8 320.98,354.7 321.40,363.9 321.82,368.1 322.24,360.5 322.66,366.1 323.08,364.2 323.50,359.2 323.92,364.1 324.34,358.6 324.76,360.6 325.18,365.7 325.60,362.2 326.02,357.9 326.44,366.5 326.86,358.2 327.28,361.3 327.70,360.7 328.12,361.4 328.54,359.1 328.96,356.5 329.38,368.2 329.80,358.9 330.22,359.2 330.64,354.1 331.06,362.5 331.48,366.6 331.90,367.1 332.32,371.8 332.74,367.8 333.16,364.4 333.58,363.4 334.00,368.3 334.42,363.7 334.84,364.8 335.26,361.2 335.68,365.0 336.10,371.4 336.52,364.9 336.94,366.6 337.36,357.5 337.78,370.0 338.20,366.9 338.62,370.4 339.04,366.6 339.46,363.1 339.88,361.5 340.30,367.7 340.72,366.0 341.14,362.9 341.56,365.9 341.98,364.1 342.40,368.6 342.82,365.0 343.24,362.4 343.66,366.2 344.08,364.7 344.50,371.5 344.92,365.2 345.34,362.5 345.76,366.8 346.18,366.3 346.60,368.1 347.02,368.1 347.44,364.1 347.86,367.5 348.28,367.5 348.70,364.1 349.12,366.3 349.54,369.1 349.96,363.4 350.38,365.3 350.80,367.6 351.22,369.1 351.64,371.5 352.06,365.8 352.48,371.6 352.90,373.1 353.32,376.6 353.74,370.7 354.16,369.6 354.58,368.1 355.00,375.3 355.42,378.1 355.84,372.1 356.26,376.2 356.68,377.9 357.10,378.6 357.52,374.6 357.94,378.3 358.36,376.5 358.78,374.0 359.20,378.2 359.62,378.9 360.04,374.9 360.46,379.6 360.88,384.8 361.30,373.7 361.72,380.8 362.14,381.4 362.56,378.6 362.98,379.3 363.40,377.1 363.82,382.0 364.24,374.3 364.66,376.5 365.08,370.2 365.50,377.1 365.92,376.8 366.34,369.6 366.76,371.7 367.18,375.5 367.60,371.9 368.02,369.0 368.44,364.3 368.86,373.1 369.28,377.8 369.70,369.5 370.12,371.9 370.54,371.3 370.96,369.1 371.38,369.0 371.80,368.5 372.22,364.6 372.64,375.0 373.06,375.1 373.48,366.5 373.90,370.8 374.32,361.6 374.74,363.1 375.16,367.1 375.58,359.2 376.00,358.4 376.42,363.7 376.84,355.9 377.26,368.2 377.68,365.4 378.10,364.4 378.52,366.8 378.94,362.7 379.36,363.9 379.78,371.1 380.20,372.9 380.62,371.8 381.04,372.6 381.46,372.4 381.88,379.9 382.30,371.7 382.72,374.8 383.14,376.9 383.56,374.9 383.98,376.6 384.40,378.7 384.82,386.3 385.24,389.9 385.66,386.3 386.08,381.1 386.50,385.3 386.92,387.8 387.34,388.3 387.76,388.8 388.18,392.4 388.60,385.4 389.02,390.3 389.44,393.4 389.86,395.6 390.28,394.8 390.70,394.6 391.12,394.6 391.54,393.5 391.96,396.3 392.38,395.9 392.80,394.9 393.22,401.3 393.64,401.7 394.06,397.4 394.48,401.0 394.90,403.4 395.32,401.1 395.74,401.3 396.16,403.0 396.58,397.0 397.00,398.3 397.42,404.9 397.84,404.8 398.26,408.7 398.68,403.7 399.10,409.2 399.52,409.7 399.94,413.1 400.36,405.4 400.78,407.4 401.20,410.0 401.62,410.7 402.04,407.7 402.46,409.8 402.88,408.4 403.30,420.1 403.72,413.9 404.14,414.9 404.56,414.0 404.98,416.8 405.40,419.9 405.82,417.4 406.24,419.0 406.66,426.3 407.08,423.3 407.50,421.9 407.92,420.5 408.34,422.2 408.76,420.6 409.18,424.0 409.60,421.7 410.02,421.9 410.44,423.2 410.86,421.7 411.28,425.7 411.70,432.8 412.12,424.1 412.54,421.5 412.96,429.4 413.38,426.8 413.80,433.2 414.22,429.0 414.64,431.1 415.06,426.7 415.48,424.9 415.90,429.4 416.32,432.4 416.74,428.5 417.16,427.0 417.58,430.4 418.00,431.3 418.42,432.2 418.84,433.5 419.26,440.8 419.68,434.6 420.10,433.5 420.52,432.2 420.94,437.9 421.36,431.5 421.78,440.4 422.20,436.6 422.62,432.7 423.04,437.7 423.46,437.2 423.88,441.2 424.30,433.9 424.72,438.9 425.14,438.6 425.56,441.4 425.98,435.9 426.40,437.2 426.82,445.1 427.24,441.4 427.66,436.0 428.08,441.2 428.50,438.3 428.92,438.8 429.34,437.5 429.76,443.8 430.18,439.8 430.60,442.1 431.02,441.9 431.44,437.7 431.86,440.0 432.28,444.4 432.70,438.1 433.12,443.4 433.54,442.6 433.96,444.9 434.38,445.2 434.80,445.8 435.22,443.9 435.64,444.7 436.06,442.3 436.48,443.0 436.90,447.2 437.32,443.3 437.74,448.0 438.16,448.2 438.58,443.5 439.00,447.5 439.42,444.0 439.84,447.4 440.26,444.6 440.68,447.9 441.10,447.7 441.52,444.6 441.94,453.3 442.36,450.6 442.78,443.9 443.20,449.4 443.62,447.6 444.04,454.6 444.46,449.1 444.88,450.7 445.30,449.4 445.72,451.8 446.14,449.0 446.56,448.3 446.98,449.6 447.40,450.1 447.82,453.2 448.24,452.1 448.66,450.9 449.08,451.3 449.50,450.3 449.92,453.4 450.34,447.9 450.76,453.1 451.18,457.2 451.60,453.4 452.02,453.0 452.44,455.2 452.86,453.0 453.28,453.8 453.70,458.1 454.12,454.9 454.54,462.2 454.96,458.8 455.38,457.5 455.80,456.5 456.22,457.9 456.64,452.9 457.06,459.9 457.48,462.0 457.90,461.5 458.32,459.3 458.74,462.4 459.16,462.8 459.58,461.1 460.00,462.7 460.42,464.8 460.84,463.6 461.26,461.7 461.68,463.0 462.10,463.6 462.52,459.3 462.94,464.0 463.36,463.6 463.78,458.5 464.20,459.8 464.62,469.2 465.04,464.9 465.46,468.4 465.88,464.1 466.30,469.2 466.72,466.8 467.14,463.8 467.56,466.4 467.98,469.9 468.40,472.2 468.82,467.5 469.24,465.1 469.66,464.2 470.08,468.4 470.50,469.5 470.92,467.2 471.34,466.7 471.76,469.2 472.18,468.5 472.60,468.4 473.02,463.6 473.44,466.8 473.86,472.7 474.28,467.9 474.70,474.3 475.12,469.2 475.54,467.6 475.96,469.2 476.38,470.1 476.80,466.9 477.22,469.5 477.64,467.9 478.06,472.9 478.48,468.1 478.90,469.8 479.32,465.7 479.74,466.2 480.16,469.7 480.58,467.7 481.00,469.4 481.42,470.9 481.84,471.9 482.26,467.0 482.68,470.3 483.10,472.6 483.52,469.3 483.94,467.8 484.36,469.5 484.78,475.6 485.20,471.6 485.62,475.7 486.04,471.1 486.46,475.1 486.88,468.5 487.30,471.7 487.72,472.7 488.14,477.1 488.56,474.0 488.98,475.8 489.40,472.0 489.82,472.1 490.24,476.6 490.66,477.1 491.08,476.8 491.50,476.9 491.92,472.6 492.34,479.6 492.76,474.7 493.18,477.7 493.60,476.5 494.02,470.3 494.44,470.0 494.86,471.0 495.28,475.1 495.70,478.2 496.12,474.9 496.54,477.8 496.96,472.7 497.38,474.4 497.80,473.9 498.22,476.4 498.64,473.6 499.06,476.4 499.48,478.3 499.90,475.8 500.32,474.9 500.74,476.1 501.16,474.4 501.58,475.0 502.00,479.8 502.42,478.8 502.84,474.5 503.26,477.6 503.68,479.6 504.10,480.7 504.52,480.5 504.94,481.5 505.36,479.1 505.78,479.4 506.20,479.0 506.62,482.6 507.04,482.2 507.46,484.7 507.88,483.3 508.30,478.7 508.72,477.3 509.14,477.7 509.56,479.2 509.98,483.2 510.40,478.5 510.82,477.2 511.24,482.0 511.66,484.7 512.08,484.9 512.50,487.4 512.92,483.5 513.34,482.4 513.76,483.3 514.18,481.1 514.60,483.0 515.02,488.1 515.44,490.3 515.86,488.6 516.28,486.5 516.70,485.4 517.12,486.9 517.54,481.9 517.96,488.2 518.38,488.9 518.80,486.9 519.22,487.5 519.64,483.6 520.06,489.8 520.48,490.1 520.90,481.6 521.32,487.1 521.74,489.6 522.16,492.9 522.58,487.0 523.00,489.2 523.42,493.0 523.84,490.7 524.26,489.2 524.68,488.8 525.10,490.1 525.52,488.3 525.94,492.8 526.36,488.4 526.78,492.0 527.20,493.1 527.62,493.9 528.04,491.5 528.46,491.4 528.88,492.3 529.30,491.9 529.72,494.5 530.14,491.7 530.56,496.8 530.98,499.0 531.40,490.9 531.82,493.5 532.24,489.9 532.66,494.6 533.08,493.9 533.50,492.6 533.92,490.7 534.34,493.4 534.76,498.3 535.18,497.5 535.60,494.7 536.02,492.5 536.44,494.0 536.86,492.3 537.28,491.1 537.70,492.2 538.12,496.1 538.54,495.5 538.96,495.3 539.38,492.4 539.80,491.9 540.22,497.7 540.64,494.6 541.06,498.5 541.48,494.0 541.90,498.3 542.32,496.7 542.74,495.2 543.16,495.4 543.58,501.1 544.00,498.9 544.42,496.2 544.84,497.4 545.26,493.5 545.68,501.3 546.10,500.7 546.52,496.6 546.94,498.8 547.36,491.3 547.78,500.3 548.20,499.2 548.62,498.9 549.04,500.3 549.46,499.2 549.88,496.4 550.30,497.2 550.72,498.5 551.14,501.1 551.56,499.2 551.98,497.7 552.40,500.2 552.82,496.6 553.24,504.5 553.66,500.5 554.08,497.6 554.50,500.4 554.92,502.6 555.34,501.5 555.76,505.1 556.18,497.2 556.60,504.3 557.02,500.7 557.44,502.9 557.86,505.0 558.28,498.3 558.70,497.9 559.12,500.4 559.54,497.6 559.96,496.9 560.38,501.9 560.80,504.5 561.22,500.9 561.64,503.3 562.06,510.7 562.48,503.1 562.90,501.8 563.32,502.3 563.74,503.8 564.16,502.3 564.58,504.7 565.00,503.7 565.42,505.5 565.84,503.9 566.26,503.5 566.68,501.7 567.10,500.8 567.52,503.5 567.94,503.4 568.36,505.1 568.78,504.5 569.20,503.9 569.62,510.1 570.04,505.9 570.46,508.1 570.88,503.2 571.30,508.0 571.72,508.5 572.14,507.0 572.56,504.2 572.98,509.2 573.40,504.9 573.82,503.2 574.24,503.2 574.66,507.2 575.08,506.1 575.50,509.2 575.92,509.1 576.34,510.9 576.76,508.7 577.18,508.4 577.60,508.3 578.02,506.7 578.44,506.7 578.86,507.1 579.28,509.5 579.70,507.2 580.12,509.1 580.54,511.9 580.96,504.3 581.38,507.9 581.80,507.8 582.22,510.2 582.64,507.1 583.06,509.1 583.48,515.9 583.90,507.9 584.32,511.0 584.74,511.8 585.16,510.9 585.58,509.1 586.00,514.2 586.42,507.9 586.84,510.2 587.26,512.0 587.68,511.3 588.10,515.4 588.52,512.3 588.94,517.3 589.36,513.3 589.78,516.8 590.20,514.5 590.62,513.1 591.04,513.2 591.46,516.2 591.88,512.8 592.30,514.1 592.72,512.5 593.14,509.8 593.56,515.6 593.98,515.9 594.40,511.9 594.82,515.6 595.24,514.1 595.66,510.5 596.08,512.6 596.50,516.2 596.92,517.0 597.34,515.7 597.76,521.0 598.18,515.7 598.60,513.3 599.02,511.8 599.44,518.3 599.86,514.1 600.28,514.4 600.70,513.5 601.12,513.5 601.54,514.6 601.96,516.5 602.38,516.8 602.80,516.5 603.22,517.9 603.64,514.8 604.06,513.8 604.48,516.0 604.90,511.7 605.32,518.2 605.74,517.6 606.16,517.7 606.58,514.3 607.00,515.7 607.42,517.0 607.84,514.9 608.26,514.8 608.68,516.8 609.10,517.8 609.52,516.1 609.94,519.9 610.36,522.6 610.78,519.2 611.20,517.7 611.62,517.6 612.04,521.9 612.46,519.2 612.88,520.0 613.30,519.3 613.72,517.8 614.14,522.4 614.56,518.8 614.98,519.8 615.40,515.0 615.82,524.5 616.24,521.6 616.66,520.0 617.08,518.7 617.50,519.3 617.92,517.2 618.34,522.1 618.76,519.4 619.18,522.4 619.60,522.7 620.02,526.1 620.44,522.7 620.86,523.1 621.28,523.8 621.70,521.7 622.12,522.7 622.54,524.2 622.96,526.2 623.38,525.6 623.80,523.7 624.22,527.1 624.64,524.0 625.06,521.8 625.48,528.5 625.90,525.5 626.32,524.8 626.74,523.4 627.16,525.2 627.58,529.9 628.00,526.4 628.42,531.4 628.84,527.0 629.26,529.4 629.68,527.3 630.10,526.4 630.52,526.7 630.94,527.1 631.36,525.3 631.78,525.4 632.20,528.9 632.62,530.8 633.04,528.7 633.46,528.6 633.88,526.8 634.30,531.1 634.72,531.1 635.14,526.6 635.56,529.3 635.98,528.6 636.40,526.3 636.82,532.8 637.24,532.1 637.66,530.4 638.08,532.8 638.50,528.9 638.92,530.7 639.34,533.0 639.76,529.7 640.18,531.1 640.60,528.6 641.02,532.0 641.44,533.1 641.86,528.9 642.28,529.4 642.70,530.9 643.12,534.0 643.54,530.3 643.96,529.7 644.38,531.3 644.80,533.9 645.22,528.6 645.64,531.5 646.06,534.6 646.48,531.9 646.90,531.5 647.32,533.9 647.74,529.9 648.16,536.5 648.58,533.5 649.00,531.8 649.42,532.9 649.84,532.6 650.26,532.3 650.68,530.5 651.10,532.6 651.52,529.7 651.94,536.0 652.36,531.1 652.78,531.9 653.20,531.9 653.62,535.1 654.04,533.3 654.46,536.7 654.88,533.0 655.30,534.3 655.72,534.0 656.14,533.6 656.56,536.6 656.98,536.9 657.40,537.2 657.82,531.9 658.24,535.5 658.66,532.7 659.08,532.7 659.50,531.6 659.92,533.4 660.34,536.6 660.76,538.3 661.18,539.1 661.60,534.0 662.02,534.7 662.44,536.5 662.86,536.5 663.28,536.7 663.70,533.0 664.12,536.2 664.54,537.9 664.96,537.4 665.38,536.8 665.80,535.7 666.22,537.1 666.64,540.5 667.06,538.5 667.48,539.7 667.90,541.0 668.32,535.8 668.74,539.4 669.16,539.1 669.58,540.9 670.00,538.0 670.42,538.1 670.84,537.4 671.26,539.1 671.68,538.3 672.10,538.7 672.52,539.8 672.94,538.5 673.36,537.5 673.78,538.7 674.20,538.5 674.62,540.5 675.04,542.2 675.46,539.2 675.88,535.3 676.30,541.2 676.72,540.1 677.14,538.5 677.56,539.9 677.98,544.1 678.40,537.8 678.82,538.5 679.24,540.7 679.66,535.0 680.08,540.2 680.50,543.0 680.92,542.3 681.34,542.1 681.76,540.8 682.18,541.2 682.60,546.9 683.02,542.2 683.44,544.4 683.86,539.6 684.28,542.5 684.70,542.8 685.12,542.5 685.54,538.2 685.96,541.6 686.38,545.3 686.80,543.7 687.22,541.2 687.64,544.5 688.06,539.3 688.48,544.1 688.90,543.8 689.32,542.0 689.74,541.4 690.16,540.3 690.58,543.1 691.00,546.9 691.42,545.3 691.84,544.6 692.26,545.7 692.68,542.9 693.10,545.1 693.52,538.7 693.94,543.4 694.36,543.5 694.78,544.3 695.20,544.2 695.62,545.8 696.04,543.6 696.46,546.5 696.88,544.4 697.30,546.6 697.72,545.3 698.14,546.7 698.56,546.0 698.98,544.1 699.40,545.6 699.82,542.9 700.24,545.5 700.66,546.1 701.08,544.9 701.50,545.2 701.92,547.4 702.34,547.8 702.76,548.2 703.18,544.5 703.60,544.8 704.02,547.1 704.44,547.3 704.86,542.3 705.28,549.4 705.70,547.9 706.12,543.4 706.54,547.9 706.96,545.0 707.38,545.6 707.80,544.0 708.22,544.3 708.64,545.1 709.06,546.0 709.48,543.8 709.90,545.8 710.32,544.6 710.74,545.0 711.16,544.3 711.58,544.8 712.00,549.0 712.42,543.0 712.84,543.6 713.26,545.9 713.68,545.1 714.10,544.1 714.52,546.9 714.94,544.0 715.36,546.2 715.78,548.0 716.20,547.3 716.62,545.7 717.04,546.4 717.46,546.7 717.88,547.6 718.30,544.8 718.72,549.0 719.14,548.1 719.56,550.3 719.98,548.5 720.40,549.0 720.82,541.7 721.24,546.5 721.66,550.9 722.08,548.2 722.50,546.8 722.92,549.1 723.34,548.1 723.76,548.7 724.18,546.8 724.60,549.2 725.02,551.1 725.44,548.9 725.86,549.4 726.28,547.4 726.70,549.6 727.12,548.1 727.54,546.4 727.96,548.2 728.38,548.6 728.80,550.1 729.22,550.8 729.64,548.7 730.06,548.4 730.48,550.3 730.90,547.4 731.32,548.5 731.74,548.6 732.16,548.8 732.58,547.9 733.00,552.0 733.42,550.8 733.84,548.7 734.26,546.3 734.68,548.0 735.10,550.0 735.52,545.3 735.94,553.4 736.36,548.7 736.78,548.7 737.20,549.9 737.62,546.1 738.04,548.8 738.46,548.7 738.88,550.0 739.30,546.8 739.72,549.7 740.14,550.8 740.56,549.1 740.98,547.5 741.40,546.9 741.82,545.2 742.24,547.4 742.66,549.4 743.08,551.2 743.50,550.3 743.92,550.6 744.34,547.5 744.76,547.6 745.18,545.6 745.60,547.2 746.02,546.4 746.44,548.0 746.86,549.7 747.28,548.3 747.70,547.9 748.12,549.8 748.54,551.4 748.96,550.6 749.38,545.6 749.80,551.9 750.22,548.0 750.64,546.2 751.06,548.2 751.48,550.8 751.90,544.1 752.32,551.5 752.74,549.5 753.16,550.2 753.58,546.7 754.00,548.3 754.42,547.2 754.84,551.5 755.26,548.0 755.68,550.2 756.10,548.3 756.52,546.5 756.94,551.2 757.36,551.8 757.78,552.5 758.20,548.7 758.62,549.9 759.04,551.1 759.46,550.4 759.88,550.3 760.30,554.2 760.72,549.1 761.14,551.6 761.56,549.0 761.98,552.6 762.40,549.5 762.82,548.2 763.24,551.4 763.66,550.2 764.08,549.4 764.50,549.7 764.92,549.0 765.34,551.1 765.76,550.8 766.18,553.2 766.60,548.9 767.02,552.8 767.44,551.2 767.86,547.7 768.28,553.0 768.70,547.0 769.12,551.2 769.54,546.9 769.96,550.8 770.38,549.7 770.80,549.9 771.22,546.9 771.64,549.0 772.06,552.6 772.48,551.6 772.90,550.4 773.32,550.3 773.74,549.4 774.16,553.3 774.58,550.6 775.00,552.7 775.42,548.0 775.84,548.0 776.26,553.3 776.68,549.3 777.10,550.5 777.52,551.8 777.94,552.7 778.36,552.2 778.78,552.1 779.20,554.1 779.62,551.6 780.04,552.8 780.46,551.3 780.88,551.6 781.30,554.8 781.72,550.9 782.14,546.8 782.56,551.7 782.98,551.9 783.40,555.0 783.82,551.0 784.24,549.7 784.66,552.1 785.08,555.3 785.50,551.4 785.92,554.4 786.34,553.1 786.76,553.4 787.18,550.8 787.60,552.5 788.02,551.0 788.44,552.5 788.86,551.3 789.28,554.6 789.70,551.7 790.12,552.3 790.54,548.8 790.96,551.1 791.38,557.3 791.80,552.2 792.22,550.1 792.64,553.0 793.06,552.7 793.48,552.2 793.90,552.6 794.32,552.4 794.74,554.9 795.16,551.1 795.58,553.7 796.00,554.8 796.42,551.7 796.84,557.4 797.26,553.5 797.68,553.2 798.10,552.4 798.52,554.9 798.94,550.6 799.36,554.5 799.78,557.5 800.20,554.2 800.62,555.1 801.04,552.0 801.46,555.1 801.88,552.3 802.30,552.9 802.72,553.7 803.14,557.2 803.56,552.7 803.98,550.3 804.40,554.0 804.82,555.2 805.24,555.0 805.66,554.3 806.08,556.4 806.50,555.5 806.92,555.5 807.34,553.2 807.76,551.4 808.18,556.9 808.60,552.5 809.02,556.4 809.44,556.2 809.86,552.0 810.28,553.0 810.70,554.9 811.12,555.9 811.54,552.5 811.96,553.7 812.38,552.4 812.80,552.1 813.22,554.5 813.64,553.4 814.06,550.7 814.48,555.1 814.90,553.6 815.32,553.6 815.74,552.0 816.16,555.7 816.58,554.9 817.00,555.0 817.42,554.3 817.84,555.1 818.26,557.3 818.68,554.8 819.10,554.9 819.52,553.7 819.94,555.7 820.36,554.2 820.78,553.3 821.20,556.7 821.62,554.4 822.04,553.1 822.46,553.4 822.88,553.8 823.30,552.8 823.72,557.4 824.14,555.9 824.56,552.4 824.98,557.0 825.40,554.3 825.82,555.4 826.24,554.3 826.66,555.8 827.08,555.7 827.50,556.4 827.92,556.6 828.34,550.6 828.76,554.3 829.18,555.1 829.60,554.8 830.02,552.7 830.44,554.6 830.86,555.0 831.28,551.7 831.70,553.8 832.12,556.7 832.54,554.1 832.96,555.2 833.38,555.5 833.80,556.5 834.22,556.9 834.64,557.5 835.06,555.9 835.48,556.2 835.90,555.6 836.32,556.3 836.74,555.8 837.16,557.4 837.58,557.3 838.00,553.7 838.42,552.2 838.84,557.0 839.26,555.4 839.68,553.6 840.10,558.1 840.52,559.1 840.94,554.5 841.36,554.9 841.78,555.4 842.20,555.3 842.62,556.5 843.04,554.8 843.46,556.8 843.88,556.2 844.30,558.8 844.72,556.9 845.14,558.7 845.56,559.8 845.98,558.1 846.40,558.4 846.82,556.5 847.24,557.4 847.66,561.5 848.08,559.9 848.50,557.7 848.92,557.0 849.34,557.5 849.76,559.7 850.18,554.3 850.60,558.4 851.02,555.7 851.44,560.5 851.86,555.6 852.28,559.8 852.70,557.7 853.12,558.3 853.54,561.2 853.96,558.4 854.38,559.7 854.80,559.3 855.22,556.7 855.64,558.7 856.06,560.5 856.48,559.5 856.90,559.3 857.32,557.8 857.74,561.8 858.16,558.2 858.58,562.4 859.00,559.7 859.42,560.7 859.84,557.1 860.26,559.8 860.68,558.0 861.10,559.9 861.52,561.9 861.94,560.5 862.36,560.4 862.78,561.7 863.20,558.0 863.62,560.3 864.04,559.1 864.46,562.1 864.88,559.1 865.30,563.1 865.72,563.9 866.14,556.8 866.56,560.2 866.98,557.8 867.40,562.7 867.82,559.1 868.24,561.7 868.66,561.2 869.08,559.1 869.50,558.1 869.92,562.6 870.34,559.7 870.76,561.2 871.18,563.2 871.60,560.7 872.02,560.3 872.44,559.1 872.86,561.6 873.28,559.4 873.70,558.0 874.12,559.9 874.54,559.8 874.96,558.1 875.38,560.5 875.80,562.3 876.22,561.9 876.64,564.4 877.06,562.9 877.48,561.5 877.90,557.5 878.32,561.4 878.74,563.2 879.16,560.6 879.58,563.6 880.00,559.6 880.42,561.6 880.84,562.6 881.26,564.2 881.68,561.2 882.10,564.7 882.52,560.7 882.94,558.3 883.36,561.2 883.78,563.8 884.20,560.9 884.62,564.3 885.04,561.2 885.46,564.8 885.88,557.8 886.30,565.6 886.72,558.1 887.14,561.6 887.56,559.7 887.98,562.3 888.40,561.5 888.82,561.4 889.24,563.0 889.66,563.6 890.08,561.4 890.50,564.2 890.92,559.1 891.34,560.3 891.76,559.8 892.18,563.1 892.60,563.9 893.02,561.6 893.44,561.3 893.86,560.4 894.28,563.7 894.70,564.5 895.12,561.6 895.54,562.4 895.96,562.0 896.38,562.7 896.80,563.6 897.22,559.1 897.64,562.1 898.06,564.5 898.48,561.6 898.90,565.4 899.32,565.8 899.74,561.8 900.16,562.2 900.58,565.9 901.00,560.9 901.42,562.0 901.84,561.1 902.26,564.0 902.68,564.7 903.10,565.0 903.52,564.8 903.94,562.0 904.36,566.5 904.78,564.5 905.20,564.0 905.62,567.7 906.04,565.1 906.46,565.6 906.88,566.5 907.30,568.6 907.72,565.2 908.14,566.5 908.56,561.4 908.98,563.8 909.40,569.0 909.82,568.9 910.24,565.3 910.66,564.1 911.08,563.4 911.50,563.7 911.92,564.8 912.34,562.9 912.76,565.7 913.18,565.7 913.60,564.0 914.02,563.9 914.44,564.2 914.86,565.4 915.28,565.9 915.70,567.3 916.12,563.4 916.54,565.8 916.96,566.5 917.38,567.0 917.80,568.0 918.22,565.9 918.64,568.7 919.06,570.5 919.48,567.5 919.90,569.4 920.32,568.5 920.74,567.6 921.16,566.5 921.58,567.4 922.00,570.4 922.42,567.1 922.84,565.7 923.26,566.2 923.68,568.3 924.10,566.0 924.52,568.6 924.94,568.3 925.36,567.4 925.78,569.8 926.20,564.9 926.62,566.1 927.04,566.8 927.46,567.7 927.88,564.8 928.30,566.1 928.72,569.2 929.14,566.4 929.56,568.6 929.98,566.6 930.40,565.8 930.82,567.9 931.24,569.2 931.66,566.9 932.08,564.8 932.50,565.7 932.92,566.2 933.34,566.5 933.76,565.4 934.18,568.1 934.60,565.2 935.02,568.6 935.44,565.2 935.86,565.3 936.28,568.8 936.70,568.2 937.12,566.4 937.54,566.0 937.96,566.6 938.38,567.0 938.80,567.4 939.22,568.7 939.64,565.6 940.06,567.0 940.48,567.1 940.90,564.8 941.32,569.1 941.74,570.0 942.16,567.3 942.58,564.5 943.00,566.1 943.42,569.1 943.84,564.3 944.26,564.5 944.68,567.0 945.10,568.8 945.52,569.5 945.94,569.9 946.36,564.5 946.78,567.5 947.20,567.0 947.62,567.1 948.04,570.1 948.46,569.7 948.88,567.9 949.30,569.6 949.72,569.6 950.14,571.5 950.56,568.6 950.98,570.6 951.40,568.5 951.82,570.4 952.24,569.7 952.66,570.2 953.08,569.8 953.50,572.3 953.92,568.8 954.34,568.4 954.76,569.0 955.18,570.6 955.60,570.9 956.02,569.7 956.44,568.6 956.86,569.0 957.28,568.5 957.70,570.3 958.12,569.5 958.54,569.8 958.96,569.5 959.38,569.5 959.80,571.2 960.22,568.6 960.64,570.0 961.06,570.1 961.48,568.2 961.90,571.9 962.32,569.7 962.74,567.6 963.16,570.9 963.58,570.2 964.00,570.4 964.42,569.0 964.84,568.8 965.26,569.6 965.68,567.2 966.10,569.6 966.52,569.4 966.94,570.7 967.36,569.0 967.78,570.3 968.20,567.1 968.62,568.1 969.04,570.5 969.46,571.6 969.88,570.7 970.30,567.0 970.72,567.7 971.14,568.3 971.56,571.2 971.98,568.4 972.40,569.7 972.82,570.0 973.24,570.0 973.66,569.1 974.08,569.8 974.50,570.6 974.92,569.6 975.34,569.2 975.76,570.5 976.18,571.7 976.60,573.2 977.02,567.6 977.44,569.8 977.86,569.5 978.28,567.6 978.70,568.9 979.12,568.3 979.54,567.9 979.96,568.5 980.38,570.4 980.80,567.8 981.22,568.6 981.64,569.2 982.06,567.9 982.48,567.6 982.90,567.0 983.32,568.4 983.74,571.7 984.16,566.9 984.58,570.9 985.00,568.2 985.42,568.2 985.84,570.8 986.26,570.5 986.68,570.7 987.10,569.7 987.52,571.1 987.94,568.8 988.36,570.3 988.78,571.3 989.20,569.8 989.62,568.6 990.04,572.5 990.46,569.6 990.88,568.5 991.30,571.0 991.72,572.0 992.14,570.9 992.56,568.3 992.98,570.2 993.40,570.7 993.82,571.2 994.24,568.1 994.66,568.3 995.08,570.7 995.50,570.4 995.92,571.1 996.34,572.3 996.76,568.4 997.18,568.8 997.60,569.7 998.02,573.0 998.44,570.4 998.86,572.3 999.28,567.1 999.70,571.2 1000.12,572.3 1000.54,573.1 1000.96,569.9 1001.38,574.2 1001.80,569.9 1002.22,573.5 1002.64,573.9 1003.06,571.2 1003.48,569.3 1003.90,574.8 1004.32,572.1 1004.74,569.7 1005.16,572.3 1005.58,570.0 1006.00,571.9 1006.42,570.0 1006.84,568.2 1007.26,572.8 1007.68,570.7 1008.10,571.6 1008.52,572.1 1008.94,571.7 1009.36,570.9 1009.78,572.6 1010.20,573.0 1010.62,572.5 1011.04,571.7 1011.46,572.3 1011.88,574.7 1012.30,574.3 1012.72,572.1 1013.14,573.5 1013.56,573.5 1013.98,573.6 1014.40,572.8 1014.82,573.6 1015.24,572.4 1015.66,574.0 1016.08,573.8 1016.50,574.0 1016.92,574.1 1017.34,573.9 1017.76,571.9 1018.18,571.4 1018.60,573.4 1019.02,572.6 1019.44,574.3 1019.86,572.2 1020.28,572.5 1020.70,571.2 1021.12,573.0 1021.54,572.6 1021.96,575.0 1022.38,573.3 1022.80,575.3 1023.22,572.1 1023.64,570.8 1024.06,574.9 1024.48,574.0 1024.90,575.6 1025.32,572.2 1025.74,570.6 1026.16,575.6 1026.58,573.7 1027.00,572.4 1027.42,576.6 1027.84,573.4 1028.26,572.1 1028.68,573.9 1029.10,572.6 1029.52,572.1 1029.94,574.0 1030.36,573.4 1030.78,573.1 1031.20,573.2 1031.62,571.3 1032.04,574.4 1032.46,576.3 1032.88,573.8 1033.30,575.3 1033.72,576.4 1034.14,573.0 1034.56,572.3 1034.98,571.9 1035.40,572.6 1035.82,574.5 1036.24,573.1 1036.66,575.2 1037.08,572.4 1037.50,575.9 1037.92,572.9 1038.34,573.2 1038.76,573.5 1039.18,573.0 1039.60,573.2 1040.02,574.2 1040.44,573.2 1040.86,574.0 1041.28,572.1 1041.70,572.1 1042.12,571.2 1042.54,574.4 1042.96,572.0 1043.38,574.0 1043.80,573.5 1044.22,573.5 1044.64,573.0 1045.06,574.2 1045.48,574.1 1045.90,575.8 1046.32,573.0 1046.74,572.8 1047.16,571.5 1047.58,576.6 1048.00,572.3 1048.42,574.6 1048.84,574.5 1049.26,571.5 1049.68,572.4 1050.10,574.4 1050.52,573.3 1050.94,571.4 1051.36,573.5 1051.78,575.6 1052.20,573.8 1052.62,574.1 1053.04,575.2 1053.46,576.6 1053.88,573.4 1054.30,572.4 1054.72,573.2 1055.14,572.6 1055.56,571.3 1055.98,573.1 1056.40,571.9 1056.82,575.3 1057.24,573.2 1057.66,569.5 1058.08,571.9 1058.50,574.0 1058.92,572.6 1059.34,572.2 1059.76,572.6 1060.18,572.2 1060.60,574.4 1061.02,572.8 1061.44,572.1 1061.86,574.8 1062.28,571.8 1062.70,573.9 1063.12,572.1 1063.54,573.0 1063.96,572.9 1064.38,572.0 1064.80,572.8 1065.22,575.9 1065.64,572.1 1066.06,576.8 1066.48,575.0 1066.90,576.2 1067.32,573.1 1067.74,575.5 1068.16,574.2 1068.58,577.0 1069.00,573.3 1069.42,575.8 1069.84,573.1 1070.26,576.1 1070.68,573.5 1071.10,572.4 1071.52,572.0 1071.94,573.2 1072.36,576.5 1072.78,572.1 1073.20,573.0 1073.62,574.0 1074.04,574.3 1074.46,574.6 1074.88,576.7 1075.30,574.0 1075.72,572.1 1076.14,575.5 1076.56,573.7 1076.98,574.0 1077.40,574.6 1077.82,576.8 1078.24,576.3 1078.66,574.5 1079.08,574.0 1079.50,575.2 1079.92,573.4 1080.34,571.8 1080.76,573.5 1081.18,576.0 1081.60,573.5 1082.02,573.8 1082.44,576.8 1082.86,576.8 1083.28,576.8 1083.70,573.4 1084.12,575.3 1084.54,576.6 1084.96,576.1 1085.38,574.0 1085.80,574.3 1086.22,573.5 1086.64,573.8 1087.06,575.1 1087.48,575.1 1087.90,573.3 1088.32,575.6 1088.74,574.9 1089.16,576.5 1089.58,573.8 1090.00,574.9 1090.42,571.2 1090.84,575.8 1091.26,575.5 1091.68,575.9 1092.10,574.7 1092.52,574.7 1092.94,574.5 1093.36,576.5 1093.78,573.2 1094.20,574.5 1094.62,575.5 1095.04,574.1 1095.46,573.2 1095.88,574.2 1096.30,575.1 1096.72,577.0 1097.14,573.8 1097.56,571.4 1097.98,576.2 1098.40,574.6 1098.82,575.5 1099.24,574.5 1099.66,574.6 1100.08,571.7 1100.50,575.5 1100.92,572.9 1101.34,575.6 1101.76,571.7 1102.18,576.4 1102.60,574.3 1103.02,571.1 1103.44,574.7 1103.86,574.7 1104.28,574.7 1104.70,572.9 1105.12,577.9 1105.54,573.8 1105.96,576.0 1106.38,570.8 1106.80,575.5 1107.22,575.3 1107.64,574.5 1108.06,576.4 1108.48,573.6 1108.90,575.2 1109.32,574.4 1109.74,574.9 1110.16,573.1 1110.58,575.5 1111.00,575.4 1111.42,575.0 1111.84,575.0 1112.26,574.0 1112.68,573.6 1113.10,574.2 1113.52,575.1 1113.94,572.7 1114.36,574.4 1114.78,577.0 1115.20,575.7 1115.62,573.3 1116.04,576.6 1116.46,572.2 1116.88,574.5 1117.30,576.5 1117.72,575.9 1118.14,575.5 1118.56,573.5 1118.98,572.7 1119.40,576.0 1119.82,575.7 1120.24,577.8 1120.66,574.5 1121.08,573.8 1121.50,574.7 1121.92,572.8 1122.34,575.0 1122.76,575.6 1123.18,575.4 1123.60,578.4 1124.02,578.6 1124.44,575.4 1124.86,575.1 1125.28,577.8 1125.70,577.6 1126.12,574.2 1126.54,575.0 1126.96,574.9 1127.38,574.2 1127.80,575.3 1128.22,574.3 1128.64,577.3 1129.06,576.9 1129.48,573.6 1129.90,575.2 1130.32,575.3 1130.74,578.2 1131.16,575.2 1131.58,577.4 1132.00,578.6 1132.42,574.8 1132.84,577.0 1133.26,576.3 1133.68,577.5 1134.10,574.1 1134.52,575.6 1134.94,573.7 1135.36,577.3 1135.78,573.3 1136.20,576.3 1136.62,573.8 1137.04,575.1 1137.46,575.0 1137.88,576.3 1138.30,577.0 1138.72,577.9 1139.14,578.3 1139.56,576.3 1139.98,574.6 1140.40,578.0 1140.82,574.4 1141.24,576.2 1141.66,575.2 1142.08,575.3 1142.50,576.5 1142.92,574.5 1143.34,576.1 1143.76,576.1 1144.18,577.8 1144.60,577.9 1145.02,577.4 1145.44,576.3 1145.86,578.8 1146.28,577.7 1146.70,574.3 1147.12,576.7 1147.54,576.9 1147.96,575.0 1148.38,576.6 1148.80,575.8 1149.22,574.9 1149.64,576.3 1150.06,575.3 1150.48,574.4 1150.90,576.3 1151.32,573.5 1151.74,577.9 1152.16,575.7 1152.58,576.4 1153.00,577.7 1153.42,577.7 1153.84,575.8 1154.26,576.7 1154.68,577.7 1155.10,578.4 1155.52,575.1 1155.94,576.7 1156.36,574.6 1156.78,574.9"/>
<polyline fill="none" stroke="#0000FF" stroke-width="4.0" stroke-linejoin="round" shape-rendering="crispEdges" points="103.00,404.9 103.42,385.9 103.84,409.8 104.26,410.1 104.68,420.3 105.10,420.1 105.52,430.8 105.94,426.5 106.36,428.0 106.78,437.1 107.20,440.5 107.62,440.7 108.04,444.5 108.46,451.4 108.88,453.4 109.30,450.0 109.72,452.3 110.14,447.7 110.56,464.3 110.98,457.5 111.40,465.6 111.82,462.9 112.24,470.5 112.66,469.8 113.08,465.4 113.50,471.1 113.92,461.4 114.34,471.3 114.76,460.0 115.18,468.1 115.60,471.4 116.02,468.1 116.44,465.8 116.86,464.2 117.28,466.3 117.70,472.4 118.12,471.8 118.54,467.1 118.96,463.1 119.38,471.4 119.80,462.6 120.22,466.7 120.64,466.0 121.06,472.4 121.48,470.5 121.90,471.8 122.32,471.3 122.74,467.7 123.16,473.2 123.58,477.2 124.00,471.6 124.42,474.9 124.84,472.2 125.26,477.5 125.68,476.4 126.10,477.8 126.52,476.1 126.94,481.9 127.36,474.0 127.78,474.6 128.20,473.9 128.62,479.3 129.04,474.5 129.46,474.8 129.88,480.8 130.30,482.9 130.72,480.8 131.14,467.7 131.56,475.2 131.98,475.0 132.40,474.8 132.82,478.4 133.24,487.8 133.66,479.4 134.08,477.9 134.50,484.1 134.92,481.8 135.34,482.3 135.76,479.3 136.18,482.4 136.60,484.4 137.02,475.1 137.44,476.6 137.86,487.9 138.28,487.1 138.70,481.9 139.12,480.0 139.54,483.7 139.96,479.8 140.38,483.5 140.80,491.8 141.22,485.9 141.64,490.3 142.06,484.9 142.48,487.5 142.90,491.8 143.32,481.0 143.74,485.1 144.16,486.1 144.58,488.1 145.00,493.4 145.42,490.0 145.84,481.4 146.26,486.5 146.68,484.2 147.10,484.3 147.52,496.3 147.94,484.0 148.36,489.4 148.78,485.8 149.20,492.3 149.62,490.4 150.04,489.6 150.46,489.0 150.88,494.0 151.30,485.8 151.72,486.8 152.14,485.4 152.56,495.3 152.98,488.9 153.40,486.1 153.82,488.7 154.24,500.5 154.66,490.2 155.08,494.1 155.50,492.7 155.92,490.9 156.34,488.3 156.76,489.8 157.18,489.8 157.60,482.5 158.02,501.8 158.44,495.2 158.86,492.1 159.28,490.9 159.70,488.6 160.12,495.7 160.54,491.2 160.96,494.0 161.38,486.6 161.80,493.7 162.22,500.3 162.64,491.3 163.06,495.7 163.48,492.7 163.90,497.1 164.32,497.0 164.74,493.1 165.16,490.7 165.58,494.1 166.00,493.2 166.42,490.6 166.84,495.0 167.26,494.9 167.68,489.7 168.10,492.9 168.52,505.0 168.94,496.7 169.36,493.8 169.78,503.5 170.20,491.7 170.62,483.7 171.04,486.0 171.46,487.6 171.88,494.6 172.30,497.5 172.72,485.0 173.14,498.0 173.56,488.7 173.98,494.6 174.40,495.4 174.82,495.3 175.24,493.6 175.66,494.2 176.08,489.0 176.50,494.6 176.92,497.3 177.34,497.1 177.76,503.8 178.18,497.6 178.60,496.2 179.02,499.9 179.44,494.2 179.86,488.1 180.28,484.3 180.70,498.2 181.12,495.4 181.54,496.5 181.96,491.8 182.38,494.4 182.80,500.5 183.22,494.3 183.64,488.5 184.06,491.2 184.48,498.5 184.90,488.6 185.32,482.7 185.74,483.8 186.16,487.6 186.58,496.1 187.00,493.3 187.42,489.9 187.84,487.8 188.26,492.5 188.68,492.4 189.10,490.9 189.52,492.2 189.94,490.2 190.36,500.5 190.78,484.0 191.20,494.0 191.62,489.6 192.04,496.6 192.46,492.9 192.88,495.5 193.30,496.2 193.72,495.1 194.14,498.3 194.56,489.0 194.98,498.4 195.40,493.9 195.82,496.4 196.24,501.1 196.66,499.5 197.08,503.0 197.50,486.4 197.92,491.6 198.34,499.3 198.76,491.1 199.18,494.9 199.60,502.4 200.02,499.2 200.44,492.0 200.86,497.6 201.28,498.3 201.70,496.1 202.12,495.4 202.54,496.3 202.96,489.8 203.38,496.2 203.80,491.8 204.22,497.2 204.64,497.3 205.06,492.0 205.48,497.9 205.90,496.8 206.32,495.2 206.74,498.1 207.16,493.9 207.58,494.0 208.00,495.3 208.42,494.7 208.84,499.4 209.26,485.4 209.68,493.5 210.10,486.6 210.52,492.4 210.94,495.4 211.36,494.3 211.78,498.0 212.20,495.3 212.62,483.1 213.04,489.4 213.46,500.0 213.88,499.9 214.30,494.0 214.72,487.4 215.14,502.1 215.56,485.1 215.98,494.6 216.40,493.1 216.82,494.2 217.24,488.5 217.66,491.5 218.08,497.3 218.50,491.1 218.92,487.5 219.34,492.8 219.76,493.2 220.18,492.3 220.60,489.6 221.02,494.9 221.44,492.2 221.86,488.0 222.28,493.5 222.70,492.5 223.12,493.2 223.54,485.8 223.96,489.4 224.38,494.3 224.80,496.2 225.22,493.8 225.64,493.0 226.06,495.3 226.48,496.3 226.90,499.4 227.32,494.2 227.74,490.0 228.16,494.1 228.58,484.4 229.00,492.4 229.42,490.3 229.84,492.0 230.26,493.9 230.68,492.1 231.10,486.0 231.52,490.3 231.94,488.4 232.36,491.4 232.78,492.8 233.20,487.4 233.62,494.0 234.04,496.2 234.46,489.7 234.88,493.5 235.30,484.5 235.72,488.1 236.14,493.9 236.56,482.8 236.98,487.6 237.40,485.9 237.82,493.9 238.24,493.6 238.66,486.3 239.08,489.1 239.50,477.9 239.92,491.6 240.34,489.3 240.76,493.0 241.18,477.8 241.60,488.6 242.02,485.6 242.44,476.2 242.86,483.7 243.28,486.0 243.70,489.3 244.12,486.7 244.54,483.6 244.96,487.2 245.38,484.8 245.80,482.4 246.22,480.6 246.64,485.2 247.06,485.0 247.48,491.6 247.90,482.1 248.32,490.2 248.74,484.9 249.16,488.0 249.58,479.3 250.00,479.2 250.42,481.3 250.84,485.9 251.26,482.8 251.68,484.9 252.10,482.8 252.52,485.5 252.94,481.9 253.36,478.6 253.78,482.7 254.20,480.7 254.62,487.2 255.04,479.1 255.46,479.9 255.88,478.0 256.30,483.7 256.72,482.3 257.14,481.1 257.56,473.0 257.98,471.6 258.40,478.6 258.82,480.2 259.24,483.1 259.66,469.2 260.08,475.6 260.50,469.0 260.92,471.7 261.34,474.4 261.76,479.0 262.18,472.4 262.60,471.3 263.02,472.6 263.44,478.7 263.86,483.2 264.28,466.3 264.70,471.2 265.12,470.1 265.54,476.4 265.96,473.0 266.38,477.2 266.80,466.1 267.22,470.0 267.64,467.6 268.06,464.5 268.48,468.1 268.90,463.4 269.32,477.2 269.74,469.4 270.16,463.0 270.58,464.3 271.00,473.9 271.42,464.2 271.84,468.8 272.26,468.0 272.68,469.9 273.10,467.6 273.52,463.8 273.94,461.8 274.36,456.5 274.78,463.6 275.20,464.1 275.62,461.7 276.04,462.3 276.46,457.5 276.88,471.7 277.30,460.0 277.72,457.5 278.14,459.1 278.56,460.7 278.98,464.5 279.40,450.7 279.82,463.2 280.24,458.3 280.66,460.1 281.08,465.2 281.50,464.0 281.92,457.8 282.34,460.3 282.76,468.7 283.18,466.5 283.60,464.3 284.02,460.6 284.44,464.6 284.86,462.2 285.28,458.1 285.70,456.0 286.12,462.5 286.54,461.8 286.96,465.2 287.38,457.6 287.80,465.4 288.22,457.4 288.64,463.9 289.06,460.3 289.48,454.8 289.90,452.6 290.32,455.6 290.74,454.3 291.16,458.9 291.58,451.2 292.00,447.2 292.42,453.0 292.84,461.0 293.26,459.2 293.68,448.9 294.10,449.9 294.52,452.0 294.94,447.2 295.36,448.6 295.78,448.0 296.20,444.1 296.62,445.5 297.04,445.6 297.46,448.3 297.88,441.6 298.30,446.8 298.72,441.6 299.14,441.9 299.56,440.0 299.98,462.4 300.40,449.7 300.82,449.7 301.24,446.9 301.66,441.8 302.08,442.7 302.50,443.3 302.92,443.6 303.34,443.9 303.76,447.6 304.18,427.2 304.60,437.5 305.02,442.7 305.44,437.6 305.86,438.2 306.28,445.2 306.70,439.0 307.12,445.8 307.54,437.2 307.96,438.1 308.38,431.8 308.80,427.3 309.22,434.0 309.64,435.9 310.06,433.7 310.48,428.8 310.90,437.6 311.32,434.7 311.74,434.1 312.16,430.3 312.58,441.1 313.00,440.1 313.42,434.5 313.84,432.4 314.26,433.8 314.68,440.2 315.10,445.1 315.52,432.2 315.94,430.0 316.36,423.5 316.78,444.3 317.20,426.3 317.62,435.2 318.04,433.3 318.46,436.9 318.88,426.7 319.30,423.0 319.72,430.9 320.14,432.0 320.56,435.2 320.98,422.0 321.40,427.5 321.82,428.2 322.24,423.1 322.66,428.3 323.08,432.6 323.50,428.6 323.92,422.0 324.34,430.0 324.76,432.2 325.18,430.5 325.60,431.5 326.02,420.1 326.44,429.5 326.86,430.0 327.28,425.2 327.70,426.5 328.12,423.0 328.54,432.0 328.96,424.8 329.38,421.6 329.80,426.7 330.22,426.3 330.64,428.8 331.06,421.8 331.48,422.5 331.90,427.4 332.32,436.0 332.74,427.8 333.16,419.4 333.58,426.4 334.00,422.1 334.42,417.1 334.84,422.5 335.26,423.0 335.68,427.6 336.10,431.7 336.52,430.9 336.94,429.4 337.36,423.6 337.78,426.3 338.20,425.3 338.62,431.7 339.04,421.9 339.46,422.0 339.88,431.1 340.30,426.4 340.72,421.2 341.14,423.6 341.56,423.1 341.98,423.0 342.40,425.5 342.82,423.2 343.24,420.4 343.66,418.8 344.08,413.2 344.50,419.3 344.92,426.9 345.34,422.9 345.76,419.1 346.18,421.4 346.60,419.0 347.02,424.7 347.44,433.1 347.86,432.6 348.28,430.1 348.70,428.5 349.12,424.1 349.54,419.6 349.96,425.5 350.38,423.4 350.80,429.3 351.22,426.2 351.64,422.7 352.06,427.4 352.48,438.8 352.90,421.0 353.32,430.4 353.74,427.8 354.16,424.6 354.58,421.4 355.00,424.9 355.42,425.7 355.84,428.1 356.26,427.7 356.68,425.8 357.10,421.0 357.52,425.3 357.94,421.5 358.36,418.6 358.78,427.2 359.20,419.5 359.62,416.5 360.04,421.8 360.46,411.6 360.88,419.1 361.30,419.9 361.72,413.6 362.14,413.5 362.56,418.0 362.98,409.3 363.40,403.3 363.82,402.6 364.24,401.6 364.66,407.8 365.08,410.2 365.50,413.6 365.92,415.1 366.34,411.3 366.76,422.9 367.18,410.4 367.60,416.9 368.02,419.9 368.44,414.6 368.86,411.4 369.28,414.5 369.70,423.3 370.12,416.9 370.54,412.3 370.96,416.1 371.38,411.9 371.80,403.4 372.22,412.5 372.64,414.9 373.06,413.1 373.48,404.1 373.90,395.1 374.32,408.5 374.74,405.0 375.16,411.7 375.58,415.0 376.00,412.0 376.42,410.5 376.84,407.8 377.26,408.6 377.68,410.5 378.10,407.6 378.52,410.8 378.94,398.8 379.36,401.8 379.78,404.3 380.20,398.3 380.62,396.2 381.04,392.2 381.46,403.6 381.88,413.0 382.30,405.5 382.72,420.5 383.14,412.5 383.56,423.5 383.98,416.5 384.40,429.9 384.82,428.5 385.24,429.5 385.66,434.7 386.08,432.1 386.50,429.4 386.92,425.9 387.34,430.1 387.76,426.8 388.18,428.2 388.60,437.1 389.02,434.7 389.44,432.5 389.86,434.7 390.28,426.1 390.70,434.1 391.12,426.9 391.54,432.6 391.96,438.4 392.38,439.6 392.80,442.1 393.22,440.8 393.64,441.4 394.06,442.2 394.48,449.3 394.90,449.7 395.32,438.2 395.74,446.0 396.16,451.9 396.58,445.8 397.00,448.6 397.42,445.7 397.84,443.8 398.26,450.3 398.68,448.6 399.10,450.3 399.52,445.3 399.94,447.1 400.36,452.2 400.78,451.4 401.20,456.2 401.62,449.7 402.04,457.9 402.46,457.8 402.88,456.2 403.30,459.0 403.72,456.4 404.14,456.3 404.56,457.5 404.98,452.6 405.40,458.2 405.82,462.2 406.24,452.2 406.66,462.4 407.08,457.0 407.50,458.5 407.92,460.6 408.34,461.5 408.76,466.5 409.18,460.2 409.60,468.3 410.02,461.3 410.44,463.3 410.86,464.3 411.28,458.7 411.70,456.9 412.12,462.3 412.54,465.0 412.96,465.9 413.38,460.9 413.80,470.2 414.22,462.4 414.64,460.4 415.06,468.7 415.48,469.4 415.90,460.7 416.32,468.8 416.74,460.5 417.16,466.6 417.58,476.6 418.00,473.0 418.42,471.2 418.84,471.5 419.26,465.8 419.68,471.1 420.10,472.0 420.52,466.2 420.94,471.7 421.36,473.4 421.78,472.3 422.20,473.5 422.62,471.0 423.04,467.6 423.46,472.6 423.88,464.7 424.30,470.0 424.72,477.8 425.14,480.9 425.56,475.4 425.98,463.9 426.40,479.8 426.82,476.7 427.24,474.0 427.66,478.1 428.08,477.5 428.50,470.6 428.92,470.4 429.34,480.4 429.76,466.9 430.18,479.1 430.60,478.2 431.02,481.2 431.44,484.6 431.86,483.2 432.28,484.4 432.70,481.7 433.12,480.6 433.54,483.2 433.96,479.1 434.38,475.7 434.80,479.4 435.22,473.4 435.64,478.0 436.06,489.0 436.48,482.9 436.90,480.4 437.32,478.9 437.74,474.4 438.16,479.8 438.58,479.1 439.00,482.5 439.42,483.1 439.84,482.8 440.26,475.6 440.68,489.6 441.10,485.8 441.52,484.3 441.94,483.2 442.36,486.6 442.78,490.2 443.20,487.9 443.62,481.0 444.04,480.9 444.46,476.8 444.88,487.1 445.30,489.7 445.72,492.0 446.14,488.0 446.56,491.0 446.98,484.3 447.40,490.4 447.82,488.1 448.24,486.2 448.66,482.4 449.08,494.1 449.50,480.7 449.92,492.5 450.34,487.1 450.76,493.1 451.18,488.7 451.60,494.3 452.02,490.7 452.44,487.8 452.86,490.2 453.28,486.2 453.70,494.0 454.12,497.4 454.54,495.2 454.96,494.3 455.38,499.3 455.80,489.9 456.22,497.1 456.64,495.2 457.06,493.6 457.48,498.0 457.90,491.6 458.32,495.9 458.74,498.0 459.16,492.4 459.58,496.4 460.00,499.6 460.42,501.6 460.84,494.4 461.26,501.9 461.68,497.4 462.10,499.2 462.52,496.9 462.94,502.3 463.36,496.7 463.78,500.8 464.20,501.3 464.62,503.0 465.04,496.1 465.46,503.4 465.88,500.6 466.30,506.3 466.72,499.5 467.14,498.8 467.56,500.9 467.98,500.0 468.40,500.7 468.82,496.6 469.24,493.6 469.66,496.1 470.08,499.6 470.50,503.7 470.92,501.0 471.34,498.6 471.76,501.8 472.18,502.8 472.60,513.4 473.02,507.8 473.44,503.7 473.86,497.4 474.28,502.5 474.70,502.2 475.12,505.6 475.54,511.8 475.96,503.5 476.38,496.3 476.80,503.6 477.22,497.7 477.64,507.6 478.06,508.8 478.48,506.0 478.90,499.1 479.32,504.4 479.74,509.9 480.16,501.5 480.58,503.3 481.00,506.7 481.42,507.9 481.84,506.4 482.26,507.6 482.68,507.3 483.10,504.5 483.52,506.6 483.94,508.2 484.36,503.1 484.78,508.2 485.20,508.1 485.62,509.6 486.04,509.4 486.46,504.3 486.88,503.7 487.30,509.6 487.72,508.3 488.14,509.5 488.56,507.1 488.98,504.6 489.40,510.7 489.82,509.4 490.24,512.4 490.66,514.4 491.08,514.6 491.50,514.4 491.92,507.2 492.34,503.0 492.76,508.9 493.18,506.8 493.60,506.6 494.02,514.2 494.44,505.8 494.86,515.5 495.28,516.4 495.70,522.5 496.12,516.6 496.54,520.7 496.96,510.6 497.38,510.6 497.80,517.1 498.22,508.6 498.64,518.0 499.06,512.9 499.48,506.7 499.90,521.2 500.32,510.3 500.74,524.0 501.16,509.3 501.58,511.9 502.00,516.0 502.42,515.5 502.84,509.7 503.26,516.2 503.68,516.7 504.10,517.9 504.52,510.4 504.94,514.3 505.36,516.4 505.78,520.0 506.20,517.8 506.62,516.1 507.04,516.0 507.46,523.2 507.88,515.0 508.30,519.4 508.72,510.4 509.14,525.0 509.56,520.6 509.98,512.7 510.40,521.6 510.82,524.8 511.24,522.9 511.66,520.4 512.08,523.5 512.50,517.9 512.92,519.9 513.34,519.8 513.76,521.6 514.18,517.8 514.60,526.9 515.02,521.6 515.44,518.4 515.86,521.8 516.28,524.2 516.70,523.2 517.12,527.3 517.54,522.2 517.96,521.0 518.38,525.8 518.80,528.9 519.22,520.9 519.64,518.9 520.06,522.5 520.48,524.8 520.90,521.5 521.32,526.1 521.74,522.5 522.16,529.1 522.58,521.7 523.00,522.9 523.42,526.7 523.84,529.0 524.26,530.1 524.68,524.4 525.10,527.1 525.52,529.2 525.94,532.5 526.36,524.3 526.78,523.2 527.20,529.6 527.62,527.1 528.04,533.0 528.46,528.4 528.88,529.7 529.30,525.8 529.72,529.8 530.14,533.4 530.56,528.2 530.98,525.0 531.40,532.6 531.82,528.5 532.24,530.0 532.66,527.4 533.08,533.5 533.50,527.6 533.92,528.7 534.34,530.6 534.76,530.1 535.18,522.9 535.60,532.8 536.02,527.2 536.44,532.4 536.86,530.3 537.28,531.5 537.70,529.5 538.12,528.5 538.54,533.0 538.96,533.5 539.38,536.5 539.80,535.1 540.22,530.9 540.64,537.7 541.06,541.6 541.48,536.5 541.90,533.6 542.32,531.0 542.74,535.0 543.16,529.8 543.58,537.9 544.00,534.0 544.42,533.5 544.84,536.7 545.26,531.6 545.68,530.1 546.10,534.9 546.52,540.9 546.94,533.9 547.36,540.1 547.78,530.8 548.20,537.2 548.62,539.4 549.04,544.1 549.46,531.9 549.88,538.0 550.30,535.3 550.72,539.7 551.14,536.9 551.56,539.3 551.98,536.5 552.40,537.4 552.82,540.9 553.24,544.8 553.66,540.6 554.08,540.4 554.50,538.6 554.92,545.8 555.34,533.8 555.76,533.8 556.18,538.1 556.60,542.5 557.02,544.4 557.44,543.2 557.86,544.0 558.28,542.2 558.70,540.1 559.12,538.3 559.54,543.6 559.96,539.0 560.38,543.8 560.80,545.1 561.22,540.6 561.64,541.4 562.06,541.2 562.48,545.6 562.90,543.9 563.32,541.3 563.74,544.7 564.16,549.1 564.58,545.1 565.00,544.7 565.42,543.1 565.84,541.5 566.26,544.9 566.68,545.3 567.10,544.2 567.52,549.5 567.94,544.9 568.36,545.4 568.78,546.8 569.20,548.1 569.62,540.5 570.04,547.6 570.46,551.2 570.88,543.4 571.30,548.7 571.72,545.9 572.14,544.5 572.56,548.9 572.98,547.9 573.40,541.5 573.82,546.7 574.24,551.6 574.66,547.1 575.08,546.8 575.50,548.3 575.92,548.3 576.34,552.4 576.76,547.3 577.18,546.5 577.60,552.0 578.02,554.1 578.44,553.3 578.86,554.0 579.28,549.3 579.70,546.8 580.12,549.6 580.54,552.0 580.96,546.7 581.38,551.5 581.80,554.7 582.22,550.7 582.64,559.7 583.06,555.9 583.48,549.7 583.90,550.2 584.32,551.8 584.74,556.6 585.16,556.0 585.58,552.9 586.00,555.5 586.42,557.8 586.84,557.1 587.26,550.4 587.68,552.3 588.10,553.1 588.52,550.7 588.94,559.3 589.36,554.6 589.78,554.8 590.20,554.4 590.62,558.3 591.04,559.4 591.46,559.9 591.88,561.9 592.30,555.1 592.72,563.6 593.14,566.5 593.56,557.0 593.98,557.8 594.40,561.0 594.82,563.3 595.24,558.6 595.66,557.1 596.08,566.5 596.50,558.4 596.92,551.4 597.34,562.1 597.76,563.7 598.18,566.2 598.60,566.5 599.02,570.9 599.44,559.4 599.86,558.3 600.28,557.0 600.70,567.2 601.12,560.6 601.54,556.8 601.96,555.8 602.38,562.9 602.80,561.3 603.22,563.8 603.64,560.3 604.06,560.9 604.48,564.9 604.90,562.9 605.32,565.6 605.74,563.5 606.16,563.2 606.58,565.4 607.00,563.4 607.42,565.2 607.84,566.2 608.26,563.4 608.68,564.8 609.10,565.7 609.52,567.7 609.94,566.5 610.36,566.7 610.78,567.6 611.20,565.4 611.62,567.7 612.04,564.4 612.46,561.2 612.88,568.4 613.30,561.2 613.72,567.1 614.14,572.6 614.56,570.2 614.98,565.0 615.40,570.7 615.82,569.4 616.24,566.3 616.66,568.9 617.08,567.8 617.50,568.7 617.92,571.0 618.34,565.4 618.76,573.1 619.18,577.0 619.60,570.6 620.02,568.3 620.44,570.4 620.86,575.6 621.28,570.6 621.70,573.9 622.12,579.7 622.54,570.8 622.96,573.6 623.38,571.8 623.80,572.7 624.22,574.5 624.64,572.1 625.06,576.0 625.48,575.4 625.90,578.7 626.32,577.5 626.74,576.8 627.16,580.4 627.58,575.5 628.00,578.2 628.42,574.6 628.84,581.0 629.26,574.7 629.68,580.0 630.10,575.1 630.52,578.1 630.94,574.5 631.36,575.5 631.78,575.1 632.20,579.4 632.62,579.9 633.04,580.7 633.46,579.8 633.88,578.1 634.30,580.9 634.72,583.7 635.14,578.1 635.56,577.1 635.98,581.2 636.40,585.7 636.82,579.5 637.24,578.9 637.66,577.1 638.08,578.1 638.50,577.5 638.92,577.6 639.34,583.7 639.76,584.5 640.18,581.2 640.60,581.4 641.02,583.6 641.44,581.4 641.86,581.9 642.28,583.5 642.70,581.7 643.12,585.8 643.54,591.7 643.96,582.4 644.38,583.4 644.80,580.4 645.22,581.7 645.64,583.4 646.06,584.6 646.48,583.1 646.90,580.4 647.32,585.2 647.74,582.7 648.16,585.7 648.58,584.1 649.00,584.6 649.42,585.0 649.84,579.3 650.26,589.2 650.68,583.3 651.10,587.1 651.52,587.9 651.94,584.9 652.36,582.9 652.78,588.7 653.20,584.5 653.62,587.2 654.04,589.0 654.46,586.5 654.88,583.2 655.30,586.3 655.72,589.9 656.14,586.3 656.56,591.3 656.98,584.6 657.40,586.4 657.82,584.3 658.24,586.7 658.66,593.8 659.08,591.3 659.50,589.1 659.92,588.2 660.34,593.3 660.76,589.8 661.18,587.5 661.60,594.8 662.02,586.8 662.44,591.2 662.86,592.6 663.28,593.6 663.70,596.5 664.12,593.5 664.54,589.3 664.96,594.6 665.38,592.3 665.80,588.1 666.22,588.7 666.64,589.5 667.06,585.8 667.48,593.2 667.90,593.7 668.32,593.6 668.74,590.0 669.16,592.3 669.58,595.9 670.00,593.7 670.42,592.4 670.84,590.8 671.26,592.9 671.68,596.7 672.10,593.4 672.52,599.8 672.94,600.3 673.36,595.7 673.78,589.3 674.20,593.3 674.62,597.7 675.04,592.8 675.46,592.6 675.88,594.7 676.30,602.2 676.72,593.6 677.14,589.7 677.56,596.0 677.98,596.5 678.40,597.6 678.82,595.9 679.24,596.8 679.66,594.8 680.08,598.8 680.50,596.3 680.92,597.9 681.34,594.7 681.76,600.6 682.18,597.7 682.60,596.0 683.02,597.4 683.44,594.4 683.86,595.9 684.28,599.9 684.70,599.5 685.12,600.2 685.54,600.0 685.96,597.4 686.38,598.6 686.80,603.5 687.22,598.2 687.64,594.5 688.06,598.7 688.48,597.7 688.90,598.6 689.32,599.0 689.74,596.3 690.16,600.3 690.58,598.8 691.00,600.9 691.42,597.5 691.84,596.8 692.26,598.3 692.68,604.0 693.10,594.8 693.52,602.6 693.94,599.6 694.36,602.9 694.78,598.9 695.20,601.0 695.62,601.0 696.04,605.8 696.46,599.9 696.88,600.9 697.30,598.3 697.72,601.2 698.14,598.5 698.56,600.3 698.98,601.7 699.40,602.2 699.82,598.4 700.24,598.5 700.66,604.1 701.08,599.7 701.50,601.7 701.92,600.5 702.34,597.2 702.76,601.2 703.18,601.3 703.60,606.5 704.02,596.9 704.44,600.6 704.86,603.8 705.28,600.9 705.70,596.8 706.12,604.2 706.54,603.2 706.96,600.6 707.38,600.4 707.80,601.4 708.22,603.8 708.64,603.0 709.06,601.8 709.48,604.6 709.90,606.5 710.32,602.4 710.74,608.1 711.16,604.2 711.58,605.8 712.00,605.4 712.42,605.7 712.84,605.1 713.26,598.7 713.68,602.2 714.10,607.0 714.52,602.0 714.94,605.0 715.36,600.7 715.78,603.2 716.20,608.8 716.62,605.4 717.04,602.5 717.46,603.1 717.88,600.3 718.30,605.9 718.72,604.1 719.14,606.6 719.56,606.7 719.98,603.9 720.40,602.2 720.82,601.5 721.24,603.6 721.66,604.6 722.08,608.1 722.50,602.1 722.92,605.7 723.34,601.8 723.76,603.0 724.18,606.5 724.60,605.8 725.02,603.1 725.44,602.8 725.86,607.3 726.28,604.0 726.70,603.6 727.12,601.7 727.54,610.9 727.96,609.2 728.38,605.8 728.80,610.2 729.22,605.8 729.64,603.6 730.06,605.9 730.48,608.2 730.90,601.6 731.32,607.8 731.74,607.7 732.16,608.5 732.58,605.9 733.00,607.6 733.42,600.2 733.84,604.6 734.26,607.4 734.68,606.2 735.10,605.5 735.52,601.6 735.94,604.4 736.36,600.4 736.78,604.3 737.20,605.8 737.62,603.6 738.04,606.2 738.46,605.0 738.88,607.4 739.30,604.2 739.72,600.9 740.14,601.9 740.56,603.2 740.98,605.2 741.40,605.5 741.82,603.3 742.24,605.6 742.66,603.6 743.08,607.0 743.50,601.9 743.92,608.4 744.34,606.2 744.76,604.5 745.18,602.7 745.60,607.0 746.02,604.1 746.44,607.3 746.86,610.4 747.28,606.2 747.70,606.4 748.12,607.2 748.54,604.5 748.96,610.9 749.38,605.4 749.80,607.8 750.22,606.9 750.64,604.6 751.06,609.7 751.48,607.2 751.90,604.5 752.32,604.6 752.74,601.3 753.16,603.6 753.58,608.6 754.00,608.6 754.42,604.1 754.84,608.1 755.26,609.1 755.68,608.6 756.10,609.9 756.52,601.7 756.94,607.2 757.36,604.3 757.78,608.5 758.20,604.9 758.62,607.1 759.04,609.1 759.46,602.8 759.88,605.2 760.30,605.1 760.72,606.8 761.14,602.8 761.56,608.9 761.98,611.9 762.40,606.2 762.82,608.3 763.24,600.1 763.66,603.8 764.08,608.6 764.50,607.7 764.92,608.7 765.34,610.4 765.76,607.2 766.18,606.4 766.60,605.8 767.02,607.3 767.44,601.6 767.86,610.9 768.28,601.5 768.70,603.0 769.12,607.3 769.54,609.6 769.96,608.6 770.38,611.1 770.80,606.1 771.22,605.6 771.64,608.7 772.06,604.5 772.48,607.9 772.90,608.7 773.32,608.2 773.74,602.3 774.16,607.0 774.58,602.4 775.00,609.9 775.42,606.7 775.84,610.5 776.26,611.4 776.68,604.7 777.10,610.6 777.52,609.4 777.94,612.3 778.36,605.3 778.78,605.4 779.20,606.8 779.62,604.2 780.04,609.3 780.46,607.2 780.88,609.7 781.30,610.1 781.72,611.5 782.14,606.1 782.56,611.4 782.98,611.5 783.40,607.2 783.82,608.3 784.24,606.2 784.66,613.1 785.08,613.5 785.50,608.1 785.92,610.0 786.34,611.4 786.76,612.3 787.18,610.4 787.60,614.8 788.02,608.4 788.44,613.0 788.86,611.2 789.28,611.8 789.70,609.3 790.12,606.9 790.54,610.0 790.96,612.5 791.38,609.3 791.80,607.2 792.22,611.1 792.64,611.5 793.06,609.1 793.48,611.4 793.90,612.8 794.32,612.3 794.74,614.1 795.16,614.8 795.58,611.8 796.00,609.9 796.42,607.6 796.84,614.4 797.26,612.8 797.68,614.5 798.10,609.9 798.52,612.3 798.94,610.0 799.36,609.8 799.78,608.4 800.20,611.5 800.62,613.3 801.04,614.0 801.46,612.7 801.88,611.4 802.30,617.1 802.72,616.0 803.14,614.7 803.56,612.5 803.98,615.3 804.40,610.3 804.82,609.0 805.24,613.8 805.66,612.7 806.08,614.9 806.50,610.3 806.92,613.0 807.34,609.7 807.76,611.5 808.18,613.5 808.60,612.2 809.02,610.1 809.44,608.9 809.86,611.5 810.28,610.3 810.70,609.0 811.12,612.9 811.54,610.5 811.96,615.9 812.38,618.0 812.80,615.7 813.22,619.9 813.64,610.1 814.06,608.9 814.48,612.9 814.90,609.0 815.32,613.8 815.74,615.7 816.16,615.5 816.58,616.0 817.00,613.2 817.42,613.6 817.84,614.4 818.26,613.8 818.68,616.3 819.10,613.0 819.52,614.0 819.94,612.4 820.36,616.5 820.78,614.5 821.20,614.5 821.62,613.0 822.04,609.8 822.46,613.0 822.88,608.8 823.30,613.9 823.72,610.9 824.14,617.0 824.56,612.2 824.98,613.5 825.40,612.3 825.82,610.5 826.24,609.3 826.66,606.6 827.08,611.0 827.50,607.2 827.92,614.6 828.34,608.0 828.76,609.1 829.18,609.9 829.60,608.7 830.02,611.2 830.44,607.2 830.86,605.4 831.28,605.9 831.70,610.3 832.12,608.8 832.54,602.5 832.96,607.9 833.38,606.9 833.80,609.9 834.22,612.1 834.64,611.0 835.06,612.9 835.48,616.0 835.90,607.7 836.32,612.2 836.74,612.6 837.16,613.8 837.58,613.0 838.00,615.2 838.42,613.0 838.84,614.2 839.26,609.4 839.68,613.8 840.10,610.5 840.52,615.0 840.94,618.0 841.36,613.7 841.78,615.0 842.20,615.9 842.62,617.5 843.04,616.2 843.46,617.4 843.88,613.3 844.30,614.5 844.72,611.3 845.14,620.3 845.56,612.2 845.98,617.4 846.40,615.7 846.82,615.8 847.24,612.8 847.66,615.6 848.08,616.1 848.50,617.0 848.92,615.3 849.34,616.8 849.76,614.0 850.18,619.4 850.60,615.0 851.02,625.4 851.44,616.0 851.86,615.3 852.28,617.4 852.70,616.7 853.12,619.7 853.54,620.1 853.96,615.8 854.38,615.7 854.80,615.6 855.22,618.7 855.64,620.0 856.06,619.3 856.48,617.4 856.90,617.9 857.32,619.5 857.74,621.0 858.16,618.0 858.58,621.0 859.00,617.4 859.42,618.8 859.84,621.1 860.26,616.4 860.68,614.4 861.10,615.9 861.52,618.3 861.94,616.2 862.36,618.4 862.78,622.0 863.20,618.0 863.62,622.0 864.04,621.0 864.46,616.4 864.88,621.3 865.30,621.1 865.72,621.4 866.14,619.6 866.56,619.8 866.98,617.9 867.40,617.2 867.82,619.1 868.24,621.0 868.66,617.9 869.08,623.2 869.50,618.3 869.92,620.2 870.34,616.3 870.76,623.2 871.18,621.2 871.60,622.6 872.02,616.7 872.44,623.0 872.86,620.7 873.28,618.2 873.70,618.7 874.12,616.1 874.54,619.3 874.96,621.8 875.38,617.7 875.80,620.7 876.22,616.9 876.64,613.5 877.06,619.4 877.48,623.3 877.90,622.7 878.32,618.3 878.74,622.8 879.16,622.3 879.58,620.8 880.00,619.1 880.42,622.3 880.84,619.7 881.26,619.0 881.68,622.5 882.10,618.4 882.52,621.7 882.94,623.6 883.36,618.5 883.78,620.6 884.20,621.5 884.62,616.1 885.04,619.1 885.46,619.0 885.88,619.1 886.30,618.4 886.72,623.5 887.14,618.4 887.56,620.4 887.98,622.1 888.40,624.4 888.82,617.0 889.24,617.8 889.66,618.4 890.08,620.3 890.50,623.3 890.92,620.8 891.34,621.6 891.76,624.9 892.18,620.6 892.60,621.9 893.02,626.2 893.44,623.4 893.86,620.3 894.28,620.3 894.70,624.5 895.12,619.3 895.54,619.9 895.96,624.0 896.38,625.3 896.80,626.1 897.22,620.0 897.64,623.6 898.06,614.8 898.48,620.6 898.90,629.5 899.32,626.5 899.74,624.6 900.16,620.9 900.58,620.2 901.00,625.8 901.42,623.0 901.84,621.6 902.26,625.3 902.68,625.3 903.10,622.2 903.52,622.9 903.94,629.1 904.36,621.8 904.78,626.5 905.20,622.7 905.62,622.4 906.04,622.0 906.46,624.3 906.88,624.6 907.30,626.4 907.72,623.0 908.14,625.8 908.56,623.6 908.98,623.3 909.40,626.4 909.82,626.0 910.24,621.6 910.66,625.4 911.08,620.9 911.50,622.7 911.92,628.8 912.34,628.2 912.76,624.8 913.18,626.6 913.60,628.1 914.02,629.2 914.44,629.2 914.86,623.6 915.28,625.2 915.70,625.6 916.12,619.8 916.54,623.7 916.96,626.3 917.38,624.9 917.80,624.0 918.22,622.8 918.64,624.1 919.06,625.4 919.48,624.8 919.90,628.1 920.32,627.4 920.74,622.6 921.16,627.7 921.58,625.6 922.00,627.3 922.42,624.1 922.84,627.6 923.26,624.0 923.68,627.9 924.10,625.5 924.52,625.0 924.94,622.6 925.36,621.9 925.78,627.6 926.20,623.0 926.62,622.9 927.04,626.5 927.46,625.6 927.88,626.9 928.30,622.6 928.72,620.8 929.14,623.5 929.56,627.9 929.98,625.5 930.40,626.6 930.82,626.8 931.24,626.0 931.66,626.0 932.08,625.1 932.50,626.1 932.92,626.3 933.34,624.1 933.76,627.0 934.18,625.6 934.60,625.4 935.02,625.2 935.44,627.6 935.86,625.3 936.28,628.3 936.70,623.3 937.12,626.9 937.54,622.1 937.96,625.7 938.38,624.5 938.80,624.6 939.22,623.2 939.64,625.5 940.06,626.8 940.48,621.5 940.90,625.3 941.32,626.1 941.74,627.1 942.16,626.5 942.58,623.3 943.00,628.1 943.42,623.9 943.84,627.0 944.26,626.4 944.68,624.7 945.10,624.0 945.52,625.7 945.94,629.5 946.36,627.7 946.78,625.1 947.20,628.1 947.62,630.3 948.04,631.5 948.46,622.8 948.88,628.4 949.30,628.7 949.72,625.1 950.14,622.9 950.56,630.0 950.98,626.2 951.40,623.7 951.82,625.0 952.24,629.1 952.66,632.5 953.08,629.8 953.50,625.9 953.92,630.7 954.34,623.8 954.76,630.3 955.18,630.4 955.60,632.4 956.02,630.8 956.44,631.3 956.86,629.3 957.28,628.4 957.70,629.4 958.12,633.7 958.54,628.4 958.96,629.6 959.38,628.8 959.80,631.3 960.22,630.9 960.64,634.3 961.06,634.6 961.48,632.3 961.90,631.8 962.32,629.6 962.74,626.6 963.16,630.2 963.58,629.9 964.00,627.3 964.42,630.3 964.84,632.0 965.26,627.8 965.68,631.7 966.10,630.7 966.52,628.6 966.94,630.0 967.36,631.4 967.78,629.3 968.20,629.6 968.62,632.6 969.04,630.9 969.46,630.9 969.88,628.6 970.30,631.2 970.72,633.0 971.14,627.5 971.56,626.0 971.98,627.8 972.40,629.3 972.82,627.3 973.24,625.8 973.66,633.2 974.08,628.6 974.50,627.7 974.92,623.1 975.34,631.5 975.76,626.0 976.18,632.3 976.60,630.7 977.02,629.9 977.44,628.9 977.86,631.5 978.28,628.1 978.70,630.1 979.12,628.2 979.54,628.6 979.96,632.8 980.38,631.7 980.80,627.2 981.22,627.3 981.64,629.3 982.06,628.9 982.48,630.3 982.90,628.3 983.32,626.8 983.74,631.0 984.16,628.6 984.58,630.7 985.00,627.1 985.42,632.5 985.84,629.7 986.26,629.7 986.68,629.9 987.10,625.5 987.52,630.6 987.94,627.9 988.36,626.5 988.78,629.9 989.20,632.9 989.62,627.5 990.04,632.5 990.46,624.1 990.88,629.7 991.30,627.7 991.72,629.6 992.14,633.9 992.56,630.6 992.98,625.7 993.40,632.4 993.82,626.8 994.24,627.9 994.66,627.2 995.08,629.5 995.50,629.0 995.92,632.9 996.34,630.1 996.76,630.9 997.18,629.1 997.60,632.0 998.02,627.2 998.44,626.3 998.86,631.6 999.28,631.3 999.70,629.8 1000.12,634.8 1000.54,627.8 1000.96,633.1 1001.38,633.4 1001.80,627.2 1002.22,631.3 1002.64,631.9 1003.06,629.9 1003.48,630.0 1003.90,630.2 1004.32,628.5 1004.74,627.4 1005.16,632.3 1005.58,631.1 1006.00,630.7 1006.42,631.9 1006.84,629.0 1007.26,629.4 1007.68,632.7 1008.10,631.0 1008.52,632.1 1008.94,633.5 1009.36,635.0 1009.78,629.2 1010.20,630.0 1010.62,628.2 1011.04,629.9 1011.46,632.5 1011.88,630.3 1012.30,636.3 1012.72,630.6 1013.14,627.7 1013.56,629.7 1013.98,636.3 1014.40,629.8 1014.82,631.7 1015.24,630.1 1015.66,629.5 1016.08,634.5 1016.50,629.4 1016.92,628.1 1017.34,630.4 1017.76,630.6 1018.18,633.0 1018.60,632.3 1019.02,634.8 1019.44,631.7 1019.86,633.1 1020.28,633.2 1020.70,634.4 1021.12,629.5 1021.54,631.4 1021.96,626.2 1022.38,630.4 1022.80,629.5 1023.22,630.3 1023.64,635.5 1024.06,634.4 1024.48,628.9 1024.90,636.1 1025.32,634.9 1025.74,632.5 1026.16,631.9 1026.58,631.8 1027.00,632.1 1027.42,633.6 1027.84,631.5 1028.26,634.3 1028.68,631.4 1029.10,630.6 1029.52,631.8 1029.94,632.8 1030.36,633.0 1030.78,632.1 1031.20,628.8 1031.62,629.2 1032.04,628.4 1032.46,631.5 1032.88,633.6 1033.30,632.2 1033.72,632.0 1034.14,631.1 1034.56,631.4 1034.98,630.6 1035.40,634.4 1035.82,629.4 1036.24,630.2 1036.66,633.2 1037.08,631.3 1037.50,633.5 1037.92,631.1 1038.34,633.0 1038.76,632.6 1039.18,629.3 1039.60,633.3 1040.02,634.9 1040.44,630.7 1040.86,631.8 1041.28,633.5 1041.70,635.5 1042.12,632.9 1042.54,637.2 1042.96,631.3 1043.38,636.3 1043.80,630.5 1044.22,632.1 1044.64,630.2 1045.06,634.3 1045.48,633.5 1045.90,628.4 1046.32,626.5 1046.74,636.8 1047.16,631.5 1047.58,628.5 1048.00,630.2 1048.42,631.1 1048.84,635.6 1049.26,633.1 1049.68,632.2 1050.10,630.1 1050.52,633.6 1050.94,628.3 1051.36,634.6 1051.78,634.2 1052.20,631.1 1052.62,628.9 1053.04,630.8 1053.46,631.9 1053.88,636.5 1054.30,635.8 1054.72,630.8 1055.14,630.5 1055.56,629.2 1055.98,633.0 1056.40,631.0 1056.82,633.7 1057.24,632.3 1057.66,631.0 1058.08,630.0 1058.50,628.7 1058.92,633.5 1059.34,629.3 1059.76,633.7 1060.18,628.6 1060.60,626.7 1061.02,632.3 1061.44,631.0 1061.86,634.2 1062.28,632.3 1062.70,632.1 1063.12,634.1 1063.54,630.9 1063.96,633.7 1064.38,637.6 1064.80,632.8 1065.22,630.4 1065.64,632.3 1066.06,630.7 1066.48,631.7 1066.90,636.0 1067.32,630.3 1067.74,629.8 1068.16,633.6 1068.58,631.6 1069.00,632.1 1069.42,631.2 1069.84,633.0 1070.26,635.7 1070.68,633.9 1071.10,631.7 1071.52,631.8 1071.94,630.6 1072.36,630.7 1072.78,634.6 1073.20,633.8 1073.62,633.7 1074.04,633.8 1074.46,631.4 1074.88,632.7 1075.30,633.8 1075.72,636.2 1076.14,633.3 1076.56,632.9 1076.98,631.1 1077.40,635.0 1077.82,632.3 1078.24,633.4 1078.66,633.7 1079.08,631.2 1079.50,633.5 1079.92,635.3 1080.34,631.1 1080.76,631.9 1081.18,631.2 1081.60,633.2 1082.02,637.5 1082.44,633.7 1082.86,635.7 1083.28,633.6 1083.70,632.2 1084.12,633.1 1084.54,633.6 1084.96,632.7 1085.38,633.0 1085.80,633.4 1086.22,631.9 1086.64,636.5 1087.06,634.2 1087.48,633.0 1087.90,632.1 1088.32,634.1 1088.74,631.7 1089.16,630.7 1089.58,632.6 1090.00,636.0 1090.42,633.0 1090.84,633.8 1091.26,631.4 1091.68,634.6 1092.10,632.4 1092.52,632.3 1092.94,631.9 1093.36,633.3 1093.78,631.4 1094.20,632.8 1094.62,633.3 1095.04,631.7 1095.46,629.6 1095.88,634.7 1096.30,631.1 1096.72,629.7 1097.14,633.8 1097.56,633.7 1097.98,636.2 1098.40,636.6 1098.82,629.3 1099.24,632.7 1099.66,634.5 1100.08,631.2 1100.50,636.4 1100.92,634.8 1101.34,632.7 1101.76,633.0 1102.18,634.8 1102.60,638.6 1103.02,638.2 1103.44,631.2 1103.86,635.5 1104.28,631.2 1104.70,634.0 1105.12,632.2 1105.54,633.7 1105.96,633.4 1106.38,635.1 1106.80,632.8 1107.22,635.8 1107.64,634.1 1108.06,632.5 1108.48,637.5 1108.90,635.1 1109.32,634.0 1109.74,634.6 1110.16,635.9 1110.58,634.2 1111.00,633.2 1111.42,634.1 1111.84,633.3 1112.26,633.3 1112.68,637.9 1113.10,636.1 1113.52,637.3 1113.94,633.4 1114.36,630.8 1114.78,633.7 1115.20,635.6 1115.62,633.4 1116.04,634.9 1116.46,632.5 1116.88,635.5 1117.30,633.6 1117.72,634.5 1118.14,635.9 1118.56,632.9 1118.98,632.2 1119.40,632.8 1119.82,635.7 1120.24,633.8 1120.66,636.7 1121.08,635.6 1121.50,636.8 1121.92,634.8 1122.34,637.0 1122.76,636.0 1123.18,630.4 1123.60,637.4 1124.02,636.3 1124.44,633.6 1124.86,632.0 1125.28,630.6 1125.70,634.8 1126.12,632.7 1126.54,632.1 1126.96,632.4 1127.38,631.1 1127.80,636.5 1128.22,632.7 1128.64,634.4 1129.06,634.8 1129.48,635.3 1129.90,634.2 1130.32,636.2 1130.74,633.2 1131.16,639.0 1131.58,631.2 1132.00,635.9 1132.42,639.1 1132.84,632.5 1133.26,637.5 1133.68,638.8 1134.10,633.5 1134.52,637.7 1134.94,633.3 1135.36,635.1 1135.78,634.0 1136.20,632.5 1136.62,632.2 1137.04,633.3 1137.46,631.3 1137.88,634.9 1138.30,634.8 1138.72,636.8 1139.14,635.4 1139.56,634.2 1139.98,633.8 1140.40,639.7 1140.82,631.2 1141.24,631.7 1141.66,639.2 1142.08,636.8 1142.50,634.9 1142.92,635.6 1143.34,636.6 1143.76,631.4 1144.18,633.9 1144.60,636.0 1145.02,635.9 1145.44,636.9 1145.86,635.1 1146.28,633.8 1146.70,633.3 1147.12,635.9 1147.54,634.6 1147.96,635.7 1148.38,637.7 1148.80,637.3 1149.22,632.1 1149.64,637.2 1150.06,632.8 1150.48,631.4 1150.90,639.3 1151.32,635.5 1151.74,633.7 1152.16,634.1 1152.58,637.0 1153.00,639.3 1153.42,637.9 1153.84,634.7 1154.26,632.8 1154.68,635.0 1155.10,637.4 1155.52,636.4 1155.94,632.6 1156.36,635.7 1156.78,636.7"/>
<polyline fill="none" stroke="#FF0000" stroke-width="4.0" stroke-linejoin="round" shape-rendering="crispEdges" points="103.00,453.6 103.42,448.3 103.84,448.7 104.26,445.5 104.68,462.1 105.10,473.8 105.52,471.6 105.94,477.9 106.36,484.9 106.78,480.7 107.20,502.8 107.62,490.8 108.04,501.0 108.46,515.2 108.88,503.9 109.30,506.6 109.72,505.2 110.14,510.5 110.56,500.4 110.98,508.3 111.40,520.1 111.82,514.3 112.24,513.1 112.66,516.6 113.08,517.5 113.50,516.9 113.92,519.4 114.34,509.8 114.76,520.5 115.18,515.1 115.60,522.1 116.02,518.8 116.44,514.7 116.86,519.1 117.28,515.2 117.70,524.5 118.12,520.1 118.54,524.3 118.96,515.6 119.38,528.2 119.80,519.8 120.22,527.5 120.64,525.5 121.06,517.0 121.48,523.8 121.90,520.3 122.32,525.0 122.74,530.0 123.16,527.2 123.58,529.5 124.00,520.1 124.42,526.8 124.84,528.1 125.26,532.0 125.68,525.1 126.10,531.0 126.52,530.9 126.94,522.9 127.36,525.6 127.78,532.6 128.20,526.0 128.62,526.2 129.04,535.8 129.46,533.5 129.88,531.5 130.30,533.3 130.72,531.4 131.14,531.1 131.56,531.7 131.98,535.7 132.40,540.0 132.82,532.5 133.24,534.5 133.66,534.1 134.08,529.8 134.50,536.6 134.92,539.5 135.34,532.2 135.76,539.8 136.18,533.9 136.60,541.6 137.02,542.0 137.44,535.3 137.86,528.5 138.28,535.8 138.70,531.5 139.12,532.0 139.54,536.8 139.96,544.0 140.38,537.9 140.80,537.5 141.22,530.7 141.64,536.3 142.06,533.0 142.48,541.5 142.90,537.2 143.32,539.5 143.74,539.8 144.16,539.3 144.58,544.4 145.00,542.6 145.42,539.3 145.84,541.5 146.26,543.4 146.68,547.1 147.10,542.0 147.52,547.8 147.94,539.3 148.36,541.0 148.78,535.8 149.20,545.9 149.62,538.1 150.04,538.3 150.46,546.5 150.88,540.8 151.30,540.1 151.72,547.6 152.14,542.9 152.56,547.8 152.98,542.3 153.40,547.3 153.82,549.0 154.24,544.9 154.66,552.4 155.08,543.2 155.50,544.1 155.92,545.6 156.34,549.7 156.76,544.3 157.18,543.9 157.60,547.0 158.02,551.4 158.44,544.4 158.86,541.0 159.28,546.0 159.70,549.4 160.12,544.6 160.54,547.7 160.96,539.4 161.38,547.6 161.80,548.2 162.22,550.6 162.64,549.4 163.06,551.6 163.48,544.3 163.90,551.5 164.32,541.9 164.74,546.6 165.16,553.9 165.58,553.0 166.00,541.8 166.42,552.3 166.84,548.1 167.26,546.8 167.68,551.1 168.10,550.9 168.52,556.4 168.94,544.6 169.36,548.9 169.78,550.2 170.20,543.2 170.62,555.9 171.04,558.4 171.46,548.4 171.88,552.7 172.30,550.0 172.72,552.2 173.14,548.3 173.56,554.6 173.98,546.2 174.40,556.8 174.82,552.6 175.24,561.3 175.66,544.2 176.08,550.7 176.50,545.7 176.92,550.5 177.34,552.9 177.76,547.2 178.18,545.1 178.60,543.8 179.02,552.0 179.44,556.5 179.86,556.0 180.28,551.2 180.70,547.1 181.12,549.6 181.54,544.8 181.96,544.5 182.38,555.6 182.80,549.9 183.22,552.4 183.64,550.0 184.06,556.7 184.48,557.1 184.90,547.8 185.32,549.6 185.74,548.3 186.16,556.6 186.58,556.3 187.00,549.9 187.42,560.8 187.84,551.3 188.26,546.1 188.68,542.8 189.10,550.8 189.52,552.9 189.94,549.3 190.36,553.4 190.78,557.0 191.20,552.0 191.62,555.9 192.04,559.6 192.46,554.9 192.88,550.6 193.30,555.1 193.72,555.7 194.14,562.6 194.56,552.1 194.98,547.7 195.40,555.6 195.82,555.9 196.24,553.0 196.66,557.3 197.08,556.5 197.50,560.4 197.92,552.0 198.34,552.7 198.76,555.7 199.18,553.8 199.60,561.3 200.02,558.5 200.44,556.1 200.86,562.5 201.28,558.3 201.70,560.3 202.12,559.5 202.54,555.6 202.96,555.5 203.38,556.1 203.80,551.5 204.22,554.6 204.64,559.5 205.06,557.2 205.48,551.9 205.90,565.5 206.32,551.4 206.74,558.1 207.16,558.5 207.58,560.7 208.00,551.7 208.42,555.3 208.84,554.3 209.26,559.7 209.68,556.5 210.10,556.5 210.52,556.9 210.94,562.8 211.36,557.3 211.78,558.1 212.20,550.4 212.62,557.1 213.04,548.9 213.46,558.0 213.88,554.6 214.30,550.2 214.72,549.0 215.14,553.3 215.56,554.1 215.98,551.1 216.40,552.0 216.82,552.0 217.24,551.0 217.66,552.4 218.08,554.2 218.50,558.4 218.92,555.6 219.34,550.4 219.76,559.5 220.18,557.6 220.60,551.5 221.02,556.7 221.44,550.1 221.86,549.1 222.28,549.2 222.70,558.9 223.12,552.6 223.54,553.2 223.96,552.1 224.38,550.0 224.80,553.7 225.22,554.4 225.64,559.7 226.06,547.8 226.48,557.7 226.90,553.9 227.32,543.8 227.74,555.0 228.16,557.6 228.58,555.3 229.00,551.6 229.42,551.2 229.84,542.0 230.26,551.6 230.68,550.9 231.10,546.1 231.52,550.8 231.94,547.0 232.36,559.2 232.78,544.4 233.20,545.6 233.62,540.2 234.04,547.5 234.46,549.5 234.88,548.9 235.30,546.0 235.72,552.3 236.14,549.5 236.56,553.4 236.98,547.8 237.40,540.7 237.82,547.4 238.24,543.6 238.66,551.2 239.08,545.0 239.50,546.4 239.92,547.2 240.34,540.7 240.76,545.3 241.18,550.5 241.60,544.2 242.02,545.8 242.44,547.0 242.86,543.3 243.28,544.8 243.70,547.7 244.12,544.0 244.54,545.7 244.96,544.7 245.38,540.6 245.80,539.4 246.22,553.1 246.64,550.3 247.06,543.7 247.48,548.0 247.90,548.4 248.32,547.5 248.74,541.6 249.16,536.8 249.58,537.2 250.00,541.3 250.42,547.8 250.84,548.4 251.26,540.4 251.68,539.7 252.10,546.0 252.52,549.3 252.94,536.2 253.36,541.9 253.78,540.2 254.20,537.8 254.62,537.5 255.04,537.1 255.46,538.2 255.88,531.3 256.30,537.6 256.72,540.7 257.14,540.2 257.56,540.1 257.98,537.8 258.40,536.9 258.82,544.2 259.24,534.6 259.66,535.8 260.08,540.2 260.50,534.7 260.92,528.6 261.34,531.5 261.76,531.7 262.18,532.7 262.60,531.1 263.02,537.1 263.44,535.5 263.86,534.3 264.28,530.1 264.70,536.1 265.12,535.6 265.54,540.6 265.96,528.0 266.38,529.9 266.80,536.2 267.22,525.1 267.64,530.7 268.06,530.2 268.48,529.1 268.90,524.4 269.32,528.4 269.74,521.4 270.16,532.9 270.58,525.1 271.00,527.6 271.42,526.5 271.84,527.0 272.26,526.4 272.68,527.3 273.10,523.5 273.52,524.9 273.94,519.4 274.36,519.3 274.78,519.7 275.20,518.6 275.62,516.5 276.04,519.4 276.46,524.5 276.88,523.1 277.30,519.0 277.72,521.8 278.14,521.5 278.56,531.4 278.98,511.8 279.40,519.6 279.82,512.1 280.24,523.2 280.66,516.1 281.08,518.5 281.50,516.9 281.92,518.6 282.34,501.7 282.76,509.1 283.18,514.2 283.60,507.2 284.02,515.3 284.44,517.9 284.86,505.9 285.28,509.4 285.70,513.8 286.12,518.9 286.54,514.9 286.96,513.3 287.38,505.8 287.80,509.7 288.22,509.9 288.64,506.4 289.06,510.9 289.48,507.4 289.90,506.6 290.32,518.2 290.74,507.5 291.16,516.7 291.58,506.1 292.00,507.3 292.42,501.7 292.84,504.5 293.26,514.1 293.68,506.5 294.10,496.8 294.52,512.1 294.94,500.9 295.36,502.5 295.78,503.7 296.20,494.6 296.62,509.9 297.04,508.2 297.46,500.1 297.88,502.7 298.30,499.1 298.72,497.1 299.14,498.3 299.56,492.1 299.98,496.3 300.40,495.0 300.82,506.0 301.24,489.5 301.66,501.7 302.08,498.4 302.50,495.1 302.92,491.0 303.34,501.8 303.76,499.6 304.18,492.1 304.60,490.9 305.02,492.3 305.44,499.8 305.86,486.6 306.28,491.1 306.70,495.9 307.12,483.7 307.54,489.7 307.96,495.3 308.38,487.8 308.80,489.2 309.22,482.2 309.64,491.3 310.06,483.7 310.48,487.3 310.90,490.6 311.32,486.1 311.74,492.7 312.16,491.8 312.58,490.4 313.00,492.4 313.42,486.6 313.84,476.7 314.26,490.8 314.68,490.0 315.10,483.5 315.52,481.4 315.94,490.5 316.36,482.3 316.78,482.3 317.20,481.6 317.62,494.6 318.04,479.5 318.46,470.1 318.88,481.6 319.30,476.7 319.72,472.8 320.14,481.4 320.56,477.8 320.98,484.2 321.40,477.9 321.82,484.9 322.24,483.6 322.66,478.6 323.08,482.0 323.50,486.8 323.92,481.2 324.34,470.8 324.76,478.1 325.18,478.8 325.60,483.9 326.02,477.3 326.44,483.5 326.86,477.6 327.28,478.5 327.70,477.4 328.12,478.8 328.54,478.2 328.96,480.7 329.38,475.6 329.80,474.3 330.22,479.1 330.64,480.2 331.06,477.6 331.48,481.4 331.90,481.0 332.32,487.3 332.74,471.8 333.16,488.2 333.58,466.9 334.00,469.2 334.42,478.6 334.84,472.3 335.26,475.0 335.68,473.9 336.10,469.3 336.52,468.6 336.94,473.1 337.36,476.4 337.78,477.4 338.20,475.0 338.62,472.4 339.04,479.6 339.46,462.9 339.88,473.5 340.30,479.3 340.72,480.8 341.14,478.6 341.56,479.2 341.98,477.5 342.40,473.0 342.82,461.4 343.24,469.8 343.66,470.9 344.08,480.0 344.50,470.3 344.92,470.9 345.34,476.2 345.76,468.7 346.18,474.1 346.60,477.1 347.02,473.3 347.44,475.1 347.86,467.2 348.28,470.3 348.70,475.5 349.12,482.6 349.54,474.5 349.96,472.9 350.38,473.5 350.80,480.6 351.22,470.4 351.64,478.2 352.06,475.6 352.48,477.7 352.90,473.7 353.32,477.8 353.74,484.0 354.16,476.0 354.58,475.0 355.00,464.9 355.42,479.7 355.84,474.3 356.26,479.3 356.68,477.9 357.10,473.5 357.52,474.0 357.94,470.4 358.36,486.2 358.78,480.7 359.20,479.8 359.62,481.1 360.04,481.5 360.46,478.4 360.88,478.7 361.30,485.2 361.72,464.2 362.14,473.1 362.56,468.6 362.98,471.5 363.40,458.4 363.82,465.1 364.24,474.0 364.66,463.3 365.08,471.8 365.50,464.5 365.92,467.4 366.34,460.3 366.76,464.3 367.18,459.5 367.60,469.3 368.02,457.6 368.44,467.6 368.86,463.0 369.28,464.7 369.70,472.4 370.12,463.9 370.54,461.8 370.96,464.8 371.38,467.9 371.80,461.4 372.22,472.2 372.64,464.0 373.06,460.6 373.48,458.0 373.90,459.0 374.32,460.9 374.74,462.3 375.16,458.0 375.58,456.3 376.00,460.6 376.42,451.5 376.84,468.5 377.26,467.7 377.68,463.1 378.10,468.0 378.52,460.0 378.94,474.3 379.36,465.1 379.78,464.0 380.20,477.1 380.62,462.6 381.04,470.0 381.46,464.2 381.88,466.2 382.30,468.4 382.72,469.3 383.14,482.6 383.56,484.4 383.98,479.8 384.40,496.9 384.82,486.8 385.24,486.3 385.66,489.0 386.08,481.8 386.50,492.9 386.92,481.7 387.34,479.7 387.76,490.5 388.18,480.8 388.60,483.9 389.02,479.4 389.44,483.4 389.86,486.4 390.28,475.0 390.70,486.9 391.12,484.2 391.54,495.7 391.96,499.6 392.38,493.4 392.80,494.7 393.22,497.9 393.64,498.8 394.06,487.9 394.48,489.2 394.90,493.7 395.32,490.0 395.74,495.5 396.16,498.1 396.58,494.4 397.00,500.8 397.42,505.9 397.84,499.9 398.26,502.1 398.68,500.4 399.10,500.7 399.52,499.1 399.94,496.7 400.36,505.0 400.78,507.8 401.20,503.0 401.62,504.1 402.04,497.7 402.46,503.3 402.88,506.2 403.30,504.7 403.72,505.8 404.14,501.2 404.56,500.4 404.98,505.4 405.40,513.7 405.82,505.5 406.24,500.7 406.66,504.9 407.08,507.4 407.50,514.2 407.92,514.0 408.34,505.8 408.76,505.3 409.18,509.2 409.60,510.7 410.02,506.7 410.44,516.0 410.86,510.1 411.28,513.7 411.70,512.1 412.12,515.7 412.54,513.3 412.96,515.4 413.38,520.2 413.80,516.0 414.22,521.8 414.64,510.0 415.06,515.1 415.48,511.6 415.90,510.2 416.32,516.7 416.74,525.6 417.16,518.5 417.58,522.1 418.00,509.4 418.42,519.2 418.84,513.3 419.26,519.7 419.68,523.6 420.10,517.1 420.52,524.4 420.94,516.4 421.36,520.7 421.78,517.7 422.20,521.3 422.62,520.6 423.04,511.9 423.46,520.4 423.88,520.2 424.30,530.1 424.72,512.0 425.14,523.7 425.56,527.2 425.98,532.3 426.40,529.9 426.82,524.1 427.24,530.9 427.66,524.1 428.08,524.0 428.50,523.4 428.92,523.4 429.34,531.8 429.76,518.0 430.18,518.5 430.60,529.5 431.02,527.5 431.44,529.2 431.86,524.4 432.28,528.5 432.70,524.7 433.12,523.6 433.54,524.0 433.96,526.6 434.38,526.5 434.80,524.6 435.22,533.4 435.64,528.6 436.06,525.3 436.48,521.3 436.90,526.9 437.32,520.4 437.74,523.8 438.16,523.0 438.58,524.4 439.00,529.3 439.42,514.6 439.84,535.3 440.26,531.1 440.68,527.6 441.10,527.1 441.52,533.2 441.94,529.9 442.36,538.3 442.78,530.4 443.20,527.4 443.62,525.6 444.04,531.7 444.46,536.9 444.88,527.5 445.30,538.6 445.72,537.1 446.14,532.4 446.56,539.7 446.98,526.9 447.40,525.4 447.82,536.3 448.24,537.2 448.66,537.4 449.08,535.9 449.50,530.1 449.92,539.0 450.34,535.5 450.76,541.1 451.18,538.6 451.60,533.0 452.02,540.9 452.44,542.0 452.86,542.3 453.28,536.2 453.70,535.1 454.12,543.3 454.54,540.0 454.96,540.1 455.38,545.2 455.80,545.7 456.22,543.7 456.64,541.0 457.06,548.6 457.48,538.1 457.90,542.9 458.32,544.6 458.74,537.7 459.16,540.8 459.58,547.9 460.00,544.1 460.42,540.3 460.84,552.1 461.26,546.2 461.68,546.1 462.10,553.7 462.52,540.1 462.94,544.3 463.36,543.0 463.78,552.7 464.20,544.0 464.62,557.6 465.04,550.0 465.46,549.6 465.88,552.7 466.30,547.9 466.72,545.3 467.14,546.8 467.56,549.7 467.98,545.7 468.40,550.7 468.82,547.7 469.24,549.7 469.66,550.5 470.08,557.8 470.50,561.0 470.92,559.6 471.34,551.6 471.76,549.7 472.18,557.4 472.60,558.8 473.02,557.5 473.44,551.4 473.86,555.5 474.28,553.3 474.70,559.0 475.12,558.8 475.54,556.2 475.96,553.8 476.38,563.0 476.80,556.8 477.22,559.7 477.64,558.9 478.06,560.1 478.48,561.9 478.90,555.9 479.32,555.8 479.74,560.4 480.16,544.8 480.58,558.0 481.00,556.6 481.42,561.8 481.84,560.5 482.26,558.5 482.68,554.7 483.10,559.0 483.52,558.7 483.94,560.5 484.36,561.4 484.78,557.8 485.20,563.1 485.62,559.0 486.04,563.1 486.46,562.7 486.88,566.9 487.30,562.0 487.72,568.8 488.14,561.0 488.56,559.2 488.98,565.6 489.40,558.1 489.82,564.9 490.24,565.2 490.66,564.6 491.08,565.7 491.50,565.1 491.92,569.7 492.34,564.2 492.76,557.0 493.18,563.7 493.60,568.8 494.02,569.6 494.44,568.6 494.86,566.2 495.28,562.5 495.70,572.7 496.12,564.3 496.54,562.5 496.96,557.3 497.38,574.9 497.80,567.4 498.22,560.2 498.64,571.3 499.06,570.7 499.48,561.5 499.90,571.6 500.32,568.7 500.74,571.6 501.16,574.5 501.58,567.6 502.00,578.1 502.42,569.2 502.84,567.5 503.26,574.8 503.68,567.6 504.10,569.0 504.52,573.9 504.94,567.3 505.36,565.6 505.78,572.3 506.20,571.2 506.62,569.2 507.04,575.4 507.46,567.1 507.88,575.0 508.30,567.9 508.72,574.2 509.14,567.7 509.56,575.3 509.98,572.7 510.40,571.4 510.82,573.5 511.24,572.9 511.66,576.8 512.08,571.2 512.50,575.7 512.92,572.9 513.34,571.9 513.76,572.5 514.18,570.4 514.60,576.1 515.02,575.4 515.44,576.6 515.86,569.2 516.28,573.9 516.70,581.7 517.12,580.8 517.54,575.8 517.96,576.5 518.38,577.5 518.80,581.1 519.22,582.9 519.64,578.6 520.06,578.7 520.48,577.9 520.90,579.5 521.32,585.3 521.74,576.2 522.16,581.5 522.58,574.8 523.00,575.3 523.42,573.3 523.84,577.6 524.26,585.9 524.68,586.7 525.10,583.8 525.52,580.9 525.94,585.4 526.36,577.5 526.78,576.4 527.20,578.7 527.62,581.5 528.04,575.6 528.46,579.8 528.88,589.6 529.30,582.6 529.72,582.2 530.14,581.5 530.56,586.9 530.98,586.9 531.40,585.0 531.82,584.3 532.24,577.1 532.66,579.9 533.08,584.1 533.50,583.8 533.92,585.0 534.34,584.6 534.76,593.3 535.18,591.1 535.60,582.9 536.02,590.1 536.44,589.0 536.86,587.6 537.28,587.0 537.70,589.5 538.12,595.3 538.54,586.6 538.96,588.2 539.38,588.6 539.80,582.9 540.22,589.5 540.64,586.6 541.06,590.9 541.48,591.6 541.90,597.0 542.32,589.7 542.74,589.7 543.16,593.7 543.58,598.6 544.00,592.1 544.42,593.5 544.84,594.0 545.26,593.9 545.68,590.4 546.10,589.6 546.52,590.1 546.94,591.5 547.36,594.2 547.78,590.0 548.20,590.6 548.62,593.6 549.04,593.3 549.46,594.3 549.88,589.5 550.30,601.2 550.72,593.7 551.14,593.7 551.56,591.7 551.98,596.6 552.40,598.8 552.82,595.1 553.24,595.0 553.66,594.6 554.08,603.8 554.50,598.0 554.92,594.5 555.34,596.7 555.76,600.1 556.18,597.0 556.60,597.7 557.02,597.4 557.44,596.3 557.86,599.1 558.28,603.1 558.70,599.1 559.12,596.5 559.54,594.8 559.96,597.6 560.38,596.1 560.80,595.2 561.22,600.7 561.64,599.7 562.06,602.6 562.48,600.7 562.90,597.8 563.32,602.7 563.74,601.0 564.16,604.8 564.58,596.5 565.00,599.0 565.42,600.8 565.84,606.3 566.26,602.7 566.68,597.4 567.10,598.5 567.52,604.0 567.94,596.9 568.36,600.4 568.78,602.6 569.20,602.2 569.62,604.9 570.04,607.0 570.46,605.6 570.88,600.6 571.30,610.0 571.72,609.5 572.14,603.4 572.56,605.5 572.98,602.4 573.40,612.3 573.82,606.2 574.24,609.7 574.66,610.3 575.08,613.3 575.50,609.7 575.92,608.5 576.34,612.1 576.76,613.7 577.18,608.8 577.60,610.7 578.02,606.0 578.44,616.2 578.86,609.4 579.28,615.2 579.70,615.0 580.12,614.8 580.54,615.6 580.96,609.9 581.38,613.4 581.80,610.5 582.22,612.5 582.64,610.6 583.06,621.3 583.48,614.2 583.90,616.9 584.32,611.5 584.74,619.8 585.16,613.6 585.58,613.5 586.00,613.2 586.42,609.1 586.84,607.6 587.26,615.2 587.68,611.0 588.10,613.9 588.52,621.5 588.94,613.9 589.36,621.8 589.78,616.2 590.20,611.5 590.62,617.3 591.04,619.2 591.46,618.2 591.88,613.4 592.30,612.2 592.72,618.9 593.14,622.4 593.56,622.2 593.98,615.3 594.40,615.9 594.82,617.8 595.24,620.7 595.66,618.7 596.08,618.9 596.50,617.7 596.92,609.1 597.34,614.1 597.76,618.9 598.18,613.4 598.60,625.6 599.02,616.4 599.44,621.5 599.86,622.6 600.28,623.5 600.70,616.1 601.12,619.5 601.54,625.4 601.96,620.8 602.38,623.5 602.80,612.9 603.22,622.5 603.64,622.0 604.06,621.3 604.48,616.0 604.90,619.7 605.32,621.4 605.74,621.3 606.16,619.1 606.58,626.6 607.00,626.4 607.42,622.3 607.84,628.5 608.26,620.1 608.68,625.2 609.10,629.8 609.52,626.6 609.94,624.4 610.36,626.8 610.78,625.0 611.20,623.8 611.62,623.3 612.04,626.1 612.46,625.8 612.88,627.6 613.30,624.0 613.72,627.9 614.14,630.3 614.56,625.4 614.98,632.8 615.40,625.5 615.82,625.7 616.24,626.3 616.66,624.5 617.08,623.7 617.50,625.1 617.92,628.3 618.34,626.7 618.76,634.3 619.18,629.1 619.60,628.7 620.02,628.4 620.44,631.9 620.86,631.0 621.28,632.0 621.70,633.8 622.12,636.3 622.54,628.8 622.96,634.2 623.38,632.4 623.80,633.3 624.22,630.9 624.64,634.9 625.06,635.1 625.48,634.6 625.90,631.2 626.32,636.1 626.74,631.1 627.16,629.6 627.58,637.1 628.00,634.5 628.42,630.1 628.84,633.2 629.26,635.6 629.68,638.8 630.10,635.4 630.52,633.8 630.94,633.3 631.36,632.7 631.78,636.7 632.20,635.0 632.62,639.5 633.04,635.7 633.46,641.4 633.88,637.8 634.30,638.8 634.72,638.6 635.14,638.8 635.56,644.4 635.98,637.6 636.40,638.5 636.82,639.6 637.24,642.6 637.66,637.8 638.08,645.5 638.50,638.4 638.92,639.9 639.34,642.2 639.76,642.6 640.18,639.6 640.60,645.3 641.02,648.4 641.44,643.0 641.86,645.6 642.28,645.8 642.70,651.5 643.12,644.7 643.54,645.6 643.96,643.7 644.38,645.8 644.80,644.2 645.22,644.1 645.64,644.7 646.06,648.3 646.48,644.8 646.90,648.5 647.32,645.7 647.74,649.8 648.16,643.0 648.58,643.4 649.00,648.7 649.42,651.5 649.84,645.9 650.26,641.3 650.68,650.9 651.10,649.2 651.52,645.8 651.94,652.3 652.36,652.3 652.78,646.7 653.20,647.6 653.62,650.8 654.04,651.0 654.46,653.2 654.88,650.8 655.30,655.3 655.72,648.6 656.14,647.2 656.56,648.2 656.98,647.9 657.40,649.9 657.82,648.1 658.24,653.0 658.66,654.3 659.08,655.7 659.50,649.7 659.92,647.6 660.34,650.4 660.76,651.8 661.18,650.4 661.60,653.3 662.02,653.5 662.44,653.3 662.86,649.9 663.28,655.0 663.70,650.3 664.12,645.9 664.54,652.5 664.96,656.4 665.38,653.1 665.80,648.6 666.22,652.3 666.64,656.8 667.06,654.1 667.48,653.4 667.90,650.4 668.32,653.9 668.74,652.3 669.16,658.5 669.58,655.4 670.00,657.0 670.42,650.3 670.84,655.0 671.26,657.4 671.68,660.1 672.10,659.1 672.52,653.4 672.94,663.9 673.36,655.5 673.78,655.3 674.20,655.4 674.62,653.3 675.04,655.6 675.46,654.9 675.88,655.6 676.30,655.1 676.72,656.4 677.14,659.2 677.56,655.5 677.98,654.3 678.40,659.3 678.82,657.7 679.24,659.9 679.66,655.6 680.08,658.0 680.50,656.1 680.92,654.9 681.34,657.3 681.76,658.5 682.18,659.8 682.60,655.8 683.02,661.3 683.44,662.3 683.86,660.4 684.28,658.5 684.70,657.5 685.12,662.6 685.54,657.9 685.96,663.8 686.38,655.4 686.80,655.3 687.22,661.9 687.64,657.4 688.06,663.7 688.48,660.0 688.90,660.0 689.32,662.4 689.74,664.7 690.16,664.2 690.58,661.7 691.00,661.5 691.42,664.8 691.84,660.7 692.26,660.5 692.68,660.8 693.10,672.2 693.52,667.7 693.94,665.3 694.36,663.3 694.78,665.9 695.20,660.3 695.62,664.2 696.04,667.5 696.46,665.8 696.88,662.4 697.30,665.4 697.72,665.3 698.14,669.6 698.56,668.3 698.98,666.7 699.40,672.3 699.82,665.4 700.24,669.9 700.66,668.2 701.08,666.8 701.50,665.9 701.92,668.7 702.34,671.4 702.76,663.2 703.18,667.8 703.60,670.0 704.02,665.5 704.44,665.7 704.86,671.4 705.28,667.1 705.70,666.7 706.12,668.9 706.54,668.6 706.96,669.3 707.38,669.4 707.80,671.7 708.22,668.9 708.64,670.3 709.06,665.9 709.48,668.6 709.90,666.6 710.32,671.8 710.74,668.9 711.16,671.2 711.58,667.5 712.00,665.7 712.42,670.2 712.84,667.7 713.26,664.3 713.68,667.4 714.10,666.1 714.52,671.9 714.94,668.0 715.36,670.1 715.78,669.7 716.20,671.6 716.62,669.6 717.04,669.8 717.46,669.6 717.88,665.1 718.30,668.6 718.72,665.5 719.14,665.6 719.56,668.9 719.98,664.1 720.40,668.2 720.82,671.4 721.24,668.7 721.66,670.8 722.08,666.2 722.50,668.9 722.92,662.2 723.34,666.2 723.76,667.4 724.18,673.8 724.60,674.5 725.02,664.4 725.44,668.5 725.86,667.7 726.28,673.9 726.70,672.1 727.12,669.0 727.54,672.1 727.96,673.2 728.38,668.5 728.80,672.8 729.22,671.8 729.64,672.4 730.06,666.1 730.48,670.4 730.90,664.5 731.32,671.5 731.74,668.7 732.16,674.3 732.58,674.7 733.00,666.6 733.42,675.1 733.84,670.0 734.26,673.8 734.68,671.7 735.10,670.4 735.52,670.8 735.94,670.2 736.36,675.2 736.78,671.8 737.20,669.0 737.62,673.4 738.04,670.4 738.46,673.1 738.88,669.7 739.30,672.7 739.72,669.4 740.14,669.7 740.56,672.7 740.98,674.1 741.40,672.3 741.82,671.7 742.24,678.7 742.66,671.6 743.08,665.2 743.50,673.4 743.92,670.4 744.34,668.0 744.76,674.6 745.18,674.1 745.60,670.9 746.02,670.6 746.44,671.9 746.86,674.6 747.28,669.5 747.70,675.4 748.12,672.6 748.54,673.0 748.96,676.0 749.38,671.3 749.80,673.7 750.22,672.1 750.64,664.2 751.06,671.5 751.48,672.0 751.90,671.5 752.32,675.1 752.74,670.6 753.16,673.2 753.58,672.8 754.00,673.0 754.42,667.3 754.84,670.6 755.26,670.5 755.68,676.0 756.10,670.9 756.52,673.4 756.94,672.4 757.36,668.2 757.78,668.8 758.20,672.5 758.62,673.7 759.04,676.0 759.46,671.2 759.88,668.5 760.30,671.7 760.72,668.3 761.14,675.5 761.56,671.1 761.98,671.9 762.40,676.9 762.82,673.1 763.24,668.7 763.66,673.2 764.08,670.4 764.50,668.8 764.92,669.9 765.34,668.4 765.76,673.5 766.18,669.9 766.60,671.1 767.02,674.9 767.44,671.6 767.86,670.9 768.28,672.5 768.70,670.7 769.12,672.4 769.54,671.7 769.96,674.5 770.38,671.3 770.80,669.9 771.22,671.1 771.64,666.5 772.06,671.7 772.48,674.2 772.90,677.2 773.32,673.0 773.74,675.3 774.16,667.2 774.58,675.5 775.00,673.1 775.42,675.1 775.84,670.6 776.26,673.0 776.68,672.4 777.10,670.8 777.52,671.6 777.94,675.7 778.36,667.9 778.78,670.9 779.20,673.0 779.62,675.5 780.04,668.9 780.46,668.3 780.88,666.5 781.30,672.6 781.72,671.4 782.14,671.8 782.56,671.7 782.98,667.4 783.40,674.9 783.82,674.6 784.24,668.8 784.66,670.5 785.08,670.0 785.50,670.5 785.92,677.5 786.34,675.3 786.76,670.2 787.18,678.3 787.60,674.5 788.02,673.9 788.44,671.5 788.86,671.8 789.28,673.4 789.70,681.4 790.12,671.3 790.54,672.3 790.96,676.6 791.38,674.9 791.80,672.5 792.22,681.6 792.64,674.1 793.06,673.2 793.48,674.3 793.90,676.4 794.32,676.8 794.74,677.7 795.16,676.0 795.58,674.2 796.00,679.1 796.42,675.1 796.84,674.2 797.26,677.6 797.68,678.9 798.10,674.7 798.52,674.8 798.94,675.6 799.36,674.2 799.78,675.3 800.20,678.2 800.62,678.0 801.04,670.2 801.46,680.3 801.88,680.1 802.30,673.8 802.72,680.4 803.14,673.3 803.56,680.5 803.98,675.5 804.40,678.2 804.82,677.5 805.24,678.5 805.66,673.6 806.08,680.9 806.50,678.9 806.92,677.4 807.34,680.1 807.76,676.8 808.18,682.1 808.60,680.5 809.02,682.1 809.44,674.9 809.86,677.4 810.28,672.0 810.70,677.2 811.12,674.7 811.54,674.5 811.96,678.8 812.38,676.2 812.80,679.2 813.22,673.5 813.64,674.2 814.06,676.9 814.48,670.3 814.90,673.2 815.32,675.8 815.74,670.8 816.16,676.8 816.58,673.0 817.00,677.6 817.42,673.8 817.84,679.4 818.26,671.1 818.68,678.7 819.10,671.7 819.52,679.2 819.94,675.6 820.36,670.9 820.78,677.5 821.20,674.7 821.62,675.8 822.04,676.3 822.46,678.8 822.88,675.8 823.30,678.6 823.72,674.6 824.14,676.1 824.56,679.0 824.98,681.2 825.40,678.3 825.82,677.9 826.24,679.9 826.66,680.4 827.08,676.9 827.50,687.0 827.92,678.6 828.34,676.6 828.76,680.0 829.18,681.2 829.60,680.2 830.02,678.9 830.44,680.4 830.86,681.9 831.28,679.0 831.70,678.4 832.12,681.0 832.54,681.0 832.96,677.7 833.38,686.7 833.80,683.1 834.22,684.8 834.64,683.3 835.06,676.9 835.48,685.8 835.90,676.5 836.32,678.1 836.74,681.2 837.16,678.9 837.58,682.2 838.00,682.7 838.42,680.2 838.84,684.7 839.26,676.5 839.68,681.7 840.10,682.2 840.52,685.2 840.94,682.5 841.36,676.2 841.78,681.7 842.20,679.3 842.62,680.6 843.04,681.5 843.46,683.3 843.88,679.1 844.30,681.4 844.72,682.9 845.14,682.4 845.56,682.5 845.98,676.4 846.40,681.4 846.82,683.1 847.24,679.4 847.66,681.6 848.08,679.6 848.50,682.3 848.92,681.5 849.34,678.6 849.76,682.2 850.18,682.1 850.60,677.7 851.02,680.5 851.44,680.4 851.86,678.1 852.28,684.0 852.70,679.7 853.12,681.8 853.54,676.4 853.96,681.4 854.38,678.5 854.80,682.9 855.22,681.3 855.64,684.5 856.06,686.4 856.48,677.9 856.90,682.6 857.32,682.1 857.74,681.2 858.16,680.6 858.58,682.5 859.00,684.2 859.42,684.5 859.84,685.7 860.26,683.1 860.68,685.9 861.10,685.1 861.52,686.1 861.94,686.1 862.36,685.4 862.78,686.2 863.20,682.4 863.62,679.1 864.04,681.1 864.46,685.4 864.88,684.4 865.30,683.2 865.72,687.8 866.14,686.5 866.56,688.7 866.98,682.1 867.40,683.7 867.82,686.0 868.24,687.3 868.66,688.7 869.08,686.1 869.50,689.1 869.92,688.5 870.34,685.9 870.76,689.0 871.18,686.6 871.60,686.8 872.02,683.1 872.44,683.7 872.86,684.0 873.28,686.5 873.70,683.0 874.12,681.4 874.54,685.4 874.96,692.1 875.38,686.1 875.80,683.4 876.22,685.0 876.64,687.3 877.06,688.6 877.48,687.0 877.90,690.4 878.32,688.1 878.74,683.8 879.16,689.1 879.58,684.8 880.00,689.2 880.42,686.9 880.84,681.4 881.26,681.7 881.68,686.0 882.10,686.9 882.52,689.3 882.94,688.0 883.36,690.3 883.78,688.5 884.20,686.9 884.62,684.3 885.04,690.2 885.46,689.5 885.88,689.3 886.30,685.0 886.72,689.6 887.14,682.4 887.56,688.4 887.98,687.1 888.40,687.1 888.82,679.9 889.24,692.0 889.66,684.4 890.08,685.1 890.50,686.1 890.92,685.6 891.34,682.5 891.76,688.9 892.18,686.7 892.60,687.7 893.02,683.5 893.44,688.2 893.86,687.5 894.28,691.0 894.70,685.9 895.12,682.7 895.54,687.8 895.96,688.6 896.38,690.6 896.80,689.7 897.22,685.8 897.64,688.1 898.06,685.2 898.48,689.4 898.90,694.7 899.32,685.5 899.74,684.6 900.16,684.6 900.58,687.3 901.00,689.1 901.42,687.4 901.84,683.5 902.26,688.6 902.68,689.6 903.10,691.5 903.52,689.3 903.94,684.1 904.36,690.4 904.78,687.2 905.20,684.7 905.62,687.9 906.04,688.5 906.46,689.0 906.88,686.2 907.30,687.2 907.72,688.4 908.14,689.2 908.56,689.6 908.98,685.4 909.40,691.1 909.82,685.3 910.24,689.5 910.66,688.7 911.08,682.0 911.50,686.9 911.92,688.7 912.34,689.7 912.76,688.6 913.18,690.2 913.60,689.0 914.02,688.6 914.44,691.5 914.86,698.7 915.28,688.5 915.70,688.9 916.12,691.0 916.54,688.0 916.96,692.0 917.38,689.9 917.80,694.5 918.22,687.5 918.64,690.5 919.06,688.0 919.48,691.3 919.90,688.7 920.32,687.4 920.74,688.4 921.16,688.9 921.58,690.9 922.00,688.4 922.42,692.3 922.84,690.2 923.26,690.3 923.68,690.1 924.10,691.0 924.52,695.1 924.94,688.9 925.36,691.2 925.78,691.7 926.20,692.4 926.62,690.0 927.04,686.0 927.46,693.1 927.88,693.1 928.30,693.8 928.72,693.0 929.14,689.3 929.56,695.0 929.98,691.2 930.40,693.0 930.82,696.9 931.24,695.0 931.66,690.2 932.08,692.5 932.50,695.6 932.92,694.5 933.34,692.1 933.76,689.1 934.18,690.2 934.60,691.5 935.02,692.7 935.44,695.3 935.86,694.9 936.28,688.2 936.70,691.1 937.12,690.1 937.54,690.6 937.96,693.4 938.38,692.0 938.80,689.5 939.22,695.7 939.64,690.5 940.06,689.5 940.48,690.9 940.90,696.5 941.32,694.0 941.74,690.6 942.16,692.9 942.58,689.9 943.00,694.4 943.42,693.0 943.84,686.7 944.26,692.6 944.68,694.9 945.10,688.7 945.52,692.2 945.94,691.0 946.36,693.3 946.78,688.7 947.20,694.3 947.62,691.5 948.04,695.5 948.46,694.1 948.88,691.4 949.30,689.5 949.72,690.7 950.14,695.5 950.56,694.6 950.98,693.2 951.40,693.4 951.82,692.2 952.24,690.9 952.66,691.8 953.08,691.7 953.50,690.8 953.92,693.2 954.34,697.6 954.76,688.3 955.18,694.1 955.60,692.8 956.02,690.0 956.44,693.7 956.86,698.1 957.28,689.6 957.70,693.3 958.12,690.2 958.54,695.6 958.96,694.4 959.38,693.4 959.80,692.7 960.22,695.3 960.64,695.6 961.06,690.9 961.48,689.6 961.90,692.8 962.32,695.4 962.74,693.0 963.16,697.3 963.58,693.5 964.00,692.5 964.42,694.4 964.84,690.5 965.26,691.4 965.68,692.6 966.10,692.2 966.52,697.5 966.94,696.0 967.36,694.4 967.78,692.9 968.20,696.3 968.62,696.6 969.04,693.1 969.46,690.6 969.88,694.7 970.30,693.3 970.72,692.8 971.14,693.8 971.56,696.1 971.98,693.4 972.40,693.6 972.82,692.7 973.24,692.2 973.66,691.6 974.08,695.5 974.50,694.2 974.92,693.0 975.34,693.3 975.76,694.9 976.18,695.5 976.60,694.3 977.02,694.5 977.44,695.3 977.86,692.3 978.28,690.7 978.70,699.0 979.12,695.6 979.54,697.5 979.96,692.0 980.38,694.7 980.80,697.6 981.22,698.1 981.64,695.3 982.06,697.0 982.48,695.0 982.90,692.3 983.32,691.8 983.74,691.0 984.16,693.0 984.58,697.0 985.00,693.8 985.42,699.1 985.84,697.2 986.26,696.6 986.68,692.6 987.10,694.4 987.52,696.6 987.94,692.9 988.36,696.8 988.78,697.5 989.20,696.1 989.62,691.7 990.04,695.7 990.46,692.2 990.88,698.4 991.30,693.6 991.72,693.8 992.14,695.2 992.56,693.8 992.98,697.1 993.40,695.9 993.82,699.5 994.24,691.7 994.66,695.3 995.08,696.0 995.50,694.9 995.92,692.4 996.34,692.5 996.76,696.2 997.18,693.7 997.60,691.1 998.02,692.4 998.44,695.9 998.86,696.6 999.28,695.2 999.70,697.0 1000.12,695.7 1000.54,696.1 1000.96,692.6 1001.38,693.9 1001.80,697.5 1002.22,696.3 1002.64,697.1 1003.06,698.1 1003.48,690.2 1003.90,697.3 1004.32,697.5 1004.74,696.2 1005.16,696.6 1005.58,693.3 1006.00,697.4 1006.42,697.2 1006.84,696.6 1007.26,697.8 1007.68,699.6 1008.10,696.7 1008.52,695.3 1008.94,696.5 1009.36,699.4 1009.78,698.2 1010.20,696.2 1010.62,696.4 1011.04,697.3 1011.46,693.9 1011.88,694.5 1012.30,697.6 1012.72,697.4 1013.14,695.6 1013.56,696.3 1013.98,695.9 1014.40,699.6 1014.82,696.1 1015.24,697.0 1015.66,696.1 1016.08,694.2 1016.50,691.7 1016.92,695.1 1017.34,702.5 1017.76,695.4 1018.18,698.0 1018.60,697.2 1019.02,700.1 1019.44,695.5 1019.86,693.8 1020.28,692.0 1020.70,700.0 1021.12,698.7 1021.54,691.8 1021.96,697.6 1022.38,695.2 1022.80,697.0 1023.22,695.5 1023.64,697.8 1024.06,701.0 1024.48,698.0 1024.90,698.3 1025.32,698.1 1025.74,697.0 1026.16,696.9 1026.58,699.7 1027.00,701.0 1027.42,699.2 1027.84,697.8 1028.26,699.3 1028.68,699.8 1029.10,698.2 1029.52,696.2 1029.94,699.6 1030.36,695.1 1030.78,699.3 1031.20,696.1 1031.62,696.0 1032.04,697.7 1032.46,696.3 1032.88,698.1 1033.30,698.8 1033.72,697.8 1034.14,699.1 1034.56,701.1 1034.98,698.5 1035.40,697.7 1035.82,699.3 1036.24,699.3 1036.66,695.5 1037.08,698.2 1037.50,696.3 1037.92,701.6 1038.34,696.4 1038.76,697.4 1039.18,698.9 1039.60,693.6 1040.02,694.6 1040.44,697.4 1040.86,698.2 1041.28,695.6 1041.70,698.7 1042.12,699.7 1042.54,699.8 1042.96,702.1 1043.38,700.3 1043.80,698.3 1044.22,701.8 1044.64,701.4 1045.06,698.4 1045.48,697.5 1045.90,700.3 1046.32,700.3 1046.74,702.6 1047.16,700.0 1047.58,701.8 1048.00,702.2 1048.42,700.3 1048.84,701.3 1049.26,696.6 1049.68,697.6 1050.10,699.7 1050.52,699.0 1050.94,699.3 1051.36,700.0 1051.78,696.8 1052.20,702.3 1052.62,700.6 1053.04,701.3 1053.46,695.5 1053.88,697.3 1054.30,695.8 1054.72,697.1 1055.14,699.8 1055.56,700.1 1055.98,701.6 1056.40,697.7 1056.82,701.4 1057.24,697.6 1057.66,700.5 1058.08,701.6 1058.50,697.0 1058.92,698.5 1059.34,700.4 1059.76,700.6 1060.18,696.7 1060.60,695.7 1061.02,696.4 1061.44,700.3 1061.86,700.6 1062.28,699.7 1062.70,700.8 1063.12,700.8 1063.54,699.7 1063.96,702.1 1064.38,694.8 1064.80,696.0 1065.22,696.4 1065.64,699.6 1066.06,694.4 1066.48,702.8 1066.90,702.3 1067.32,702.4 1067.74,695.0 1068.16,700.1 1068.58,699.1 1069.00,701.9 1069.42,698.4 1069.84,699.3 1070.26,695.7 1070.68,700.9 1071.10,702.4 1071.52,699.1 1071.94,694.0 1072.36,697.3 1072.78,696.0 1073.20,699.5 1073.62,698.0 1074.04,700.2 1074.46,699.9 1074.88,699.7 1075.30,701.3 1075.72,696.3 1076.14,701.4 1076.56,697.9 1076.98,696.7 1077.40,700.8 1077.82,700.1 1078.24,701.2 1078.66,701.7 1079.08,698.2 1079.50,700.8 1079.92,696.0 1080.34,699.1 1080.76,698.1 1081.18,696.8 1081.60,695.3 1082.02,699.7 1082.44,694.9 1082.86,697.5 1083.28,702.5 1083.70,702.4 1084.12,699.9 1084.54,698.0 1084.96,702.5 1085.38,698.5 1085.80,699.3 1086.22,700.3 1086.64,696.4 1087.06,695.0 1087.48,694.4 1087.90,695.4 1088.32,696.0 1088.74,697.7 1089.16,700.3 1089.58,698.0 1090.00,697.0 1090.42,700.1 1090.84,696.4 1091.26,701.3 1091.68,699.8 1092.10,702.0 1092.52,699.9 1092.94,699.4 1093.36,700.2 1093.78,700.1 1094.20,700.5 1094.62,699.7 1095.04,701.2 1095.46,697.5 1095.88,702.0 1096.30,698.2 1096.72,704.0 1097.14,697.5 1097.56,699.2 1097.98,704.2 1098.40,701.7 1098.82,697.5 1099.24,701.8 1099.66,699.4 1100.08,697.2 1100.50,703.1 1100.92,700.0 1101.34,704.3 1101.76,699.3 1102.18,700.0 1102.60,702.2 1103.02,698.2 1103.44,699.7 1103.86,695.4 1104.28,701.9 1104.70,702.9 1105.12,702.2 1105.54,700.0 1105.96,697.1 1106.38,703.2 1106.80,698.4 1107.22,699.5 1107.64,703.4 1108.06,701.4 1108.48,701.5 1108.90,704.9 1109.32,699.3 1109.74,702.0 1110.16,697.3 1110.58,699.4 1111.00,699.4 1111.42,700.1 1111.84,699.9 1112.26,696.0 1112.68,697.8 1113.10,701.1 1113.52,696.7 1113.94,702.1 1114.36,702.8 1114.78,696.2 1115.20,696.5 1115.62,703.7 1116.04,701.8 1116.46,698.0 1116.88,698.2 1117.30,698.7 1117.72,700.2 1118.14,696.7 1118.56,702.7 1118.98,697.6 1119.40,698.1 1119.82,700.1 1120.24,701.6 1120.66,699.6 1121.08,700.1 1121.50,703.1 1121.92,699.7 1122.34,699.5 1122.76,701.8 1123.18,701.1 1123.60,699.6 1124.02,698.5 1124.44,701.1 1124.86,701.0 1125.28,701.5 1125.70,698.5 1126.12,696.3 1126.54,697.0 1126.96,704.9 1127.38,698.7 1127.80,698.2 1128.22,698.7 1128.64,696.6 1129.06,697.4 1129.48,701.3 1129.90,701.9 1130.32,697.6 1130.74,699.3 1131.16,699.0 1131.58,700.3 1132.00,698.8 1132.42,698.9 1132.84,698.5 1133.26,698.3 1133.68,697.2 1134.10,700.2 1134.52,701.0 1134.94,696.2 1135.36,700.9 1135.78,697.7 1136.20,701.3 1136.62,700.5 1137.04,694.0 1137.46,695.5 1137.88,699.6 1138.30,700.3 1138.72,699.7 1139.14,697.6 1139.56,700.2 1139.98,694.3 1140.40,701.5 1140.82,700.3 1141.24,698.4 1141.66,701.1 1142.08,696.5 1142.50,700.5 1142.92,700.8 1143.34,699.1 1143.76,700.7 1144.18,698.5 1144.60,703.5 1145.02,694.4 1145.44,699.2 1145.86,700.5 1146.28,701.6 1146.70,703.3 1147.12,699.6 1147.54,698.3 1147.96,700.1 1148.38,698.8 1148.80,700.1 1149.22,698.7 1149.64,696.1 1150.06,702.7 1150.48,697.7 1150.90,701.7 1151.32,702.3 1151.74,699.7 1152.16,702.9 1152.58,697.6 1153.00,698.8 1153.42,700.7 1153.84,702.8 1154.26,698.9 1154.68,698.5 1155.10,701.7 1155.52,702.3 1155.94,698.3 1156.36,703.1 1156.78,704.8"/>
<polyline fill="none" stroke="#000000" stroke-width="4.0" stroke-linejoin="round" shape-rendering="crispEdges" points="103.00,534.5 103.42,542.7 103.84,554.2 104.26,554.4 104.68,562.0 105.10,566.0 105.52,558.8 105.94,571.8 106.36,566.9 106.78,580.4 107.20,576.2 107.62,572.3 108.04,576.9 108.46,578.2 108.88,579.8 109.30,585.3 109.72,582.7 110.14,588.4 110.56,584.9 110.98,582.4 111.40,577.5 111.82,578.1 112.24,586.2 112.66,588.8 113.08,592.5 113.50,584.5 113.92,587.8 114.34,584.5 114.76,586.4 115.18,579.0 115.60,591.8 116.02,586.0 116.44,588.9 116.86,591.3 117.28,591.0 117.70,584.3 118.12,596.2 118.54,593.2 118.96,592.3 119.38,587.7 119.80,584.0 120.22,584.1 120.64,590.1 121.06,591.9 121.48,588.6 121.90,599.3 122.32,593.3 122.74,596.5 123.16,596.5 123.58,588.7 124.00,597.6 124.42,595.8 124.84,589.1 125.26,597.7 125.68,599.6 126.10,599.6 126.52,600.3 126.94,590.7 127.36,595.8 127.78,595.0 128.20,597.8 128.62,598.3 129.04,602.8 129.46,601.5 129.88,595.4 130.30,602.7 130.72,605.9 131.14,600.8 131.56,593.7 131.98,597.5 132.40,599.6 132.82,594.0 133.24,600.3 133.66,595.9 134.08,604.5 134.50,604.3 134.92,601.4 135.34,596.9 135.76,603.3 136.18,599.8 136.60,599.8 137.02,607.3 137.44,600.0 137.86,597.7 138.28,606.6 138.70,610.8 139.12,610.3 139.54,607.2 139.96,612.7 140.38,603.1 140.80,613.4 141.22,613.3 141.64,603.8 142.06,607.0 142.48,600.5 142.90,601.7 143.32,608.3 143.74,601.6 144.16,607.4 144.58,608.6 145.00,607.6 145.42,611.2 145.84,615.3 146.26,608.6 146.68,612.1 147.10,614.3 147.52,606.9 147.94,606.3 148.36,599.6 148.78,611.2 149.20,614.0 149.62,611.8 150.04,618.6 150.46,616.6 150.88,614.1 151.30,611.0 151.72,607.9 152.14,612.1 152.56,613.8 152.98,611.8 153.40,611.1 153.82,611.0 154.24,615.5 154.66,606.2 155.08,611.9 155.50,613.6 155.92,616.2 156.34,616.4 156.76,612.9 157.18,611.6 157.60,609.5 158.02,618.7 158.44,616.5 158.86,615.2 159.28,611.6 159.70,610.1 160.12,619.2 160.54,614.7 160.96,616.7 161.38,622.0 161.80,609.0 162.22,612.1 162.64,616.6 163.06,617.7 163.48,611.3 163.90,615.1 164.32,613.2 164.74,613.3 165.16,617.2 165.58,616.5 166.00,620.4 166.42,618.2 166.84,621.8 167.26,612.8 167.68,617.6 168.10,610.5 168.52,609.6 168.94,610.7 169.36,618.9 169.78,616.9 170.20,609.8 170.62,621.3 171.04,620.0 171.46,615.5 171.88,615.3 172.30,616.2 172.72,611.4 173.14,625.4 173.56,614.4 173.98,615.4 174.40,614.9 174.82,613.6 175.24,612.6 175.66,617.5 176.08,611.4 176.50,612.1 176.92,613.0 177.34,619.3 177.76,612.3 178.18,612.3 178.60,617.4 179.02,611.7 179.44,614.9 179.86,619.6 180.28,617.8 180.70,616.3 181.12,622.1 181.54,614.5 181.96,613.8 182.38,609.3 182.80,616.3 183.22,618.6 183.64,613.5 184.06,623.5 184.48,620.1 184.90,619.8 185.32,611.4 185.74,617.3 186.16,617.6 186.58,608.2 187.00,616.1 187.42,615.2 187.84,609.4 188.26,618.2 188.68,624.3 189.10,619.3 189.52,613.2 189.94,615.6 190.36,621.1 190.78,613.6 191.20,618.3 191.62,617.2 192.04,617.9 192.46,623.8 192.88,611.6 193.30,622.2 193.72,618.9 194.14,617.6 194.56,611.7 194.98,619.5 195.40,616.9 195.82,607.2 196.24,613.4 196.66,614.2 197.08,615.1 197.50,616.8 197.92,616.0 198.34,625.4 198.76,623.6 199.18,619.2 199.60,625.0 200.02,628.0 200.44,621.6 200.86,614.7 201.28,621.2 201.70,625.3 202.12,615.9 202.54,619.7 202.96,623.4 203.38,624.3 203.80,622.9 204.22,621.0 204.64,619.0 205.06,617.3 205.48,623.3 205.90,622.9 206.32,617.4 206.74,616.5 207.16,624.0 207.58,622.9 208.00,615.9 208.42,612.4 208.84,619.2 209.26,621.8 209.68,622.2 210.10,621.6 210.52,612.3 210.94,618.4 211.36,616.6 211.78,615.1 212.20,628.1 212.62,617.7 213.04,618.6 213.46,616.4 213.88,620.1 214.30,621.9 214.72,616.1 215.14,617.0 215.56,615.3 215.98,612.9 216.40,616.1 216.82,618.1 217.24,616.7 217.66,615.6 218.08,609.1 218.50,617.6 218.92,616.9 219.34,622.1 219.76,613.5 220.18,610.5 220.60,608.2 221.02,613.1 221.44,615.3 221.86,616.4 222.28,609.1 222.70,613.0 223.12,619.1 223.54,615.3 223.96,613.6 224.38,613.3 224.80,608.5 225.22,609.1 225.64,612.4 226.06,619.1 226.48,618.7 226.90,613.5 227.32,616.4 227.74,615.5 228.16,618.3 228.58,610.9 229.00,614.6 229.42,617.2 229.84,608.4 230.26,612.9 230.68,614.1 231.10,614.6 231.52,614.9 231.94,615.1 232.36,616.6 232.78,618.0 233.20,614.0 233.62,621.0 234.04,610.4 234.46,611.4 234.88,613.4 235.30,608.9 235.72,606.1 236.14,606.6 236.56,616.2 236.98,609.0 237.40,606.2 237.82,618.8 238.24,612.7 238.66,611.9 239.08,607.2 239.50,611.9 239.92,608.7 240.34,611.5 240.76,610.3 241.18,609.4 241.60,611.0 242.02,606.4 242.44,608.2 242.86,606.5 243.28,611.0 243.70,612.1 244.12,612.4 244.54,601.4 244.96,615.7 245.38,607.7 245.80,607.9 246.22,608.0 246.64,607.7 247.06,612.6 247.48,607.9 247.90,608.3 248.32,610.6 248.74,611.7 249.16,602.2 249.58,601.0 250.00,597.9 250.42,597.6 250.84,606.1 251.26,604.9 251.68,604.0 252.10,605.1 252.52,604.6 252.94,607.8 253.36,609.5 253.78,599.1 254.20,607.9 254.62,605.8 255.04,597.9 255.46,601.5 255.88,598.7 256.30,593.2 256.72,599.8 257.14,592.7 257.56,599.1 257.98,594.3 258.40,596.8 258.82,601.1 259.24,597.9 259.66,593.8 260.08,597.6 260.50,599.2 260.92,599.9 261.34,592.3 261.76,599.9 262.18,594.2 262.60,592.3 263.02,599.0 263.44,596.4 263.86,596.3 264.28,593.7 264.70,585.4 265.12,594.3 265.54,594.4 265.96,591.2 266.38,598.3 266.80,591.5 267.22,597.6 267.64,595.1 268.06,587.1 268.48,586.1 268.90,587.8 269.32,588.5 269.74,591.2 270.16,585.5 270.58,583.2 271.00,596.1 271.42,586.9 271.84,587.6 272.26,593.3 272.68,586.0 273.10,575.5 273.52,586.7 273.94,581.7 274.36,588.0 274.78,575.8 275.20,583.7 275.62,585.8 276.04,587.8 276.46,585.4 276.88,584.8 277.30,580.3 277.72,579.7 278.14,575.1 278.56,582.9 278.98,584.9 279.40,580.5 279.82,573.8 280.24,571.1 280.66,574.5 281.08,583.0 281.50,576.6 281.92,571.4 282.34,573.7 282.76,578.3 283.18,571.7 283.60,572.1 284.02,571.5 284.44,569.7 284.86,581.4 285.28,569.3 285.70,573.6 286.12,577.1 286.54,571.2 286.96,569.6 287.38,570.3 287.80,570.6 288.22,569.4 288.64,568.0 289.06,567.9 289.48,569.7 289.90,576.4 290.32,566.7 290.74,571.5 291.16,566.9 291.58,563.1 292.00,561.9 292.42,567.8 292.84,560.4 293.26,567.4 293.68,563.6 294.10,571.9 294.52,559.5 294.94,568.3 295.36,569.0 295.78,566.0 296.20,559.6 296.62,562.8 297.04,561.4 297.46,559.5 297.88,563.5 298.30,558.7 298.72,559.5 299.14,562.6 299.56,556.8 299.98,555.0 300.40,556.8 300.82,553.1 301.24,544.3 301.66,551.6 302.08,552.4 302.50,547.3 302.92,543.5 303.34,553.2 303.76,547.6 304.18,552.7 304.60,551.4 305.02,555.6 305.44,550.9 305.86,552.0 306.28,553.6 306.70,545.6 307.12,551.7 307.54,551.7 307.96,537.9 308.38,540.8 308.80,545.9 309.22,552.6 309.64,543.1 310.06,538.5 310.48,536.9 310.90,545.1 311.32,544.4 311.74,540.3 312.16,544.3 312.58,541.0 313.00,547.6 313.42,535.9 313.84,539.8 314.26,546.8 314.68,538.7 315.10,537.4 315.52,539.8 315.94,549.3 316.36,542.0 316.78,547.0 317.20,536.3 317.62,539.5 318.04,543.5 318.46,541.5 318.88,538.0 319.30,530.3 319.72,542.8 320.14,543.8 320.56,542.5 320.98,532.6 321.40,533.9 321.82,537.6 322.24,535.6 322.66,545.0 323.08,535.3 323.50,538.7 323.92,535.2 324.34,532.3 324.76,544.7 325.18,540.9 325.60,537.0 326.02,540.2 326.44,530.2 326.86,547.2 327.28,535.3 327.70,531.2 328.12,535.1 328.54,540.8 328.96,539.8 329.38,542.7 329.80,542.8 330.22,539.8 330.64,544.3 331.06,531.3 331.48,541.7 331.90,541.7 332.32,541.2 332.74,539.0 333.16,537.4 333.58,537.1 334.00,532.2 334.42,537.8 334.84,545.0 335.26,546.8 335.68,538.2 336.10,538.0 336.52,538.3 336.94,540.1 337.36,540.8 337.78,543.1 338.20,547.6 338.62,532.1 339.04,536.6 339.46,539.5 339.88,541.5 340.30,543.8 340.72,550.3 341.14,538.2 341.56,545.5 341.98,542.4 342.40,543.3 342.82,544.5 343.24,547.1 343.66,543.9 344.08,538.5 344.50,545.6 344.92,545.8 345.34,536.6 345.76,545.6 346.18,543.4 346.60,543.0 347.02,544.2 347.44,551.7 347.86,536.4 348.28,544.7 348.70,535.5 349.12,544.0 349.54,548.1 349.96,535.8 350.38,549.1 350.80,546.0 351.22,543.2 351.64,542.7 352.06,543.2 352.48,543.2 352.90,542.4 353.32,547.0 353.74,545.4 354.16,537.3 354.58,545.7 355.00,548.7 355.42,547.2 355.84,540.7 356.26,531.7 356.68,536.1 357.10,537.3 357.52,536.8 357.94,529.8 358.36,538.5 358.78,539.0 359.20,527.9 359.62,529.7 360.04,527.7 360.46,531.7 360.88,536.1 361.30,520.5 361.72,536.8 362.14,533.5 362.56,522.5 362.98,535.8 363.40,533.5 363.82,530.3 364.24,529.1 364.66,523.0 365.08,529.2 365.50,522.5 365.92,526.1 366.34,529.8 366.76,522.0 367.18,519.1 367.60,522.8 368.02,524.1 368.44,525.1 368.86,521.0 369.28,530.1 369.70,532.4 370.12,523.9 370.54,528.9 370.96,518.3 371.38,526.3 371.80,522.5 372.22,528.4 372.64,525.2 373.06,517.6 373.48,531.7 373.90,524.4 374.32,535.0 374.74,536.5 375.16,532.8 375.58,529.9 376.00,531.6 376.42,524.1 376.84,531.2 377.26,535.5 377.68,534.4 378.10,526.5 378.52,538.5 378.94,534.0 379.36,527.5 379.78,534.3 380.20,528.5 380.62,532.6 381.04,538.3 381.46,550.6 381.88,557.8 382.30,544.1 382.72,554.3 383.14,556.6 383.56,561.7 383.98,561.4 384.40,558.2 384.82,563.1 385.24,559.7 385.66,559.7 386.08,566.4 386.50,565.4 386.92,562.5 387.34,568.4 387.76,564.1 388.18,562.7 388.60,565.7 389.02,569.0 389.44,563.8 389.86,572.7 390.28,565.5 390.70,567.9 391.12,570.1 391.54,566.7 391.96,564.0 392.38,565.9 392.80,570.9 393.22,572.3 393.64,569.6 394.06,565.0 394.48,562.9 394.90,564.7 395.32,565.4 395.74,568.6 396.16,567.9 396.58,565.1 397.00,571.9 397.42,566.3 397.84,570.3 398.26,567.3 398.68,575.6 399.10,573.4 399.52,573.1 399.94,577.5 400.36,577.4 400.78,568.3 401.20,575.0 401.62,570.1 402.04,572.3 402.46,573.2 402.88,569.2 403.30,570.3 403.72,576.1 404.14,576.4 404.56,578.4 404.98,575.8 405.40,574.9 405.82,575.5 406.24,575.7 406.66,574.0 407.08,577.9 407.50,573.9 407.92,573.8 408.34,572.1 408.76,579.2 409.18,576.2 409.60,578.4 410.02,580.3 410.44,576.6 410.86,581.5 411.28,581.4 411.70,581.5 412.12,574.3 412.54,586.8 412.96,585.2 413.38,585.9 413.80,591.0 414.22,580.2 414.64,592.9 415.06,584.7 415.48,589.8 415.90,591.5 416.32,583.1 416.74,589.0 417.16,586.1 417.58,590.8 418.00,583.6 418.42,596.9 418.84,592.3 419.26,590.1 419.68,588.0 420.10,597.2 420.52,590.1 420.94,595.7 421.36,588.1 421.78,595.4 422.20,586.0 422.62,595.2 423.04,590.1 423.46,590.3 423.88,598.3 424.30,597.7 424.72,592.7 425.14,592.4 425.56,599.9 425.98,589.8 426.40,595.0 426.82,593.4 427.24,596.6 427.66,596.5 428.08,596.3 428.50,592.4 428.92,598.5 429.34,599.6 429.76,596.2 430.18,605.0 430.60,596.7 431.02,598.7 431.44,606.7 431.86,598.1 432.28,599.0 432.70,593.9 433.12,600.1 433.54,598.6 433.96,601.8 434.38,596.6 434.80,605.9 435.22,603.5 435.64,605.3 436.06,600.7 436.48,595.5 436.90,604.1 437.32,603.0 437.74,601.5 438.16,610.1 438.58,605.2 439.00,605.0 439.42,606.5 439.84,606.4 440.26,607.1 440.68,608.9 441.10,606.6 441.52,604.8 441.94,603.7 442.36,608.1 442.78,609.4 443.20,610.9 443.62,605.1 444.04,602.8 444.46,603.4 444.88,614.9 445.30,612.0 445.72,609.9 446.14,609.2 446.56,619.1 446.98,614.1 447.40,614.1 447.82,609.7 448.24,616.6 448.66,610.9 449.08,609.9 449.50,618.4 449.92,614.8 450.34,616.5 450.76,608.6 451.18,613.1 451.60,611.6 452.02,616.0 452.44,615.2 452.86,615.8 453.28,613.3 453.70,621.9 454.12,612.0 454.54,619.0 454.96,617.4 455.38,621.8 455.80,614.6 456.22,622.5 456.64,615.9 457.06,620.3 457.48,619.0 457.90,629.0 458.32,615.5 458.74,618.2 459.16,614.2 459.58,617.5 460.00,621.0 460.42,620.6 460.84,619.2 461.26,620.1 461.68,622.2 462.10,623.8 462.52,629.9 462.94,625.5 463.36,624.2 463.78,623.4 464.20,627.6 464.62,630.3 465.04,624.8 465.46,629.7 465.88,628.5 466.30,619.1 466.72,634.5 467.14,631.2 467.56,623.0 467.98,621.3 468.40,629.6 468.82,627.4 469.24,631.5 469.66,628.6 470.08,635.0 470.50,628.7 470.92,632.7 471.34,634.0 471.76,630.9 472.18,635.6 472.60,633.1 473.02,633.0 473.44,632.6 473.86,625.0 474.28,630.3 474.70,641.0 475.12,633.3 475.54,632.0 475.96,634.5 476.38,634.7 476.80,643.3 477.22,632.0 477.64,633.7 478.06,638.8 478.48,630.2 478.90,631.0 479.32,632.5 479.74,634.8 480.16,641.2 480.58,642.5 481.00,639.7 481.42,645.2 481.84,631.4 482.26,642.2 482.68,636.0 483.10,640.4 483.52,637.8 483.94,633.8 484.36,643.3 484.78,644.5 485.20,640.4 485.62,636.6 486.04,647.1 486.46,631.5 486.88,640.8 487.30,637.0 487.72,637.8 488.14,644.0 488.56,639.1 488.98,644.4 489.40,641.9 489.82,646.2 490.24,644.8 490.66,644.6 491.08,641.8 491.50,641.7 491.92,638.6 492.34,643.9 492.76,645.1 493.18,640.3 493.60,644.3 494.02,640.4 494.44,643.3 494.86,639.8 495.28,643.9 495.70,648.0 496.12,645.4 496.54,638.5 496.96,647.3 497.38,644.0 497.80,650.0 498.22,648.2 498.64,648.4 499.06,645.2 499.48,647.1 499.90,644.2 500.32,647.4 500.74,650.1 501.16,642.4 501.58,646.8 502.00,650.8 502.42,644.9 502.84,648.2 503.26,650.7 503.68,650.4 504.10,651.6 504.52,652.4 504.94,654.2 505.36,649.2 505.78,652.2 506.20,652.1 506.62,646.8 507.04,649.7 507.46,653.8 507.88,652.7 508.30,654.1 508.72,651.8 509.14,651.9 509.56,655.5 509.98,645.6 510.40,646.8 510.82,652.8 511.24,653.8 511.66,655.3 512.08,655.5 512.50,654.0 512.92,649.5 513.34,655.4 513.76,654.5 514.18,650.5 514.60,648.3 515.02,652.7 515.44,656.7 515.86,654.6 516.28,658.6 516.70,653.6 517.12,652.5 517.54,653.1 517.96,655.5 518.38,656.4 518.80,658.7 519.22,655.4 519.64,652.0 520.06,653.4 520.48,657.2 520.90,656.1 521.32,657.3 521.74,654.9 522.16,655.7 522.58,655.7 523.00,655.5 523.42,658.3 523.84,663.6 524.26,658.2 524.68,658.9 525.10,652.2 525.52,660.5 525.94,658.2 526.36,663.7 526.78,661.3 527.20,664.5 527.62,656.8 528.04,662.6 528.46,663.5 528.88,659.5 529.30,664.9 529.72,656.7 530.14,662.3 530.56,660.3 530.98,664.7 531.40,655.7 531.82,665.4 532.24,668.3 532.66,659.6 533.08,666.3 533.50,660.6 533.92,666.7 534.34,667.8 534.76,660.4 535.18,670.0 535.60,664.5 536.02,665.3 536.44,667.9 536.86,668.8 537.28,666.1 537.70,668.4 538.12,668.7 538.54,663.2 538.96,668.1 539.38,668.2 539.80,667.8 540.22,670.3 540.64,666.7 541.06,662.9 541.48,671.0 541.90,670.5 542.32,669.6 542.74,668.3 543.16,677.4 543.58,670.8 544.00,667.4 544.42,672.1 544.84,673.1 545.26,667.2 545.68,674.0 546.10,665.5 546.52,671.1 546.94,675.5 547.36,676.6 547.78,674.4 548.20,676.0 548.62,671.0 549.04,674.2 549.46,676.3 549.88,668.7 550.30,675.4 550.72,676.6 551.14,678.3 551.56,677.4 551.98,678.3 552.40,677.9 552.82,672.5 553.24,672.6 553.66,673.7 554.08,671.8 554.50,678.4 554.92,681.4 555.34,680.3 555.76,676.9 556.18,679.7 556.60,676.6 557.02,678.0 557.44,680.2 557.86,673.4 558.28,674.9 558.70,678.2 559.12,686.4 559.54,679.2 559.96,679.8 560.38,681.9 560.80,676.0 561.22,670.9 561.64,674.1 562.06,674.6 562.48,683.5 562.90,677.2 563.32,677.3 563.74,677.5 564.16,677.5 564.58,678.2 565.00,678.7 565.42,682.4 565.84,679.4 566.26,674.4 566.68,681.7 567.10,680.9 567.52,678.4 567.94,680.4 568.36,677.9 568.78,687.2 569.20,683.8 569.62,681.5 570.04,678.2 570.46,683.0 570.88,683.1 571.30,681.6 571.72,680.8 572.14,688.1 572.56,681.0 572.98,685.2 573.40,686.4 573.82,679.5 574.24,683.8 574.66,686.4 575.08,683.8 575.50,679.3 575.92,686.0 576.34,690.5 576.76,686.0 577.18,685.8 577.60,682.7 578.02,684.7 578.44,686.9 578.86,681.6 579.28,683.1 579.70,686.3 580.12,686.3 580.54,686.8 580.96,686.6 581.38,691.3 581.80,686.9 582.22,687.3 582.64,685.3 583.06,685.5 583.48,687.9 583.90,696.1 584.32,692.1 584.74,685.1 585.16,694.0 585.58,689.6 586.00,686.0 586.42,690.9 586.84,687.4 587.26,688.5 587.68,687.8 588.10,690.5 588.52,685.2 588.94,694.3 589.36,696.6 589.78,691.4 590.20,692.3 590.62,693.6 591.04,691.9 591.46,692.0 591.88,695.0 592.30,696.2 592.72,692.2 593.14,695.6 593.56,694.7 593.98,692.2 594.40,693.9 594.82,688.7 595.24,691.1 595.66,695.4 596.08,696.3 596.50,697.9 596.92,699.2 597.34,691.8 597.76,696.1 598.18,690.6 598.60,695.2 599.02,693.9 599.44,697.0 599.86,695.5 600.28,696.1 600.70,694.5 601.12,696.2 601.54,700.2 601.96,698.8 602.38,696.8 602.80,692.1 603.22,691.9 603.64,697.0 604.06,698.3 604.48,699.1 604.90,698.2 605.32,695.5 605.74,692.9 606.16,700.3 606.58,699.7 607.00,701.6 607.42,693.6 607.84,700.3 608.26,700.6 608.68,695.7 609.10,696.1 609.52,696.1 609.94,696.9 610.36,699.1 610.78,698.4 611.20,703.5 611.62,701.0 612.04,698.3 612.46,700.8 612.88,698.3 613.30,694.2 613.72,701.6 614.14,699.3 614.56,704.7 614.98,701.1 615.40,705.5 615.82,704.2 616.24,697.8 616.66,707.0 617.08,701.4 617.50,702.6 617.92,699.8 618.34,701.7 618.76,710.9 619.18,704.2 619.60,694.0 620.02,709.2 620.44,705.1 620.86,703.0 621.28,706.9 621.70,706.3 622.12,703.6 622.54,710.1 622.96,707.6 623.38,709.4 623.80,707.1 624.22,706.6 624.64,707.4 625.06,704.4 625.48,704.9 625.90,710.0 626.32,707.5 626.74,709.6 627.16,708.1 627.58,707.1 628.00,711.5 628.42,707.1 628.84,706.3 629.26,709.1 629.68,712.2 630.10,712.4 630.52,706.7 630.94,707.0 631.36,708.5 631.78,707.4 632.20,710.3 632.62,712.9 633.04,709.9 633.46,706.0 633.88,706.0 634.30,706.7 634.72,710.1 635.14,712.9 635.56,707.3 635.98,712.9 636.40,713.8 636.82,719.0 637.24,709.4 637.66,712.9 638.08,714.8 638.50,714.2 638.92,715.6 639.34,714.5 639.76,715.7 640.18,713.4 640.60,713.8 641.02,709.5 641.44,719.9 641.86,710.8 642.28,715.1 642.70,715.3 643.12,712.8 643.54,710.9 643.96,716.1 644.38,711.0 644.80,718.7 645.22,723.3 645.64,719.9 646.06,709.2 646.48,717.6 646.90,716.8 647.32,716.3 647.74,719.4 648.16,715.8 648.58,718.8 649.00,715.7 649.42,714.9 649.84,719.4 650.26,720.9 650.68,716.6 651.10,722.6 651.52,718.0 651.94,716.2 652.36,716.8 652.78,717.3 653.20,721.0 653.62,721.3 654.04,719.6 654.46,723.3 654.88,717.3 655.30,721.1 655.72,720.8 656.14,714.4 656.56,721.2 656.98,719.2 657.40,724.7 657.82,719.5 658.24,724.6 658.66,722.5 659.08,717.3 659.50,724.4 659.92,723.4 660.34,722.7 660.76,721.4 661.18,727.0 661.60,721.4 662.02,725.4 662.44,724.1 662.86,722.2 663.28,720.9 663.70,723.9 664.12,722.9 664.54,720.2 664.96,724.5 665.38,725.0 665.80,723.9 666.22,719.3 666.64,725.6 667.06,723.4 667.48,726.6 667.90,723.6 668.32,723.0 668.74,724.4 669.16,724.8 669.58,730.8 670.00,722.6 670.42,721.5 670.84,725.1 671.26,725.5 671.68,721.0 672.10,721.5 672.52,723.8 672.94,725.5 673.36,725.5 673.78,728.6 674.20,726.5 674.62,724.8 675.04,726.6 675.46,727.7 675.88,728.6 676.30,719.8 676.72,727.4 677.14,728.2 677.56,731.2 677.98,726.6 678.40,728.0 678.82,723.6 679.24,729.8 679.66,730.5 680.08,725.7 680.50,728.3 680.92,726.9 681.34,730.9 681.76,727.6 682.18,728.8 682.60,729.0 683.02,727.5 683.44,729.0 683.86,732.8 684.28,728.6 684.70,726.8 685.12,731.8 685.54,733.7 685.96,731.3 686.38,729.1 686.80,729.0 687.22,730.7 687.64,731.8 688.06,736.6 688.48,735.3 688.90,726.6 689.32,731.4 689.74,733.1 690.16,731.2 690.58,729.3 691.00,727.9 691.42,731.2 691.84,731.5 692.26,730.6 692.68,727.4 693.10,724.8 693.52,734.1 693.94,727.3 694.36,729.4 694.78,726.4 695.20,732.4 695.62,728.8 696.04,730.2 696.46,736.6 696.88,732.8 697.30,731.0 697.72,725.6 698.14,732.7 698.56,732.8 698.98,733.3 699.40,731.2 699.82,727.1 700.24,729.0 700.66,733.0 701.08,732.8 701.50,732.2 701.92,736.5 702.34,733.6 702.76,731.4 703.18,731.5 703.60,726.4 704.02,729.6 704.44,733.5 704.86,726.6 705.28,732.0 705.70,733.7 706.12,730.5 706.54,733.0 706.96,729.0 707.38,736.1 707.80,730.7 708.22,726.0 708.64,733.0 709.06,730.7 709.48,736.3 709.90,733.9 710.32,731.3 710.74,736.3 711.16,731.5 711.58,729.1 712.00,735.5 712.42,736.3 712.84,732.1 713.26,735.4 713.68,737.6 714.10,731.3 714.52,725.2 714.94,734.5 715.36,732.5 715.78,735.6 716.20,733.8 716.62,732.3 717.04,730.8 717.46,730.4 717.88,732.0 718.30,731.1 718.72,735.6 719.14,735.4 719.56,732.1 719.98,736.8 720.40,732.8 720.82,732.5 721.24,736.1 721.66,734.6 722.08,732.4 722.50,736.1 722.92,738.2 723.34,730.7 723.76,733.4 724.18,728.7 724.60,733.9 725.02,740.4 725.44,734.8 725.86,733.9 726.28,734.7 726.70,731.8 727.12,734.8 727.54,733.5 727.96,732.5 728.38,736.7 728.80,734.0 729.22,735.2 729.64,733.0 730.06,735.1 730.48,736.2 730.90,734.7 731.32,738.9 731.74,734.9 732.16,736.1 732.58,734.9 733.00,737.7 733.42,733.8 733.84,732.9 734.26,735.6 734.68,734.7 735.10,734.1 735.52,739.7 735.94,735.1 736.36,736.6 736.78,732.8 737.20,733.9 737.62,735.5 738.04,740.0 738.46,735.2 738.88,736.9 739.30,731.4 739.72,734.8 740.14,735.8 740.56,738.6 740.98,737.8 741.40,732.4 741.82,739.0 742.24,738.2 742.66,738.5 743.08,733.6 743.50,740.8 743.92,731.8 744.34,736.3 744.76,736.5 745.18,737.8 745.60,737.0 746.02,735.0 746.44,740.5 746.86,731.6 747.28,734.7 747.70,735.4 748.12,739.1 748.54,737.3 748.96,732.2 749.38,742.0 749.80,736.2 750.22,739.6 750.64,741.6 751.06,735.5 751.48,737.4 751.90,732.7 752.32,734.7 752.74,740.5 753.16,735.9 753.58,739.0 754.00,736.5 754.42,738.3 754.84,738.2 755.26,741.8 755.68,738.0 756.10,737.0 756.52,738.0 756.94,735.1 757.36,733.9 757.78,730.2 758.20,738.3 758.62,737.3 759.04,735.8 759.46,739.0 759.88,737.7 760.30,735.9 760.72,738.6 761.14,738.3 761.56,738.7 761.98,739.7 762.40,737.8 762.82,738.7 763.24,736.7 763.66,734.5 764.08,736.5 764.50,737.1 764.92,734.6 765.34,736.9 765.76,737.8 766.18,734.8 766.60,736.9 767.02,737.7 767.44,737.1 767.86,740.4 768.28,734.6 768.70,742.7 769.12,736.2 769.54,741.7 769.96,737.8 770.38,742.3 770.80,737.4 771.22,736.9 771.64,734.6 772.06,736.3 772.48,739.6 772.90,738.2 773.32,738.4 773.74,737.9 774.16,738.0 774.58,739.8 775.00,738.5 775.42,736.3 775.84,741.1 776.26,738.2 776.68,738.1 777.10,738.9 777.52,737.2 777.94,737.0 778.36,735.9 778.78,741.0 779.20,734.9 779.62,739.1 780.04,734.5 780.46,735.1 780.88,741.2 781.30,738.6 781.72,740.3 782.14,738.8 782.56,738.4 782.98,740.8 783.40,739.4 783.82,741.5 784.24,740.8 784.66,736.4 785.08,735.7 785.50,742.2 785.92,741.5 786.34,737.2 786.76,741.2 787.18,735.8 787.60,735.1 788.02,741.5 788.44,737.9 788.86,735.6 789.28,736.1 789.70,741.7 790.12,743.1 790.54,737.9 790.96,743.1 791.38,736.1 791.80,732.1 792.22,738.2 792.64,741.9 793.06,739.2 793.48,737.7 793.90,740.8 794.32,738.1 794.74,739.6 795.16,736.1 795.58,740.9 796.00,736.9 796.42,737.7 796.84,743.7 797.26,739.4 797.68,743.5 798.10,735.8 798.52,739.2 798.94,740.4 799.36,741.9 799.78,742.9 800.20,741.3 800.62,742.4 801.04,740.2 801.46,742.5 801.88,742.4 802.30,741.2 802.72,742.8 803.14,740.4 803.56,739.8 803.98,738.1 804.40,739.1 804.82,741.3 805.24,735.7 805.66,741.3 806.08,739.1 806.50,742.4 806.92,737.9 807.34,740.3 807.76,737.3 808.18,738.7 808.60,741.0 809.02,744.5 809.44,741.5 809.86,740.6 810.28,737.1 810.70,741.4 811.12,738.0 811.54,742.6 811.96,741.9 812.38,742.5 812.80,734.0 813.22,737.1 813.64,738.1 814.06,739.4 814.48,739.4 814.90,739.6 815.32,741.4 815.74,742.3 816.16,739.0 816.58,737.3 817.00,740.0 817.42,740.5 817.84,740.4 818.26,737.2 818.68,741.6 819.10,741.0 819.52,741.2 819.94,737.5 820.36,742.4 820.78,740.4 821.20,741.4 821.62,741.3 822.04,737.9 822.46,740.1 822.88,742.6 823.30,741.1 823.72,741.8 824.14,738.5 824.56,737.5 824.98,740.8 825.40,735.1 825.82,743.7 826.24,739.5 826.66,745.9 827.08,739.9 827.50,741.4 827.92,738.9 828.34,738.6 828.76,742.8 829.18,743.7 829.60,739.0 830.02,743.9 830.44,741.2 830.86,740.6 831.28,743.3 831.70,745.7 832.12,742.4 832.54,741.8 832.96,743.7 833.38,741.7 833.80,744.9 834.22,742.1 834.64,743.3 835.06,739.1 835.48,742.4 835.90,740.0 836.32,747.6 836.74,742.3 837.16,744.4 837.58,744.7 838.00,743.7 838.42,743.5 838.84,746.5 839.26,747.6 839.68,746.9 840.10,745.6 840.52,743.8 840.94,745.3 841.36,746.4 841.78,749.5 842.20,746.2 842.62,743.8 843.04,743.8 843.46,745.1 843.88,745.3 844.30,749.3 844.72,746.7 845.14,747.6 845.56,744.5 845.98,742.7 846.40,752.0 846.82,751.2 847.24,747.7 847.66,748.3 848.08,744.6 848.50,749.5 848.92,753.5 849.34,746.0 849.76,747.2 850.18,748.3 850.60,745.3 851.02,745.9 851.44,746.8 851.86,744.3 852.28,747.6 852.70,743.5 853.12,746.2 853.54,746.0 853.96,747.1 854.38,744.9 854.80,742.9 855.22,745.6 855.64,746.0 856.06,749.4 856.48,746.2 856.90,748.3 857.32,746.4 857.74,746.5 858.16,745.6 858.58,742.8 859.00,743.1 859.42,742.0 859.84,746.0 860.26,750.4 860.68,743.6 861.10,749.1 861.52,751.3 861.94,747.2 862.36,749.0 862.78,746.7 863.20,745.5 863.62,745.6 864.04,746.0 864.46,748.9 864.88,748.3 865.30,746.2 865.72,750.4 866.14,748.4 866.56,745.8 866.98,748.8 867.40,751.6 867.82,751.4 868.24,746.0 868.66,749.7 869.08,748.7 869.50,751.5 869.92,753.3 870.34,742.5 870.76,750.5 871.18,745.6 871.60,749.1 872.02,752.1 872.44,751.9 872.86,747.2 873.28,752.7 873.70,747.7 874.12,748.8 874.54,745.8 874.96,747.5 875.38,746.1 875.80,750.4 876.22,747.1 876.64,751.1 877.06,747.2 877.48,751.2 877.90,750.7 878.32,748.6 878.74,750.3 879.16,752.3 879.58,752.8 880.00,748.3 880.42,748.9 880.84,751.6 881.26,755.8 881.68,750.9 882.10,746.5 882.52,747.2 882.94,748.6 883.36,749.6 883.78,745.9 884.20,744.5 884.62,749.7 885.04,748.4 885.46,749.4 885.88,745.8 886.30,748.0 886.72,751.9 887.14,748.9 887.56,746.9 887.98,751.4 888.40,748.9 888.82,751.9 889.24,750.9 889.66,749.5 890.08,749.3 890.50,752.4 890.92,749.2 891.34,751.4 891.76,753.4 892.18,749.1 892.60,749.2 893.02,750.5 893.44,747.4 893.86,751.7 894.28,748.8 894.70,749.6 895.12,747.7 895.54,753.6 895.96,754.1 896.38,751.4 896.80,752.5 897.22,752.0 897.64,753.7 898.06,755.9 898.48,756.8 898.90,752.6 899.32,753.6 899.74,749.9 900.16,753.3 900.58,754.2 901.00,749.1 901.42,750.8 901.84,748.4 902.26,751.1 902.68,750.5 903.10,748.3 903.52,747.5 903.94,750.8 904.36,747.8 904.78,753.2 905.20,749.9 905.62,749.6 906.04,751.9 906.46,752.1 906.88,749.3 907.30,753.2 907.72,752.5 908.14,752.8 908.56,755.9 908.98,751.1 909.40,752.0 909.82,748.3 910.24,752.7 910.66,749.8 911.08,750.0 911.50,751.8 911.92,752.4 912.34,751.5 912.76,751.9 913.18,751.2 913.60,748.2 914.02,755.9 914.44,751.4 914.86,752.9 915.28,749.0 915.70,750.9 916.12,753.3 916.54,751.8 916.96,750.5 917.38,752.0 917.80,753.2 918.22,751.8 918.64,750.3 919.06,755.7 919.48,753.0 919.90,757.4 920.32,754.1 920.74,750.0 921.16,751.0 921.58,751.4 922.00,754.8 922.42,750.2 922.84,757.0 923.26,752.6 923.68,755.3 924.10,756.2 924.52,752.1 924.94,753.0 925.36,755.0 925.78,757.2 926.20,756.6 926.62,754.5 927.04,757.3 927.46,755.3 927.88,756.9 928.30,753.3 928.72,759.4 929.14,755.5 929.56,754.9 929.98,756.0 930.40,757.0 930.82,758.1 931.24,755.3 931.66,752.7 932.08,761.4 932.50,755.4 932.92,759.4 933.34,755.4 933.76,754.6 934.18,759.1 934.60,754.1 935.02,751.0 935.44,758.9 935.86,758.3 936.28,759.4 936.70,757.7 937.12,755.1 937.54,755.0 937.96,756.8 938.38,757.5 938.80,756.3 939.22,757.6 939.64,759.5 940.06,757.7 940.48,759.1 940.90,756.0 941.32,755.6 941.74,755.0 942.16,757.9 942.58,755.5 943.00,757.7 943.42,754.7 943.84,757.8 944.26,759.5 944.68,757.3 945.10,756.9 945.52,755.4 945.94,756.1 946.36,755.5 946.78,759.1 947.20,759.2 947.62,758.6 948.04,757.0 948.46,758.4 948.88,757.2 949.30,753.4 949.72,755.0 950.14,754.2 950.56,756.7 950.98,755.6 951.40,757.7 951.82,753.9 952.24,757.6 952.66,758.3 953.08,756.3 953.50,755.0 953.92,755.1 954.34,757.5 954.76,757.1 955.18,751.9 955.60,759.3 956.02,757.1 956.44,757.6 956.86,755.4 957.28,759.0 957.70,760.5 958.12,755.2 958.54,757.2 958.96,756.6 959.38,756.3 959.80,755.7 960.22,760.0 960.64,753.2 961.06,757.4 961.48,756.6 961.90,753.8 962.32,757.4 962.74,754.1 963.16,758.9 963.58,758.7 964.00,758.6 964.42,760.4 964.84,755.2 965.26,756.6 965.68,757.9 966.10,761.3 966.52,758.6 966.94,757.8 967.36,758.5 967.78,758.9 968.20,755.6 968.62,759.9 969.04,759.4 969.46,756.7 969.88,755.8 970.30,753.8 970.72,758.9 971.14,757.0 971.56,756.1 971.98,755.2 972.40,755.5 972.82,759.3 973.24,754.8 973.66,759.4 974.08,758.3 974.50,758.5 974.92,757.6 975.34,755.2 975.76,763.3 976.18,760.5 976.60,757.8 977.02,758.4 977.44,758.4 977.86,752.7 978.28,759.6 978.70,757.2 979.12,757.9 979.54,754.1 979.96,756.6 980.38,756.1 980.80,762.7 981.22,757.6 981.64,758.2 982.06,760.4 982.48,758.5 982.90,759.9 983.32,760.4 983.74,758.9 984.16,758.6 984.58,756.0 985.00,757.1 985.42,755.0 985.84,761.5 986.26,759.3 986.68,762.0 987.10,759.5 987.52,761.4 987.94,756.4 988.36,755.8 988.78,759.3 989.20,759.1 989.62,761.0 990.04,756.6 990.46,756.2 990.88,758.1 991.30,760.0 991.72,758.6 992.14,757.8 992.56,756.8 992.98,758.4 993.40,760.8 993.82,759.3 994.24,756.4 994.66,759.0 995.08,762.7 995.50,759.5 995.92,762.6 996.34,758.2 996.76,759.1 997.18,764.3 997.60,757.9 998.02,759.2 998.44,759.5 998.86,761.0 999.28,759.6 999.70,763.9 1000.12,762.6 1000.54,762.1 1000.96,761.1 1001.38,761.9 1001.80,756.8 1002.22,761.1 1002.64,757.6 1003.06,759.7 1003.48,763.3 1003.90,762.0 1004.32,758.2 1004.74,760.8 1005.16,760.6 1005.58,762.3 1006.00,760.3 1006.42,758.0 1006.84,762.2 1007.26,756.4 1007.68,760.5 1008.10,759.3 1008.52,759.5 1008.94,763.7 1009.36,758.5 1009.78,759.1 1010.20,761.5 1010.62,755.7 1011.04,757.6 1011.46,762.4 1011.88,760.4 1012.30,760.4 1012.72,764.2 1013.14,757.1 1013.56,760.8 1013.98,759.8 1014.40,761.0 1014.82,758.4 1015.24,756.4 1015.66,760.3 1016.08,757.5 1016.50,759.4 1016.92,757.4 1017.34,761.6 1017.76,759.6 1018.18,762.8 1018.60,763.6 1019.02,758.9 1019.44,758.5 1019.86,760.5 1020.28,762.1 1020.70,762.8 1021.12,760.3 1021.54,761.3 1021.96,762.5 1022.38,761.4 1022.80,758.7 1023.22,761.6 1023.64,762.7 1024.06,758.4 1024.48,761.0 1024.90,761.7 1025.32,759.8 1025.74,760.2 1026.16,761.0 1026.58,761.1 1027.00,761.0 1027.42,759.5 1027.84,760.0 1028.26,763.0 1028.68,758.4 1029.10,760.7 1029.52,756.7 1029.94,762.1 1030.36,757.6 1030.78,762.3 1031.20,763.4 1031.62,760.8 1032.04,759.5 1032.46,761.5 1032.88,763.8 1033.30,763.5 1033.72,759.6 1034.14,762.8 1034.56,760.3 1034.98,762.5 1035.40,761.6 1035.82,761.7 1036.24,761.2 1036.66,760.5 1037.08,763.2 1037.50,758.4 1037.92,759.3 1038.34,761.0 1038.76,760.9 1039.18,762.1 1039.60,763.0 1040.02,760.1 1040.44,758.8 1040.86,765.7 1041.28,756.1 1041.70,761.4 1042.12,761.3 1042.54,760.0 1042.96,764.9 1043.38,761.5 1043.80,755.2 1044.22,762.0 1044.64,762.7 1045.06,764.7 1045.48,761.7 1045.90,758.7 1046.32,760.2 1046.74,759.9 1047.16,758.1 1047.58,761.9 1048.00,763.0 1048.42,763.3 1048.84,763.4 1049.26,762.3 1049.68,760.3 1050.10,765.7 1050.52,761.4 1050.94,758.9 1051.36,761.8 1051.78,759.1 1052.20,761.3 1052.62,763.0 1053.04,760.0 1053.46,761.0 1053.88,762.3 1054.30,761.2 1054.72,761.3 1055.14,759.5 1055.56,759.8 1055.98,762.1 1056.40,761.1 1056.82,761.8 1057.24,761.0 1057.66,758.0 1058.08,762.0 1058.50,758.7 1058.92,762.6 1059.34,762.4 1059.76,761.8 1060.18,761.6 1060.60,763.9 1061.02,763.2 1061.44,757.8 1061.86,760.9 1062.28,763.9 1062.70,759.8 1063.12,759.2 1063.54,763.5 1063.96,760.0 1064.38,764.0 1064.80,763.8 1065.22,760.7 1065.64,759.9 1066.06,766.3 1066.48,763.1 1066.90,762.3 1067.32,762.6 1067.74,765.4 1068.16,763.2 1068.58,761.4 1069.00,761.8 1069.42,764.3 1069.84,763.4 1070.26,762.6 1070.68,763.3 1071.10,758.6 1071.52,765.9 1071.94,762.3 1072.36,761.3 1072.78,757.5 1073.20,763.3 1073.62,758.0 1074.04,766.4 1074.46,757.0 1074.88,763.4 1075.30,760.6 1075.72,764.6 1076.14,756.6 1076.56,760.9 1076.98,758.6 1077.40,761.7 1077.82,762.2 1078.24,762.6 1078.66,764.1 1079.08,762.0 1079.50,760.9 1079.92,763.0 1080.34,762.3 1080.76,762.3 1081.18,763.3 1081.60,766.1 1082.02,763.6 1082.44,765.1 1082.86,764.7 1083.28,761.2 1083.70,766.1 1084.12,764.1 1084.54,762.1 1084.96,764.1 1085.38,765.5 1085.80,764.2 1086.22,765.5 1086.64,761.9 1087.06,759.3 1087.48,761.6 1087.90,763.0 1088.32,762.4 1088.74,764.7 1089.16,759.5 1089.58,763.7 1090.00,765.9 1090.42,763.9 1090.84,762.8 1091.26,765.5 1091.68,759.8 1092.10,764.3 1092.52,766.9 1092.94,762.4 1093.36,764.1 1093.78,763.2 1094.20,763.2 1094.62,764.7 1095.04,765.4 1095.46,759.9 1095.88,757.9 1096.30,764.1 1096.72,761.7 1097.14,761.9 1097.56,762.9 1097.98,763.2 1098.40,763.1 1098.82,765.1 1099.24,762.4 1099.66,764.7 1100.08,762.1 1100.50,762.7 1100.92,762.6 1101.34,766.4 1101.76,765.3 1102.18,764.5 1102.60,762.6 1103.02,762.4 1103.44,764.6 1103.86,765.4 1104.28,765.3 1104.70,762.9 1105.12,763.4 1105.54,762.0 1105.96,765.0 1106.38,764.8 1106.80,766.0 1107.22,765.0 1107.64,765.2 1108.06,762.5 1108.48,761.1 1108.90,765.8 1109.32,763.7 1109.74,765.6 1110.16,760.0 1110.58,764.0 1111.00,762.6 1111.42,764.8 1111.84,758.2 1112.26,763.4 1112.68,762.7 1113.10,762.0 1113.52,761.2 1113.94,766.7 1114.36,764.1 1114.78,763.5 1115.20,763.6 1115.62,765.0 1116.04,764.9 1116.46,766.2 1116.88,759.5 1117.30,759.0 1117.72,762.9 1118.14,760.6 1118.56,765.3 1118.98,762.8 1119.40,768.6 1119.82,763.7 1120.24,761.5 1120.66,763.1 1121.08,766.3 1121.50,765.0 1121.92,763.9 1122.34,762.4 1122.76,761.0 1123.18,762.8 1123.60,768.0 1124.02,764.1 1124.44,761.4 1124.86,760.7 1125.28,764.5 1125.70,766.6 1126.12,765.8 1126.54,762.5 1126.96,760.9 1127.38,765.5 1127.80,762.4 1128.22,766.2 1128.64,760.8 1129.06,763.8 1129.48,762.1 1129.90,762.7 1130.32,767.0 1130.74,760.9 1131.16,760.6 1131.58,764.6 1132.00,765.5 1132.42,763.5 1132.84,766.7 1133.26,764.1 1133.68,759.6 1134.10,763.6 1134.52,766.4 1134.94,763.1 1135.36,762.9 1135.78,766.4 1136.20,769.1 1136.62,765.0 1137.04,763.8 1137.46,767.3 1137.88,765.3 1138.30,765.9 1138.72,764.0 1139.14,766.0 1139.56,764.0 1139.98,767.9 1140.40,765.3 1140.82,763.9 1141.24,767.4 1141.66,763.5 1142.08,758.8 1142.50,761.7 1142.92,763.0 1143.34,765.5 1143.76,766.7 1144.18,763.0 1144.60,766.1 1145.02,764.8 1145.44,763.3 1145.86,764.9 1146.28,760.6 1146.70,762.9 1147.12,766.9 1147.54,762.5 1147.96,765.9 1148.38,763.6 1148.80,764.7 1149.22,761.0 1149.64,765.9 1150.06,763.7 1150.48,762.5 1150.90,772.0 1151.32,759.9 1151.74,764.5 1152.16,765.0 1152.58,767.5 1153.00,761.8 1153.42,765.7 1153.84,765.6 1154.26,764.6 1154.68,765.5 1155.10,763.9 1155.52,763.4 1155.94,766.7 1156.36,762.4 1156.78,765.7"/>
</g>
<defs><clipPath id="clip"><rect x="103" y="124" width="1056" height="648"/></clipPath></defs>
<!-- reference bars -->
<rect x="298" y="969" width="7" height="19" fill="#0000FF"/>
<rect x="485" y="908" width="7" height="79" fill="#0000FF"/>
<rect x="674" y="919" width="7" height="69" fill="#FF00FF"/>
<rect x="821" y="880" width="7" height="107" fill="#FF00FF"/>
<rect x="831" y="868" width="7" height="120" fill="#000"/>
<rect x="987" y="958" width="7" height="32" fill="#000"/>
<!-- frame -->
<rect x="103" y="124" width="1056" height="863" fill="none" stroke="#000" stroke-width="4"/>
<line x1="101" y1="773" x2="1161" y2="773" stroke="#000" stroke-width="4"/>
<!-- ticks -->
<g stroke="#000" stroke-width="4">
<line x1="103" y1="987" x2="103" y2="1004"/>
<line x1="314" y1="987" x2="314" y2="1004"/>
<line x1="525" y1="987" x2="525" y2="1004"/>
<line x1="736" y1="987" x2="736" y2="1004"/>
<line x1="948" y1="987" x2="948" y2="1004"/>
<line x1="1159" y1="987" x2="1159" y2="1004"/>
</g>
<g font-size="48" text-anchor="middle" fill="#000">
<text x="104" y="1053">10</text>
<text x="314" y="1053">20</text>
<text x="525" y="1053">30</text>
<text x="736" y="1053">40</text>
<text x="948" y="1053">50</text>
<text x="1159" y="1053">60</text>
</g>
<text x="630" y="1144" font-size="61" text-anchor="middle">2-theta (deg)</text>
<text transform="translate(63,555) rotate(-90)" font-size="61" text-anchor="middle">Intensity (a.u.)</text>
<!-- annotations -->
<g font-size="44" text-anchor="middle">
<text transform="translate(367.7,173.3) rotate(-90)">(002)</text>
<text transform="translate(849,287.6) rotate(-90)">(111)</text>
<text transform="translate(1006.9,343.5) rotate(-90)">(200)</text>
</g>
<path d="M833.8 336 L848 351 L833.8 366 L819.6 351 Z" fill="#000"/>
<path d="M992 391 L1006 405.5 L992 420 L978 405.5 Z" fill="#000"/>
<!-- reference labels -->
<g font-size="46">
<text transform="translate(107,817) scale(0.962,1)">Reference peaks</text>
<text x="107" y="867">Ni</text>
<text transform="translate(107,912) scale(0.977,1)" fill="#FF00FF">NiO</text>
<text transform="translate(107,956) scale(0.978,1)" fill="#0000FF">Ni(NO<tspan font-size="30" dy="12">3</tspan><tspan dy="-12">)</tspan><tspan font-size="30" dy="12">2</tspan></text>
</g>
<!-- legend -->
<rect x="1030" y="28" width="345" height="372" fill="#000"/>
<rect x="1018.5" y="16.5" width="345" height="370" fill="#fff" stroke="#000" stroke-width="1"/>
<g stroke-width="4">
<line x1="1024" y1="50" x2="1112" y2="50" stroke="#FF8000"/>
<line x1="1024" y1="111" x2="1112" y2="111" stroke="#8000FF"/>
<line x1="1024" y1="171" x2="1112" y2="171" stroke="#00DC00"/>
<line x1="1024" y1="232" x2="1112" y2="232" stroke="#0000FF"/>
<line x1="1024" y1="292" x2="1112" y2="292" stroke="#FF0000"/>
<line x1="1024" y1="353" x2="1112" y2="353" stroke="#000"/>
</g>
<g font-size="48">
<text x="1124" y="66.6">9.0-Ni-ACF</text>
<text x="1124" y="127.2">5.0-Ni-ACF</text>
<text x="1124" y="187.8">1.0-Ni-ACF</text>
<text x="1124" y="248.4">0.5-Ni-ACF</text>
<text x="1124" y="309">0.1-Ni-ACF</text>
<text x="1124" y="369.6">PI-ACF</text>
</g>
</svg>
</body></html>
